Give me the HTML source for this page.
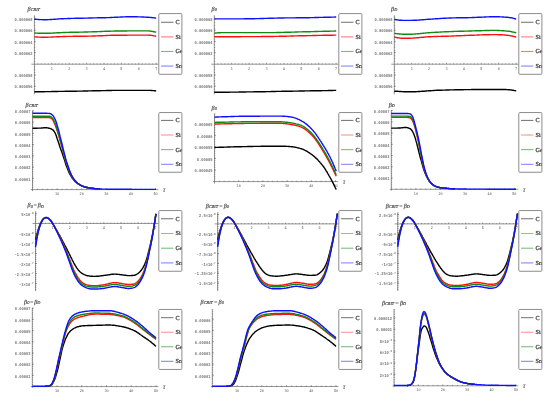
<!DOCTYPE html>
<html><head><meta charset="utf-8"><style>
html,body{margin:0;padding:0;background:#fff;width:550px;height:401px;overflow:hidden}
svg{display:block;will-change:transform}
text{text-rendering:geometricPrecision}
.tl{font-family:"Liberation Mono",monospace;font-size:3.75px;font-weight:bold;fill:#7a7a7a}
.lg{font-family:"Liberation Serif",serif;font-size:6.1px;fill:#2a2a2a;stroke:#2a2a2a;stroke-width:0.22px}
.tt{font-family:"Liberation Serif",serif;font-style:italic;font-size:6.1px;fill:#454545;stroke:#454545;stroke-width:0.15px}
.xl{font-family:"Liberation Mono",monospace;font-size:3.5px;fill:#5a5a5a}
.sb{font-size:4.3px}
.mn{font-style:normal}
.tau{font-family:"Liberation Serif",serif;font-style:italic;font-size:7.6px;fill:#333}
</style></head><body>
<svg width="550" height="401" viewBox="0 0 550 401"><defs><clipPath id="lc1"><rect x="158.80" y="13.60" width="23.10" height="60.70"/></clipPath><clipPath id="lc2"><rect x="338.80" y="13.60" width="23.10" height="60.70"/></clipPath><clipPath id="lc3"><rect x="518.80" y="13.60" width="23.10" height="60.70"/></clipPath><clipPath id="lc4"><rect x="158.80" y="112.55" width="23.10" height="59.70"/></clipPath><clipPath id="lc5"><rect x="518.80" y="112.55" width="23.10" height="59.70"/></clipPath><clipPath id="lc6"><rect x="338.80" y="112.55" width="23.10" height="59.70"/></clipPath><clipPath id="lc7"><rect x="158.80" y="210.55" width="23.10" height="60.70"/></clipPath><clipPath id="lc8"><rect x="338.80" y="210.55" width="23.10" height="60.70"/></clipPath><clipPath id="lc9"><rect x="518.80" y="210.55" width="23.10" height="60.70"/></clipPath><clipPath id="lc10"><rect x="158.80" y="309.45" width="23.10" height="60.00"/></clipPath><clipPath id="lc11"><rect x="338.80" y="309.45" width="23.10" height="60.00"/></clipPath><clipPath id="lc12"><rect x="518.80" y="309.45" width="23.10" height="60.00"/></clipPath></defs>
<line x1="34.40" y1="15.20" x2="34.40" y2="94.40" stroke="#747474" stroke-width="0.75"/>
<line x1="34.20" y1="17.00" x2="35.30" y2="17.00" stroke="#4a4a4a" stroke-width="0.5"/>
<line x1="34.20" y1="19.77" x2="35.30" y2="19.77" stroke="#4a4a4a" stroke-width="0.5"/>
<line x1="34.20" y1="22.55" x2="35.30" y2="22.55" stroke="#4a4a4a" stroke-width="0.5"/>
<line x1="34.20" y1="25.32" x2="35.30" y2="25.32" stroke="#4a4a4a" stroke-width="0.5"/>
<line x1="34.20" y1="28.10" x2="35.30" y2="28.10" stroke="#4a4a4a" stroke-width="0.5"/>
<line x1="34.20" y1="30.87" x2="35.30" y2="30.87" stroke="#4a4a4a" stroke-width="0.5"/>
<line x1="34.20" y1="33.65" x2="35.30" y2="33.65" stroke="#4a4a4a" stroke-width="0.5"/>
<line x1="34.20" y1="36.42" x2="35.30" y2="36.42" stroke="#4a4a4a" stroke-width="0.5"/>
<line x1="34.20" y1="39.20" x2="35.30" y2="39.20" stroke="#4a4a4a" stroke-width="0.5"/>
<line x1="34.20" y1="41.97" x2="35.30" y2="41.97" stroke="#4a4a4a" stroke-width="0.5"/>
<line x1="34.20" y1="44.75" x2="35.30" y2="44.75" stroke="#4a4a4a" stroke-width="0.5"/>
<line x1="34.20" y1="47.52" x2="35.30" y2="47.52" stroke="#4a4a4a" stroke-width="0.5"/>
<line x1="34.20" y1="50.30" x2="35.30" y2="50.30" stroke="#4a4a4a" stroke-width="0.5"/>
<line x1="34.20" y1="53.07" x2="35.30" y2="53.07" stroke="#4a4a4a" stroke-width="0.5"/>
<line x1="34.20" y1="55.85" x2="35.30" y2="55.85" stroke="#4a4a4a" stroke-width="0.5"/>
<line x1="34.20" y1="58.62" x2="35.30" y2="58.62" stroke="#4a4a4a" stroke-width="0.5"/>
<line x1="34.20" y1="61.40" x2="35.30" y2="61.40" stroke="#4a4a4a" stroke-width="0.5"/>
<line x1="34.20" y1="64.17" x2="35.30" y2="64.17" stroke="#4a4a4a" stroke-width="0.5"/>
<line x1="34.20" y1="66.95" x2="35.30" y2="66.95" stroke="#4a4a4a" stroke-width="0.5"/>
<line x1="34.20" y1="69.72" x2="35.30" y2="69.72" stroke="#4a4a4a" stroke-width="0.5"/>
<line x1="34.20" y1="72.50" x2="35.30" y2="72.50" stroke="#4a4a4a" stroke-width="0.5"/>
<line x1="34.20" y1="75.28" x2="35.30" y2="75.28" stroke="#4a4a4a" stroke-width="0.5"/>
<line x1="34.20" y1="78.05" x2="35.30" y2="78.05" stroke="#4a4a4a" stroke-width="0.5"/>
<line x1="34.20" y1="80.83" x2="35.30" y2="80.83" stroke="#4a4a4a" stroke-width="0.5"/>
<line x1="34.20" y1="83.60" x2="35.30" y2="83.60" stroke="#4a4a4a" stroke-width="0.5"/>
<line x1="34.20" y1="86.38" x2="35.30" y2="86.38" stroke="#4a4a4a" stroke-width="0.5"/>
<line x1="34.20" y1="89.15" x2="35.30" y2="89.15" stroke="#4a4a4a" stroke-width="0.5"/>
<line x1="34.20" y1="91.93" x2="35.30" y2="91.93" stroke="#4a4a4a" stroke-width="0.5"/>
<line x1="34.20" y1="19.00" x2="35.80" y2="19.00" stroke="#4a4a4a" stroke-width="0.55"/>
<text transform="translate(32.50,21.20) scale(1,1.18)" class="tl" text-anchor="end">0.000068</text>
<line x1="34.20" y1="30.10" x2="35.80" y2="30.10" stroke="#4a4a4a" stroke-width="0.55"/>
<text transform="translate(32.50,32.30) scale(1,1.18)" class="tl" text-anchor="end">0.000066</text>
<line x1="34.20" y1="41.40" x2="35.80" y2="41.40" stroke="#4a4a4a" stroke-width="0.55"/>
<text transform="translate(32.50,43.60) scale(1,1.18)" class="tl" text-anchor="end">0.000064</text>
<line x1="34.20" y1="52.60" x2="35.80" y2="52.60" stroke="#4a4a4a" stroke-width="0.55"/>
<text transform="translate(32.50,54.80) scale(1,1.18)" class="tl" text-anchor="end">0.000062</text>
<line x1="34.20" y1="75.00" x2="35.80" y2="75.00" stroke="#4a4a4a" stroke-width="0.55"/>
<text transform="translate(32.50,77.20) scale(1,1.18)" class="tl" text-anchor="end">0.000058</text>
<line x1="34.20" y1="86.10" x2="35.80" y2="86.10" stroke="#4a4a4a" stroke-width="0.55"/>
<text transform="translate(32.50,88.30) scale(1,1.18)" class="tl" text-anchor="end">0.000056</text>
<line x1="31.40" y1="64.20" x2="158.80" y2="64.20" stroke="#747474" stroke-width="0.75"/>
<line x1="37.88" y1="64.40" x2="37.88" y2="63.30" stroke="#4a4a4a" stroke-width="0.5"/>
<line x1="41.36" y1="64.40" x2="41.36" y2="63.30" stroke="#4a4a4a" stroke-width="0.5"/>
<line x1="44.84" y1="64.40" x2="44.84" y2="63.30" stroke="#4a4a4a" stroke-width="0.5"/>
<line x1="48.32" y1="64.40" x2="48.32" y2="63.30" stroke="#4a4a4a" stroke-width="0.5"/>
<line x1="55.28" y1="64.40" x2="55.28" y2="63.30" stroke="#4a4a4a" stroke-width="0.5"/>
<line x1="58.76" y1="64.40" x2="58.76" y2="63.30" stroke="#4a4a4a" stroke-width="0.5"/>
<line x1="62.24" y1="64.40" x2="62.24" y2="63.30" stroke="#4a4a4a" stroke-width="0.5"/>
<line x1="65.72" y1="64.40" x2="65.72" y2="63.30" stroke="#4a4a4a" stroke-width="0.5"/>
<line x1="72.68" y1="64.40" x2="72.68" y2="63.30" stroke="#4a4a4a" stroke-width="0.5"/>
<line x1="76.16" y1="64.40" x2="76.16" y2="63.30" stroke="#4a4a4a" stroke-width="0.5"/>
<line x1="79.64" y1="64.40" x2="79.64" y2="63.30" stroke="#4a4a4a" stroke-width="0.5"/>
<line x1="83.12" y1="64.40" x2="83.12" y2="63.30" stroke="#4a4a4a" stroke-width="0.5"/>
<line x1="90.08" y1="64.40" x2="90.08" y2="63.30" stroke="#4a4a4a" stroke-width="0.5"/>
<line x1="93.56" y1="64.40" x2="93.56" y2="63.30" stroke="#4a4a4a" stroke-width="0.5"/>
<line x1="97.04" y1="64.40" x2="97.04" y2="63.30" stroke="#4a4a4a" stroke-width="0.5"/>
<line x1="100.52" y1="64.40" x2="100.52" y2="63.30" stroke="#4a4a4a" stroke-width="0.5"/>
<line x1="107.48" y1="64.40" x2="107.48" y2="63.30" stroke="#4a4a4a" stroke-width="0.5"/>
<line x1="110.96" y1="64.40" x2="110.96" y2="63.30" stroke="#4a4a4a" stroke-width="0.5"/>
<line x1="114.44" y1="64.40" x2="114.44" y2="63.30" stroke="#4a4a4a" stroke-width="0.5"/>
<line x1="117.92" y1="64.40" x2="117.92" y2="63.30" stroke="#4a4a4a" stroke-width="0.5"/>
<line x1="124.88" y1="64.40" x2="124.88" y2="63.30" stroke="#4a4a4a" stroke-width="0.5"/>
<line x1="128.36" y1="64.40" x2="128.36" y2="63.30" stroke="#4a4a4a" stroke-width="0.5"/>
<line x1="131.84" y1="64.40" x2="131.84" y2="63.30" stroke="#4a4a4a" stroke-width="0.5"/>
<line x1="135.32" y1="64.40" x2="135.32" y2="63.30" stroke="#4a4a4a" stroke-width="0.5"/>
<line x1="142.28" y1="64.40" x2="142.28" y2="63.30" stroke="#4a4a4a" stroke-width="0.5"/>
<line x1="145.76" y1="64.40" x2="145.76" y2="63.30" stroke="#4a4a4a" stroke-width="0.5"/>
<line x1="149.24" y1="64.40" x2="149.24" y2="63.30" stroke="#4a4a4a" stroke-width="0.5"/>
<line x1="152.72" y1="64.40" x2="152.72" y2="63.30" stroke="#4a4a4a" stroke-width="0.5"/>
<line x1="51.80" y1="64.40" x2="51.80" y2="62.80" stroke="#4a4a4a" stroke-width="0.55"/>
<text transform="translate(51.80,69.50) scale(1,1.15)" class="xl" text-anchor="middle">1</text>
<line x1="69.20" y1="64.40" x2="69.20" y2="62.80" stroke="#4a4a4a" stroke-width="0.55"/>
<text transform="translate(69.20,69.50) scale(1,1.15)" class="xl" text-anchor="middle">2</text>
<line x1="86.60" y1="64.40" x2="86.60" y2="62.80" stroke="#4a4a4a" stroke-width="0.55"/>
<text transform="translate(86.60,69.50) scale(1,1.15)" class="xl" text-anchor="middle">3</text>
<line x1="104.00" y1="64.40" x2="104.00" y2="62.80" stroke="#4a4a4a" stroke-width="0.55"/>
<text transform="translate(104.00,69.50) scale(1,1.15)" class="xl" text-anchor="middle">4</text>
<line x1="121.40" y1="64.40" x2="121.40" y2="62.80" stroke="#4a4a4a" stroke-width="0.55"/>
<text transform="translate(121.40,69.50) scale(1,1.15)" class="xl" text-anchor="middle">5</text>
<line x1="138.80" y1="64.40" x2="138.80" y2="62.80" stroke="#4a4a4a" stroke-width="0.55"/>
<text transform="translate(138.80,69.50) scale(1,1.15)" class="xl" text-anchor="middle">6</text>
<line x1="156.20" y1="64.40" x2="156.20" y2="62.80" stroke="#4a4a4a" stroke-width="0.55"/>
<text transform="translate(156.20,69.50) scale(1,1.15)" class="xl" text-anchor="middle">7</text>
<rect x="158.80" y="13.60" width="23.10" height="60.70" fill="#ffffff"/>
<g clip-path="url(#lc1)">
<line x1="161.00" y1="22.25" x2="173.40" y2="22.25" stroke="#4a4a4a" stroke-width="0.80"/>
<text x="175.60" y="24.15" class="lg">C</text>
<line x1="161.00" y1="36.85" x2="173.40" y2="36.85" stroke="#ff8c8c" stroke-width="1.10"/>
<text x="175.60" y="38.75" class="lg">Si</text>
<line x1="161.00" y1="51.45" x2="173.40" y2="51.45" stroke="#4aa64a" stroke-width="0.80"/>
<text x="175.60" y="53.35" class="lg">Ge</text>
<line x1="161.00" y1="66.05" x2="173.40" y2="66.05" stroke="#7474ff" stroke-width="0.95"/>
<text x="175.60" y="67.95" class="lg">Sn</text>
</g>
<rect x="158.80" y="13.60" width="23.10" height="60.70" rx="0.9" fill="none" stroke="#8c8c8c" stroke-width="1.0"/>
<line x1="214.30" y1="15.20" x2="214.30" y2="94.40" stroke="#747474" stroke-width="0.75"/>
<line x1="214.10" y1="17.00" x2="215.20" y2="17.00" stroke="#4a4a4a" stroke-width="0.5"/>
<line x1="214.10" y1="19.77" x2="215.20" y2="19.77" stroke="#4a4a4a" stroke-width="0.5"/>
<line x1="214.10" y1="22.55" x2="215.20" y2="22.55" stroke="#4a4a4a" stroke-width="0.5"/>
<line x1="214.10" y1="25.32" x2="215.20" y2="25.32" stroke="#4a4a4a" stroke-width="0.5"/>
<line x1="214.10" y1="28.10" x2="215.20" y2="28.10" stroke="#4a4a4a" stroke-width="0.5"/>
<line x1="214.10" y1="30.87" x2="215.20" y2="30.87" stroke="#4a4a4a" stroke-width="0.5"/>
<line x1="214.10" y1="33.65" x2="215.20" y2="33.65" stroke="#4a4a4a" stroke-width="0.5"/>
<line x1="214.10" y1="36.42" x2="215.20" y2="36.42" stroke="#4a4a4a" stroke-width="0.5"/>
<line x1="214.10" y1="39.20" x2="215.20" y2="39.20" stroke="#4a4a4a" stroke-width="0.5"/>
<line x1="214.10" y1="41.97" x2="215.20" y2="41.97" stroke="#4a4a4a" stroke-width="0.5"/>
<line x1="214.10" y1="44.75" x2="215.20" y2="44.75" stroke="#4a4a4a" stroke-width="0.5"/>
<line x1="214.10" y1="47.52" x2="215.20" y2="47.52" stroke="#4a4a4a" stroke-width="0.5"/>
<line x1="214.10" y1="50.30" x2="215.20" y2="50.30" stroke="#4a4a4a" stroke-width="0.5"/>
<line x1="214.10" y1="53.07" x2="215.20" y2="53.07" stroke="#4a4a4a" stroke-width="0.5"/>
<line x1="214.10" y1="55.85" x2="215.20" y2="55.85" stroke="#4a4a4a" stroke-width="0.5"/>
<line x1="214.10" y1="58.62" x2="215.20" y2="58.62" stroke="#4a4a4a" stroke-width="0.5"/>
<line x1="214.10" y1="61.40" x2="215.20" y2="61.40" stroke="#4a4a4a" stroke-width="0.5"/>
<line x1="214.10" y1="64.17" x2="215.20" y2="64.17" stroke="#4a4a4a" stroke-width="0.5"/>
<line x1="214.10" y1="66.95" x2="215.20" y2="66.95" stroke="#4a4a4a" stroke-width="0.5"/>
<line x1="214.10" y1="69.72" x2="215.20" y2="69.72" stroke="#4a4a4a" stroke-width="0.5"/>
<line x1="214.10" y1="72.50" x2="215.20" y2="72.50" stroke="#4a4a4a" stroke-width="0.5"/>
<line x1="214.10" y1="75.28" x2="215.20" y2="75.28" stroke="#4a4a4a" stroke-width="0.5"/>
<line x1="214.10" y1="78.05" x2="215.20" y2="78.05" stroke="#4a4a4a" stroke-width="0.5"/>
<line x1="214.10" y1="80.83" x2="215.20" y2="80.83" stroke="#4a4a4a" stroke-width="0.5"/>
<line x1="214.10" y1="83.60" x2="215.20" y2="83.60" stroke="#4a4a4a" stroke-width="0.5"/>
<line x1="214.10" y1="86.38" x2="215.20" y2="86.38" stroke="#4a4a4a" stroke-width="0.5"/>
<line x1="214.10" y1="89.15" x2="215.20" y2="89.15" stroke="#4a4a4a" stroke-width="0.5"/>
<line x1="214.10" y1="91.93" x2="215.20" y2="91.93" stroke="#4a4a4a" stroke-width="0.5"/>
<line x1="214.10" y1="19.00" x2="215.70" y2="19.00" stroke="#4a4a4a" stroke-width="0.55"/>
<text transform="translate(212.40,21.20) scale(1,1.18)" class="tl" text-anchor="end">0.000068</text>
<line x1="214.10" y1="30.10" x2="215.70" y2="30.10" stroke="#4a4a4a" stroke-width="0.55"/>
<text transform="translate(212.40,32.30) scale(1,1.18)" class="tl" text-anchor="end">0.000066</text>
<line x1="214.10" y1="41.40" x2="215.70" y2="41.40" stroke="#4a4a4a" stroke-width="0.55"/>
<text transform="translate(212.40,43.60) scale(1,1.18)" class="tl" text-anchor="end">0.000064</text>
<line x1="214.10" y1="52.60" x2="215.70" y2="52.60" stroke="#4a4a4a" stroke-width="0.55"/>
<text transform="translate(212.40,54.80) scale(1,1.18)" class="tl" text-anchor="end">0.000062</text>
<line x1="214.10" y1="75.00" x2="215.70" y2="75.00" stroke="#4a4a4a" stroke-width="0.55"/>
<text transform="translate(212.40,77.20) scale(1,1.18)" class="tl" text-anchor="end">0.000058</text>
<line x1="214.10" y1="86.10" x2="215.70" y2="86.10" stroke="#4a4a4a" stroke-width="0.55"/>
<text transform="translate(212.40,88.30) scale(1,1.18)" class="tl" text-anchor="end">0.000056</text>
<line x1="211.30" y1="64.20" x2="338.80" y2="64.20" stroke="#747474" stroke-width="0.75"/>
<line x1="217.78" y1="64.40" x2="217.78" y2="63.30" stroke="#4a4a4a" stroke-width="0.5"/>
<line x1="221.26" y1="64.40" x2="221.26" y2="63.30" stroke="#4a4a4a" stroke-width="0.5"/>
<line x1="224.74" y1="64.40" x2="224.74" y2="63.30" stroke="#4a4a4a" stroke-width="0.5"/>
<line x1="228.22" y1="64.40" x2="228.22" y2="63.30" stroke="#4a4a4a" stroke-width="0.5"/>
<line x1="235.18" y1="64.40" x2="235.18" y2="63.30" stroke="#4a4a4a" stroke-width="0.5"/>
<line x1="238.66" y1="64.40" x2="238.66" y2="63.30" stroke="#4a4a4a" stroke-width="0.5"/>
<line x1="242.14" y1="64.40" x2="242.14" y2="63.30" stroke="#4a4a4a" stroke-width="0.5"/>
<line x1="245.62" y1="64.40" x2="245.62" y2="63.30" stroke="#4a4a4a" stroke-width="0.5"/>
<line x1="252.58" y1="64.40" x2="252.58" y2="63.30" stroke="#4a4a4a" stroke-width="0.5"/>
<line x1="256.06" y1="64.40" x2="256.06" y2="63.30" stroke="#4a4a4a" stroke-width="0.5"/>
<line x1="259.54" y1="64.40" x2="259.54" y2="63.30" stroke="#4a4a4a" stroke-width="0.5"/>
<line x1="263.02" y1="64.40" x2="263.02" y2="63.30" stroke="#4a4a4a" stroke-width="0.5"/>
<line x1="269.98" y1="64.40" x2="269.98" y2="63.30" stroke="#4a4a4a" stroke-width="0.5"/>
<line x1="273.46" y1="64.40" x2="273.46" y2="63.30" stroke="#4a4a4a" stroke-width="0.5"/>
<line x1="276.94" y1="64.40" x2="276.94" y2="63.30" stroke="#4a4a4a" stroke-width="0.5"/>
<line x1="280.42" y1="64.40" x2="280.42" y2="63.30" stroke="#4a4a4a" stroke-width="0.5"/>
<line x1="287.38" y1="64.40" x2="287.38" y2="63.30" stroke="#4a4a4a" stroke-width="0.5"/>
<line x1="290.86" y1="64.40" x2="290.86" y2="63.30" stroke="#4a4a4a" stroke-width="0.5"/>
<line x1="294.34" y1="64.40" x2="294.34" y2="63.30" stroke="#4a4a4a" stroke-width="0.5"/>
<line x1="297.82" y1="64.40" x2="297.82" y2="63.30" stroke="#4a4a4a" stroke-width="0.5"/>
<line x1="304.78" y1="64.40" x2="304.78" y2="63.30" stroke="#4a4a4a" stroke-width="0.5"/>
<line x1="308.26" y1="64.40" x2="308.26" y2="63.30" stroke="#4a4a4a" stroke-width="0.5"/>
<line x1="311.74" y1="64.40" x2="311.74" y2="63.30" stroke="#4a4a4a" stroke-width="0.5"/>
<line x1="315.22" y1="64.40" x2="315.22" y2="63.30" stroke="#4a4a4a" stroke-width="0.5"/>
<line x1="322.18" y1="64.40" x2="322.18" y2="63.30" stroke="#4a4a4a" stroke-width="0.5"/>
<line x1="325.66" y1="64.40" x2="325.66" y2="63.30" stroke="#4a4a4a" stroke-width="0.5"/>
<line x1="329.14" y1="64.40" x2="329.14" y2="63.30" stroke="#4a4a4a" stroke-width="0.5"/>
<line x1="332.62" y1="64.40" x2="332.62" y2="63.30" stroke="#4a4a4a" stroke-width="0.5"/>
<line x1="231.70" y1="64.40" x2="231.70" y2="62.80" stroke="#4a4a4a" stroke-width="0.55"/>
<text transform="translate(231.70,69.50) scale(1,1.15)" class="xl" text-anchor="middle">1</text>
<line x1="249.10" y1="64.40" x2="249.10" y2="62.80" stroke="#4a4a4a" stroke-width="0.55"/>
<text transform="translate(249.10,69.50) scale(1,1.15)" class="xl" text-anchor="middle">2</text>
<line x1="266.50" y1="64.40" x2="266.50" y2="62.80" stroke="#4a4a4a" stroke-width="0.55"/>
<text transform="translate(266.50,69.50) scale(1,1.15)" class="xl" text-anchor="middle">3</text>
<line x1="283.90" y1="64.40" x2="283.90" y2="62.80" stroke="#4a4a4a" stroke-width="0.55"/>
<text transform="translate(283.90,69.50) scale(1,1.15)" class="xl" text-anchor="middle">4</text>
<line x1="301.30" y1="64.40" x2="301.30" y2="62.80" stroke="#4a4a4a" stroke-width="0.55"/>
<text transform="translate(301.30,69.50) scale(1,1.15)" class="xl" text-anchor="middle">5</text>
<line x1="318.70" y1="64.40" x2="318.70" y2="62.80" stroke="#4a4a4a" stroke-width="0.55"/>
<text transform="translate(318.70,69.50) scale(1,1.15)" class="xl" text-anchor="middle">6</text>
<line x1="336.10" y1="64.40" x2="336.10" y2="62.80" stroke="#4a4a4a" stroke-width="0.55"/>
<text transform="translate(336.10,69.50) scale(1,1.15)" class="xl" text-anchor="middle">7</text>
<rect x="338.80" y="13.60" width="23.10" height="60.70" fill="#ffffff"/>
<g clip-path="url(#lc2)">
<line x1="341.00" y1="22.25" x2="353.40" y2="22.25" stroke="#4a4a4a" stroke-width="0.80"/>
<text x="355.60" y="24.15" class="lg">C</text>
<line x1="341.00" y1="36.85" x2="353.40" y2="36.85" stroke="#ff8c8c" stroke-width="1.10"/>
<text x="355.60" y="38.75" class="lg">Si</text>
<line x1="341.00" y1="51.45" x2="353.40" y2="51.45" stroke="#4aa64a" stroke-width="0.80"/>
<text x="355.60" y="53.35" class="lg">Ge</text>
<line x1="341.00" y1="66.05" x2="353.40" y2="66.05" stroke="#7474ff" stroke-width="0.95"/>
<text x="355.60" y="67.95" class="lg">Sn</text>
</g>
<rect x="338.80" y="13.60" width="23.10" height="60.70" rx="0.9" fill="none" stroke="#8c8c8c" stroke-width="1.0"/>
<line x1="394.30" y1="15.20" x2="394.30" y2="94.40" stroke="#747474" stroke-width="0.75"/>
<line x1="394.10" y1="17.00" x2="395.20" y2="17.00" stroke="#4a4a4a" stroke-width="0.5"/>
<line x1="394.10" y1="19.77" x2="395.20" y2="19.77" stroke="#4a4a4a" stroke-width="0.5"/>
<line x1="394.10" y1="22.55" x2="395.20" y2="22.55" stroke="#4a4a4a" stroke-width="0.5"/>
<line x1="394.10" y1="25.32" x2="395.20" y2="25.32" stroke="#4a4a4a" stroke-width="0.5"/>
<line x1="394.10" y1="28.10" x2="395.20" y2="28.10" stroke="#4a4a4a" stroke-width="0.5"/>
<line x1="394.10" y1="30.87" x2="395.20" y2="30.87" stroke="#4a4a4a" stroke-width="0.5"/>
<line x1="394.10" y1="33.65" x2="395.20" y2="33.65" stroke="#4a4a4a" stroke-width="0.5"/>
<line x1="394.10" y1="36.42" x2="395.20" y2="36.42" stroke="#4a4a4a" stroke-width="0.5"/>
<line x1="394.10" y1="39.20" x2="395.20" y2="39.20" stroke="#4a4a4a" stroke-width="0.5"/>
<line x1="394.10" y1="41.97" x2="395.20" y2="41.97" stroke="#4a4a4a" stroke-width="0.5"/>
<line x1="394.10" y1="44.75" x2="395.20" y2="44.75" stroke="#4a4a4a" stroke-width="0.5"/>
<line x1="394.10" y1="47.52" x2="395.20" y2="47.52" stroke="#4a4a4a" stroke-width="0.5"/>
<line x1="394.10" y1="50.30" x2="395.20" y2="50.30" stroke="#4a4a4a" stroke-width="0.5"/>
<line x1="394.10" y1="53.07" x2="395.20" y2="53.07" stroke="#4a4a4a" stroke-width="0.5"/>
<line x1="394.10" y1="55.85" x2="395.20" y2="55.85" stroke="#4a4a4a" stroke-width="0.5"/>
<line x1="394.10" y1="58.62" x2="395.20" y2="58.62" stroke="#4a4a4a" stroke-width="0.5"/>
<line x1="394.10" y1="61.40" x2="395.20" y2="61.40" stroke="#4a4a4a" stroke-width="0.5"/>
<line x1="394.10" y1="64.17" x2="395.20" y2="64.17" stroke="#4a4a4a" stroke-width="0.5"/>
<line x1="394.10" y1="66.95" x2="395.20" y2="66.95" stroke="#4a4a4a" stroke-width="0.5"/>
<line x1="394.10" y1="69.72" x2="395.20" y2="69.72" stroke="#4a4a4a" stroke-width="0.5"/>
<line x1="394.10" y1="72.50" x2="395.20" y2="72.50" stroke="#4a4a4a" stroke-width="0.5"/>
<line x1="394.10" y1="75.28" x2="395.20" y2="75.28" stroke="#4a4a4a" stroke-width="0.5"/>
<line x1="394.10" y1="78.05" x2="395.20" y2="78.05" stroke="#4a4a4a" stroke-width="0.5"/>
<line x1="394.10" y1="80.83" x2="395.20" y2="80.83" stroke="#4a4a4a" stroke-width="0.5"/>
<line x1="394.10" y1="83.60" x2="395.20" y2="83.60" stroke="#4a4a4a" stroke-width="0.5"/>
<line x1="394.10" y1="86.38" x2="395.20" y2="86.38" stroke="#4a4a4a" stroke-width="0.5"/>
<line x1="394.10" y1="89.15" x2="395.20" y2="89.15" stroke="#4a4a4a" stroke-width="0.5"/>
<line x1="394.10" y1="91.93" x2="395.20" y2="91.93" stroke="#4a4a4a" stroke-width="0.5"/>
<line x1="394.10" y1="19.00" x2="395.70" y2="19.00" stroke="#4a4a4a" stroke-width="0.55"/>
<text transform="translate(392.40,21.20) scale(1,1.18)" class="tl" text-anchor="end">0.000068</text>
<line x1="394.10" y1="30.10" x2="395.70" y2="30.10" stroke="#4a4a4a" stroke-width="0.55"/>
<text transform="translate(392.40,32.30) scale(1,1.18)" class="tl" text-anchor="end">0.000066</text>
<line x1="394.10" y1="41.40" x2="395.70" y2="41.40" stroke="#4a4a4a" stroke-width="0.55"/>
<text transform="translate(392.40,43.60) scale(1,1.18)" class="tl" text-anchor="end">0.000064</text>
<line x1="394.10" y1="52.60" x2="395.70" y2="52.60" stroke="#4a4a4a" stroke-width="0.55"/>
<text transform="translate(392.40,54.80) scale(1,1.18)" class="tl" text-anchor="end">0.000062</text>
<line x1="394.10" y1="75.00" x2="395.70" y2="75.00" stroke="#4a4a4a" stroke-width="0.55"/>
<text transform="translate(392.40,77.20) scale(1,1.18)" class="tl" text-anchor="end">0.000058</text>
<line x1="394.10" y1="86.10" x2="395.70" y2="86.10" stroke="#4a4a4a" stroke-width="0.55"/>
<text transform="translate(392.40,88.30) scale(1,1.18)" class="tl" text-anchor="end">0.000056</text>
<line x1="391.30" y1="64.20" x2="518.80" y2="64.20" stroke="#747474" stroke-width="0.75"/>
<line x1="397.78" y1="64.40" x2="397.78" y2="63.30" stroke="#4a4a4a" stroke-width="0.5"/>
<line x1="401.26" y1="64.40" x2="401.26" y2="63.30" stroke="#4a4a4a" stroke-width="0.5"/>
<line x1="404.74" y1="64.40" x2="404.74" y2="63.30" stroke="#4a4a4a" stroke-width="0.5"/>
<line x1="408.22" y1="64.40" x2="408.22" y2="63.30" stroke="#4a4a4a" stroke-width="0.5"/>
<line x1="415.18" y1="64.40" x2="415.18" y2="63.30" stroke="#4a4a4a" stroke-width="0.5"/>
<line x1="418.66" y1="64.40" x2="418.66" y2="63.30" stroke="#4a4a4a" stroke-width="0.5"/>
<line x1="422.14" y1="64.40" x2="422.14" y2="63.30" stroke="#4a4a4a" stroke-width="0.5"/>
<line x1="425.62" y1="64.40" x2="425.62" y2="63.30" stroke="#4a4a4a" stroke-width="0.5"/>
<line x1="432.58" y1="64.40" x2="432.58" y2="63.30" stroke="#4a4a4a" stroke-width="0.5"/>
<line x1="436.06" y1="64.40" x2="436.06" y2="63.30" stroke="#4a4a4a" stroke-width="0.5"/>
<line x1="439.54" y1="64.40" x2="439.54" y2="63.30" stroke="#4a4a4a" stroke-width="0.5"/>
<line x1="443.02" y1="64.40" x2="443.02" y2="63.30" stroke="#4a4a4a" stroke-width="0.5"/>
<line x1="449.98" y1="64.40" x2="449.98" y2="63.30" stroke="#4a4a4a" stroke-width="0.5"/>
<line x1="453.46" y1="64.40" x2="453.46" y2="63.30" stroke="#4a4a4a" stroke-width="0.5"/>
<line x1="456.94" y1="64.40" x2="456.94" y2="63.30" stroke="#4a4a4a" stroke-width="0.5"/>
<line x1="460.42" y1="64.40" x2="460.42" y2="63.30" stroke="#4a4a4a" stroke-width="0.5"/>
<line x1="467.38" y1="64.40" x2="467.38" y2="63.30" stroke="#4a4a4a" stroke-width="0.5"/>
<line x1="470.86" y1="64.40" x2="470.86" y2="63.30" stroke="#4a4a4a" stroke-width="0.5"/>
<line x1="474.34" y1="64.40" x2="474.34" y2="63.30" stroke="#4a4a4a" stroke-width="0.5"/>
<line x1="477.82" y1="64.40" x2="477.82" y2="63.30" stroke="#4a4a4a" stroke-width="0.5"/>
<line x1="484.78" y1="64.40" x2="484.78" y2="63.30" stroke="#4a4a4a" stroke-width="0.5"/>
<line x1="488.26" y1="64.40" x2="488.26" y2="63.30" stroke="#4a4a4a" stroke-width="0.5"/>
<line x1="491.74" y1="64.40" x2="491.74" y2="63.30" stroke="#4a4a4a" stroke-width="0.5"/>
<line x1="495.22" y1="64.40" x2="495.22" y2="63.30" stroke="#4a4a4a" stroke-width="0.5"/>
<line x1="502.18" y1="64.40" x2="502.18" y2="63.30" stroke="#4a4a4a" stroke-width="0.5"/>
<line x1="505.66" y1="64.40" x2="505.66" y2="63.30" stroke="#4a4a4a" stroke-width="0.5"/>
<line x1="509.14" y1="64.40" x2="509.14" y2="63.30" stroke="#4a4a4a" stroke-width="0.5"/>
<line x1="512.62" y1="64.40" x2="512.62" y2="63.30" stroke="#4a4a4a" stroke-width="0.5"/>
<line x1="411.70" y1="64.40" x2="411.70" y2="62.80" stroke="#4a4a4a" stroke-width="0.55"/>
<text transform="translate(411.70,69.50) scale(1,1.15)" class="xl" text-anchor="middle">1</text>
<line x1="429.10" y1="64.40" x2="429.10" y2="62.80" stroke="#4a4a4a" stroke-width="0.55"/>
<text transform="translate(429.10,69.50) scale(1,1.15)" class="xl" text-anchor="middle">2</text>
<line x1="446.50" y1="64.40" x2="446.50" y2="62.80" stroke="#4a4a4a" stroke-width="0.55"/>
<text transform="translate(446.50,69.50) scale(1,1.15)" class="xl" text-anchor="middle">3</text>
<line x1="463.90" y1="64.40" x2="463.90" y2="62.80" stroke="#4a4a4a" stroke-width="0.55"/>
<text transform="translate(463.90,69.50) scale(1,1.15)" class="xl" text-anchor="middle">4</text>
<line x1="481.30" y1="64.40" x2="481.30" y2="62.80" stroke="#4a4a4a" stroke-width="0.55"/>
<text transform="translate(481.30,69.50) scale(1,1.15)" class="xl" text-anchor="middle">5</text>
<line x1="498.70" y1="64.40" x2="498.70" y2="62.80" stroke="#4a4a4a" stroke-width="0.55"/>
<text transform="translate(498.70,69.50) scale(1,1.15)" class="xl" text-anchor="middle">6</text>
<line x1="516.10" y1="64.40" x2="516.10" y2="62.80" stroke="#4a4a4a" stroke-width="0.55"/>
<text transform="translate(516.10,69.50) scale(1,1.15)" class="xl" text-anchor="middle">7</text>
<rect x="518.80" y="13.60" width="23.10" height="60.70" fill="#ffffff"/>
<g clip-path="url(#lc3)">
<line x1="521.00" y1="22.25" x2="533.40" y2="22.25" stroke="#4a4a4a" stroke-width="0.80"/>
<text x="535.60" y="24.15" class="lg">C</text>
<line x1="521.00" y1="36.85" x2="533.40" y2="36.85" stroke="#ff8c8c" stroke-width="1.10"/>
<text x="535.60" y="38.75" class="lg">Si</text>
<line x1="521.00" y1="51.45" x2="533.40" y2="51.45" stroke="#4aa64a" stroke-width="0.80"/>
<text x="535.60" y="53.35" class="lg">Ge</text>
<line x1="521.00" y1="66.05" x2="533.40" y2="66.05" stroke="#7474ff" stroke-width="0.95"/>
<text x="535.60" y="67.95" class="lg">Sn</text>
</g>
<rect x="518.80" y="13.60" width="23.10" height="60.70" rx="0.9" fill="none" stroke="#8c8c8c" stroke-width="1.0"/>
<text x="27.60" y="10.90" class="tt">&#946;<tspan class="sb" dy="0.25">CRIT</tspan></text>
<text x="211.60" y="11.10" class="tt">&#946;<tspan class="sb" dy="0.25">0</tspan></text>
<text x="391.10" y="11.10" class="tt">&#946;<tspan class="sb" dy="0.25">D</tspan></text>
<path d="M34.4,91.8 35.2,91.8 35.9,91.8 36.7,91.8 37.4,91.8 38.2,91.7 38.9,91.7 39.7,91.7 40.4,91.7 41.2,91.7 41.9,91.7 42.7,91.7 43.4,91.7 44.2,91.7 44.9,91.6 45.7,91.6 46.4,91.6 47.2,91.6 47.9,91.6 48.7,91.6 49.4,91.6 50.2,91.6 50.9,91.6 51.7,91.5 52.4,91.5 53.2,91.5 53.9,91.5 54.7,91.5 55.4,91.5 56.2,91.5 56.9,91.5 57.7,91.5 58.4,91.4 59.2,91.4 59.9,91.4 60.7,91.4 61.4,91.4 62.2,91.4 62.9,91.4 63.7,91.4 64.4,91.4 65.2,91.3 65.9,91.3 66.7,91.3 67.4,91.3 68.2,91.3 68.9,91.3 69.7,91.3 70.4,91.3 71.2,91.2 71.9,91.2 72.7,91.2 73.4,91.2 74.2,91.2 74.9,91.2 75.7,91.2 76.4,91.2 77.2,91.1 77.9,91.1 78.7,91.1 79.4,91.1 80.2,91.1 80.9,91.1 81.7,91.1 82.4,91.1 83.2,91.0 83.9,91.0 84.7,91.0 85.4,91.0 86.2,91.0 86.9,91.0 87.7,91.0 88.4,90.9 89.2,90.9 89.9,90.9 90.7,90.9 91.4,90.9 92.2,90.8 92.9,90.8 93.7,90.8 94.4,90.8 95.2,90.8 95.9,90.8 96.7,90.7 97.4,90.7 98.2,90.7 98.9,90.7 99.7,90.7 100.4,90.7 101.2,90.6 101.9,90.6 102.7,90.6 103.4,90.6 104.2,90.6 104.9,90.6 105.7,90.6 106.4,90.5 107.2,90.5 107.9,90.5 108.7,90.5 109.4,90.5 110.2,90.5 110.9,90.5 111.7,90.5 112.4,90.4 113.2,90.4 113.9,90.4 114.7,90.4 115.4,90.4 116.2,90.4 116.9,90.4 117.7,90.4 118.4,90.4 119.2,90.4 119.9,90.4 120.7,90.4 121.4,90.4 122.2,90.4 122.9,90.4 123.7,90.4 124.4,90.4 125.2,90.4 125.9,90.4 126.7,90.4 127.4,90.4 128.2,90.4 128.9,90.4 129.7,90.4 130.4,90.4 131.2,90.4 131.9,90.4 132.7,90.4 133.4,90.4 134.2,90.4 134.9,90.4 135.7,90.4 136.4,90.4 137.2,90.4 137.9,90.4 138.7,90.4 139.4,90.4 140.2,90.4 140.9,90.4 141.7,90.4 142.4,90.4 143.2,90.4 143.9,90.4 144.7,90.4 145.4,90.4 146.2,90.4 146.9,90.4 147.7,90.4 148.4,90.4 149.2,90.4 149.9,90.4 150.7,90.4 151.4,90.5 152.2,90.5 152.9,90.6 153.7,90.6 154.4,90.7 155.2,90.8 155.9,90.9 156.2,90.9" fill="none" stroke="#000000" stroke-width="1.40" stroke-linejoin="round" stroke-linecap="butt"/>
<path d="M34.4,36.9 35.2,36.9 35.9,37.0 36.7,37.0 37.4,37.0 38.2,37.1 38.9,37.1 39.7,37.1 40.4,37.1 41.2,37.2 41.9,37.2 42.7,37.2 43.4,37.2 44.2,37.2 44.9,37.2 45.7,37.2 46.4,37.2 47.2,37.2 47.9,37.2 48.7,37.1 49.4,37.1 50.2,37.1 50.9,37.1 51.7,37.0 52.4,37.0 53.2,37.0 53.9,36.9 54.7,36.9 55.4,36.9 56.2,36.8 56.9,36.8 57.7,36.7 58.4,36.7 59.2,36.7 59.9,36.6 60.7,36.6 61.4,36.6 62.2,36.6 62.9,36.5 63.7,36.5 64.4,36.5 65.2,36.5 65.9,36.5 66.7,36.4 67.4,36.4 68.2,36.4 68.9,36.4 69.7,36.4 70.4,36.4 71.2,36.4 71.9,36.4 72.7,36.4 73.4,36.3 74.2,36.3 74.9,36.3 75.7,36.3 76.4,36.3 77.2,36.3 77.9,36.3 78.7,36.3 79.4,36.3 80.2,36.3 80.9,36.2 81.7,36.2 82.4,36.2 83.2,36.2 83.9,36.2 84.7,36.2 85.4,36.2 86.2,36.2 86.9,36.2 87.7,36.1 88.4,36.1 89.2,36.1 89.9,36.1 90.7,36.1 91.4,36.1 92.2,36.0 92.9,36.0 93.7,36.0 94.4,36.0 95.2,36.0 95.9,35.9 96.7,35.9 97.4,35.9 98.2,35.8 98.9,35.8 99.7,35.8 100.4,35.7 101.2,35.7 101.9,35.7 102.7,35.7 103.4,35.6 104.2,35.6 104.9,35.6 105.7,35.5 106.4,35.5 107.2,35.5 107.9,35.4 108.7,35.4 109.4,35.4 110.2,35.4 110.9,35.3 111.7,35.3 112.4,35.3 113.2,35.3 113.9,35.3 114.7,35.2 115.4,35.2 116.2,35.2 116.9,35.2 117.7,35.2 118.4,35.2 119.2,35.2 119.9,35.2 120.7,35.2 121.4,35.2 122.2,35.2 122.9,35.2 123.7,35.2 124.4,35.2 125.2,35.2 125.9,35.2 126.7,35.2 127.4,35.1 128.2,35.1 128.9,35.1 129.7,35.1 130.4,35.1 131.2,35.1 131.9,35.1 132.7,35.1 133.4,35.1 134.2,35.1 134.9,35.1 135.7,35.1 136.4,35.1 137.2,35.1 137.9,35.1 138.7,35.1 139.4,35.1 140.2,35.1 140.9,35.1 141.7,35.1 142.4,35.1 143.2,35.1 143.9,35.1 144.7,35.1 145.4,35.1 146.2,35.1 146.9,35.1 147.7,35.1 148.4,35.1 149.2,35.2 149.9,35.2 150.7,35.3 151.4,35.4 152.2,35.5 152.9,35.6 153.7,35.8 154.4,35.9 155.2,36.0 155.9,36.2 156.2,36.2" fill="none" stroke="#ff1010" stroke-width="1.40" stroke-linejoin="round" stroke-linecap="butt"/>
<path d="M34.4,33.0 35.2,33.0 35.9,33.1 36.7,33.1 37.4,33.1 38.2,33.2 38.9,33.2 39.7,33.2 40.4,33.2 41.2,33.3 41.9,33.3 42.7,33.3 43.4,33.3 44.2,33.3 44.9,33.3 45.7,33.3 46.4,33.3 47.2,33.3 47.9,33.3 48.7,33.2 49.4,33.2 50.2,33.2 50.9,33.2 51.7,33.1 52.4,33.1 53.2,33.0 53.9,33.0 54.7,33.0 55.4,32.9 56.2,32.9 56.9,32.8 57.7,32.8 58.4,32.8 59.2,32.7 59.9,32.7 60.7,32.6 61.4,32.6 62.2,32.6 62.9,32.5 63.7,32.5 64.4,32.5 65.2,32.5 65.9,32.4 66.7,32.4 67.4,32.4 68.2,32.4 68.9,32.4 69.7,32.3 70.4,32.3 71.2,32.3 71.9,32.3 72.7,32.3 73.4,32.3 74.2,32.2 74.9,32.2 75.7,32.2 76.4,32.2 77.2,32.2 77.9,32.2 78.7,32.2 79.4,32.1 80.2,32.1 80.9,32.1 81.7,32.1 82.4,32.1 83.2,32.1 83.9,32.0 84.7,32.0 85.4,32.0 86.2,32.0 86.9,32.0 87.7,32.0 88.4,31.9 89.2,31.9 89.9,31.9 90.7,31.9 91.4,31.9 92.2,31.8 92.9,31.8 93.7,31.8 94.4,31.8 95.2,31.7 95.9,31.7 96.7,31.7 97.4,31.6 98.2,31.6 98.9,31.6 99.7,31.6 100.4,31.5 101.2,31.5 101.9,31.5 102.7,31.4 103.4,31.4 104.2,31.4 104.9,31.3 105.7,31.3 106.4,31.3 107.2,31.3 107.9,31.2 108.7,31.2 109.4,31.2 110.2,31.2 110.9,31.1 111.7,31.1 112.4,31.1 113.2,31.1 113.9,31.1 114.7,31.0 115.4,31.0 116.2,31.0 116.9,31.0 117.7,31.0 118.4,31.0 119.2,31.0 119.9,31.0 120.7,31.0 121.4,31.0 122.2,31.0 122.9,31.0 123.7,31.0 124.4,31.0 125.2,31.0 125.9,31.0 126.7,31.0 127.4,30.9 128.2,30.9 128.9,30.9 129.7,30.9 130.4,30.9 131.2,30.9 131.9,30.9 132.7,30.9 133.4,30.9 134.2,30.9 134.9,30.9 135.7,30.9 136.4,30.9 137.2,30.9 137.9,30.9 138.7,30.9 139.4,30.9 140.2,30.9 140.9,30.9 141.7,30.9 142.4,30.9 143.2,30.9 143.9,30.9 144.7,30.9 145.4,30.9 146.2,30.9 146.9,30.9 147.7,30.9 148.4,30.9 149.2,31.0 149.9,31.0 150.7,31.1 151.4,31.2 152.2,31.4 152.9,31.5 153.7,31.7 154.4,31.8 155.2,32.0 155.9,32.1 156.2,32.2" fill="none" stroke="#108a10" stroke-width="1.40" stroke-linejoin="round" stroke-linecap="butt"/>
<path d="M34.4,19.2 35.2,19.3 35.9,19.3 36.7,19.4 37.4,19.4 38.2,19.5 38.9,19.5 39.7,19.6 40.4,19.6 41.2,19.6 41.9,19.6 42.7,19.7 43.4,19.7 44.2,19.7 44.9,19.7 45.7,19.7 46.4,19.7 47.2,19.7 47.9,19.6 48.7,19.6 49.4,19.6 50.2,19.5 50.9,19.5 51.7,19.5 52.4,19.4 53.2,19.4 53.9,19.3 54.7,19.2 55.4,19.2 56.2,19.1 56.9,19.1 57.7,19.0 58.4,19.0 59.2,18.9 59.9,18.9 60.7,18.8 61.4,18.8 62.2,18.7 62.9,18.7 63.7,18.7 64.4,18.6 65.2,18.6 65.9,18.6 66.7,18.6 67.4,18.5 68.2,18.5 68.9,18.5 69.7,18.5 70.4,18.5 71.2,18.4 71.9,18.4 72.7,18.4 73.4,18.4 74.2,18.4 74.9,18.3 75.7,18.3 76.4,18.3 77.2,18.3 77.9,18.3 78.7,18.2 79.4,18.2 80.2,18.2 80.9,18.2 81.7,18.2 82.4,18.2 83.2,18.2 83.9,18.1 84.7,18.1 85.4,18.1 86.2,18.1 86.9,18.1 87.7,18.1 88.4,18.0 89.2,18.0 89.9,18.0 90.7,18.0 91.4,18.0 92.2,18.0 92.9,17.9 93.7,17.9 94.4,17.9 95.2,17.9 95.9,17.9 96.7,17.9 97.4,17.8 98.2,17.8 98.9,17.8 99.7,17.8 100.4,17.8 101.2,17.8 101.9,17.7 102.7,17.7 103.4,17.7 104.2,17.7 104.9,17.7 105.7,17.7 106.4,17.6 107.2,17.6 107.9,17.6 108.7,17.6 109.4,17.6 110.2,17.5 110.9,17.5 111.7,17.5 112.4,17.4 113.2,17.4 113.9,17.4 114.7,17.3 115.4,17.3 116.2,17.3 116.9,17.2 117.7,17.2 118.4,17.1 119.2,17.1 119.9,17.1 120.7,17.0 121.4,17.0 122.2,17.0 122.9,16.9 123.7,16.9 124.4,16.9 125.2,16.9 125.9,16.8 126.7,16.8 127.4,16.8 128.2,16.8 128.9,16.8 129.7,16.8 130.4,16.8 131.2,16.8 131.9,16.8 132.7,16.8 133.4,16.8 134.2,16.8 134.9,16.8 135.7,16.8 136.4,16.8 137.2,16.8 137.9,16.9 138.7,16.9 139.4,16.9 140.2,16.9 140.9,16.9 141.7,17.0 142.4,17.0 143.2,17.0 143.9,17.0 144.7,17.1 145.4,17.1 146.2,17.2 146.9,17.2 147.7,17.2 148.4,17.3 149.2,17.4 149.9,17.4 150.7,17.5 151.4,17.5 152.2,17.6 152.9,17.7 153.7,17.8 154.4,17.9 155.2,18.0 155.9,18.1 156.2,18.1" fill="none" stroke="#1010ff" stroke-width="1.40" stroke-linejoin="round" stroke-linecap="butt"/>
<path d="M214.3,92.3 215.0,92.3 215.8,92.3 216.5,92.3 217.3,92.3 218.0,92.3 218.8,92.3 219.5,92.3 220.3,92.2 221.0,92.2 221.8,92.2 222.5,92.2 223.3,92.2 224.0,92.2 224.8,92.2 225.5,92.2 226.3,92.2 227.0,92.2 227.8,92.2 228.5,92.2 229.3,92.2 230.0,92.1 230.8,92.1 231.5,92.1 232.3,92.1 233.0,92.1 233.8,92.1 234.5,92.1 235.3,92.1 236.0,92.1 236.8,92.1 237.5,92.1 238.3,92.1 239.0,92.0 239.8,92.0 240.5,92.0 241.3,92.0 242.0,92.0 242.8,92.0 243.5,92.0 244.3,92.0 245.0,92.0 245.8,92.0 246.5,91.9 247.3,91.9 248.0,91.9 248.8,91.9 249.5,91.9 250.3,91.9 251.0,91.9 251.8,91.9 252.5,91.9 253.3,91.9 254.0,91.8 254.8,91.8 255.5,91.8 256.3,91.8 257.0,91.8 257.8,91.8 258.5,91.8 259.3,91.8 260.0,91.7 260.8,91.7 261.5,91.7 262.3,91.7 263.0,91.7 263.8,91.7 264.5,91.7 265.3,91.7 266.0,91.6 266.8,91.6 267.5,91.6 268.3,91.6 269.0,91.6 269.8,91.6 270.5,91.6 271.3,91.5 272.0,91.5 272.8,91.5 273.5,91.5 274.3,91.5 275.0,91.5 275.7,91.5 276.5,91.4 277.2,91.4 278.0,91.4 278.7,91.4 279.5,91.4 280.2,91.4 281.0,91.4 281.7,91.3 282.5,91.3 283.2,91.3 284.0,91.3 284.7,91.3 285.5,91.3 286.2,91.3 287.0,91.3 287.7,91.2 288.5,91.2 289.2,91.2 290.0,91.2 290.7,91.2 291.5,91.2 292.2,91.2 293.0,91.1 293.7,91.1 294.5,91.1 295.2,91.1 296.0,91.1 296.7,91.1 297.5,91.1 298.2,91.1 299.0,91.0 299.7,91.0 300.5,91.0 301.2,91.0 302.0,91.0 302.7,91.0 303.5,91.0 304.2,91.0 305.0,90.9 305.7,90.9 306.5,90.9 307.2,90.9 308.0,90.9 308.7,90.9 309.5,90.9 310.2,90.8 311.0,90.8 311.7,90.8 312.5,90.8 313.2,90.8 314.0,90.8 314.7,90.8 315.5,90.8 316.2,90.7 317.0,90.7 317.7,90.7 318.5,90.7 319.2,90.7 320.0,90.7 320.7,90.7 321.5,90.7 322.2,90.6 323.0,90.6 323.7,90.6 324.5,90.6 325.2,90.6 326.0,90.6 326.7,90.6 327.5,90.6 328.2,90.5 329.0,90.5 329.7,90.5 330.5,90.5 331.2,90.5 332.0,90.5 332.7,90.5 333.5,90.4 334.2,90.4 335.0,90.4 335.7,90.4 336.2,90.4" fill="none" stroke="#000000" stroke-width="1.40" stroke-linejoin="round" stroke-linecap="butt"/>
<path d="M214.3,36.8 215.0,36.8 215.8,36.8 216.5,36.8 217.3,36.8 218.0,36.8 218.8,36.8 219.5,36.8 220.3,36.8 221.0,36.8 221.8,36.8 222.5,36.8 223.3,36.7 224.0,36.7 224.8,36.7 225.5,36.7 226.3,36.7 227.0,36.7 227.8,36.7 228.5,36.7 229.3,36.7 230.0,36.7 230.8,36.7 231.5,36.7 232.3,36.7 233.0,36.7 233.8,36.7 234.5,36.7 235.3,36.7 236.0,36.7 236.8,36.7 237.5,36.7 238.3,36.7 239.0,36.7 239.8,36.7 240.5,36.7 241.3,36.6 242.0,36.6 242.8,36.6 243.5,36.6 244.3,36.6 245.0,36.6 245.8,36.6 246.5,36.6 247.3,36.6 248.0,36.6 248.8,36.6 249.5,36.6 250.3,36.6 251.0,36.6 251.8,36.6 252.5,36.6 253.3,36.6 254.0,36.6 254.8,36.6 255.5,36.6 256.3,36.6 257.0,36.6 257.8,36.6 258.5,36.6 259.3,36.6 260.0,36.6 260.8,36.6 261.5,36.5 262.3,36.5 263.0,36.5 263.8,36.5 264.5,36.5 265.3,36.5 266.0,36.5 266.8,36.5 267.5,36.5 268.3,36.5 269.0,36.5 269.8,36.5 270.5,36.5 271.3,36.5 272.0,36.5 272.8,36.5 273.5,36.5 274.3,36.4 275.0,36.4 275.7,36.4 276.5,36.4 277.2,36.4 278.0,36.4 278.7,36.4 279.5,36.3 280.2,36.3 281.0,36.3 281.7,36.3 282.5,36.3 283.2,36.2 284.0,36.2 284.7,36.2 285.5,36.2 286.2,36.2 287.0,36.1 287.7,36.1 288.5,36.1 289.2,36.1 290.0,36.1 290.7,36.0 291.5,36.0 292.2,36.0 293.0,36.0 293.7,36.0 294.5,35.9 295.2,35.9 296.0,35.9 296.7,35.9 297.5,35.9 298.2,35.8 299.0,35.8 299.7,35.8 300.5,35.8 301.2,35.8 302.0,35.8 302.7,35.7 303.5,35.7 304.2,35.7 305.0,35.7 305.7,35.7 306.5,35.7 307.2,35.6 308.0,35.6 308.7,35.6 309.5,35.6 310.2,35.6 311.0,35.6 311.7,35.6 312.5,35.5 313.2,35.5 314.0,35.5 314.7,35.5 315.5,35.5 316.2,35.5 317.0,35.5 317.7,35.4 318.5,35.4 319.2,35.4 320.0,35.4 320.7,35.4 321.5,35.4 322.2,35.4 323.0,35.3 323.7,35.3 324.5,35.3 325.2,35.3 326.0,35.3 326.7,35.3 327.5,35.3 328.2,35.2 329.0,35.2 329.7,35.2 330.5,35.2 331.2,35.2 332.0,35.2 332.7,35.2 333.5,35.1 334.2,35.1 335.0,35.1 335.7,35.1 336.2,35.1" fill="none" stroke="#ff1010" stroke-width="1.40" stroke-linejoin="round" stroke-linecap="butt"/>
<path d="M214.3,33.2 215.0,33.1 215.8,33.0 216.5,33.0 217.3,32.9 218.0,32.8 218.8,32.8 219.5,32.7 220.3,32.7 221.0,32.6 221.8,32.6 222.5,32.6 223.3,32.6 224.0,32.6 224.8,32.6 225.5,32.6 226.3,32.6 227.0,32.6 227.8,32.6 228.5,32.6 229.3,32.6 230.0,32.6 230.8,32.6 231.5,32.6 232.3,32.6 233.0,32.6 233.8,32.6 234.5,32.6 235.3,32.6 236.0,32.6 236.8,32.6 237.5,32.6 238.3,32.6 239.0,32.6 239.8,32.6 240.5,32.6 241.3,32.6 242.0,32.6 242.8,32.6 243.5,32.6 244.3,32.6 245.0,32.6 245.8,32.6 246.5,32.6 247.3,32.6 248.0,32.6 248.8,32.6 249.5,32.6 250.3,32.6 251.0,32.6 251.8,32.6 252.5,32.6 253.3,32.6 254.0,32.6 254.8,32.6 255.5,32.6 256.3,32.6 257.0,32.6 257.8,32.6 258.5,32.6 259.3,32.6 260.0,32.6 260.8,32.6 261.5,32.6 262.3,32.6 263.0,32.6 263.8,32.6 264.5,32.6 265.3,32.6 266.0,32.6 266.8,32.6 267.5,32.6 268.3,32.6 269.0,32.6 269.8,32.6 270.5,32.6 271.3,32.6 272.0,32.6 272.8,32.6 273.5,32.6 274.3,32.6 275.0,32.6 275.7,32.6 276.5,32.5 277.2,32.5 278.0,32.5 278.7,32.5 279.5,32.5 280.2,32.5 281.0,32.4 281.7,32.4 282.5,32.4 283.2,32.4 284.0,32.4 284.7,32.3 285.5,32.3 286.2,32.3 287.0,32.3 287.7,32.3 288.5,32.2 289.2,32.2 290.0,32.2 290.7,32.2 291.5,32.1 292.2,32.1 293.0,32.1 293.7,32.1 294.5,32.1 295.2,32.0 296.0,32.0 296.7,32.0 297.5,32.0 298.2,31.9 299.0,31.9 299.7,31.9 300.5,31.9 301.2,31.9 302.0,31.9 302.7,31.8 303.5,31.8 304.2,31.8 305.0,31.8 305.7,31.8 306.5,31.7 307.2,31.7 308.0,31.7 308.7,31.7 309.5,31.7 310.2,31.7 311.0,31.6 311.7,31.6 312.5,31.6 313.2,31.6 314.0,31.6 314.7,31.5 315.5,31.5 316.2,31.5 317.0,31.5 317.7,31.5 318.5,31.4 319.2,31.4 320.0,31.4 320.7,31.4 321.5,31.4 322.2,31.4 323.0,31.3 323.7,31.3 324.5,31.3 325.2,31.3 326.0,31.3 326.7,31.2 327.5,31.2 328.2,31.2 329.0,31.2 329.7,31.2 330.5,31.1 331.2,31.1 332.0,31.1 332.7,31.1 333.5,31.1 334.2,31.1 335.0,31.0 335.7,31.0 336.2,31.0" fill="none" stroke="#108a10" stroke-width="1.40" stroke-linejoin="round" stroke-linecap="butt"/>
<path d="M214.3,18.9 215.0,18.9 215.8,18.9 216.5,18.9 217.3,18.9 218.0,18.9 218.8,18.9 219.5,18.9 220.3,18.9 221.0,18.9 221.8,18.9 222.5,18.9 223.3,18.9 224.0,18.9 224.8,18.9 225.5,18.9 226.3,18.9 227.0,18.9 227.8,18.9 228.5,18.9 229.3,18.9 230.0,18.9 230.8,18.9 231.5,18.9 232.3,18.9 233.0,18.9 233.8,18.9 234.5,18.9 235.3,18.9 236.0,18.9 236.8,18.9 237.5,18.9 238.3,18.9 239.0,18.9 239.8,18.9 240.5,18.9 241.3,18.9 242.0,18.9 242.8,18.9 243.5,18.9 244.3,18.8 245.0,18.8 245.8,18.8 246.5,18.8 247.3,18.8 248.0,18.8 248.8,18.8 249.5,18.8 250.3,18.7 251.0,18.7 251.8,18.7 252.5,18.7 253.3,18.7 254.0,18.7 254.8,18.7 255.5,18.6 256.3,18.6 257.0,18.6 257.8,18.6 258.5,18.6 259.3,18.6 260.0,18.5 260.8,18.5 261.5,18.5 262.3,18.5 263.0,18.5 263.8,18.5 264.5,18.4 265.3,18.4 266.0,18.4 266.8,18.4 267.5,18.4 268.3,18.3 269.0,18.3 269.8,18.3 270.5,18.3 271.3,18.2 272.0,18.2 272.8,18.2 273.5,18.2 274.3,18.1 275.0,18.1 275.7,18.1 276.5,18.1 277.2,18.1 278.0,18.0 278.7,18.0 279.5,18.0 280.2,18.0 281.0,18.0 281.7,18.0 282.5,18.0 283.2,18.0 284.0,18.0 284.7,17.9 285.5,17.9 286.2,17.9 287.0,17.9 287.7,17.9 288.5,17.9 289.2,17.9 290.0,17.9 290.7,17.9 291.5,17.9 292.2,17.9 293.0,17.9 293.7,17.9 294.5,17.9 295.2,17.9 296.0,17.8 296.7,17.8 297.5,17.8 298.2,17.8 299.0,17.8 299.7,17.8 300.5,17.8 301.2,17.8 302.0,17.8 302.7,17.8 303.5,17.8 304.2,17.7 305.0,17.7 305.7,17.7 306.5,17.7 307.2,17.7 308.0,17.7 308.7,17.7 309.5,17.7 310.2,17.6 311.0,17.6 311.7,17.6 312.5,17.6 313.2,17.6 314.0,17.6 314.7,17.5 315.5,17.5 316.2,17.5 317.0,17.5 317.7,17.5 318.5,17.5 319.2,17.4 320.0,17.4 320.7,17.4 321.5,17.4 322.2,17.4 323.0,17.4 323.7,17.3 324.5,17.3 325.2,17.3 326.0,17.3 326.7,17.3 327.5,17.2 328.2,17.2 329.0,17.2 329.7,17.2 330.5,17.2 331.2,17.1 332.0,17.1 332.7,17.1 333.5,17.1 334.2,17.1 335.0,17.0 335.7,17.0 336.2,17.0" fill="none" stroke="#1010ff" stroke-width="1.40" stroke-linejoin="round" stroke-linecap="butt"/>
<path d="M394.3,91.1 395.0,91.2 395.8,91.2 396.5,91.3 397.3,91.3 398.0,91.4 398.8,91.4 399.5,91.5 400.3,91.5 401.0,91.5 401.8,91.6 402.5,91.6 403.3,91.7 404.0,91.7 404.8,91.7 405.5,91.7 406.3,91.8 407.0,91.8 407.8,91.8 408.5,91.8 409.3,91.8 410.0,91.8 410.8,91.8 411.5,91.8 412.3,91.8 413.0,91.8 413.8,91.7 414.5,91.7 415.3,91.7 416.0,91.7 416.8,91.6 417.5,91.6 418.3,91.5 419.0,91.5 419.8,91.5 420.5,91.4 421.3,91.4 422.0,91.3 422.8,91.3 423.5,91.2 424.3,91.2 425.0,91.1 425.8,91.0 426.5,91.0 427.3,90.9 428.0,90.9 428.8,90.8 429.5,90.8 430.3,90.7 431.0,90.7 431.8,90.6 432.5,90.6 433.3,90.5 434.0,90.5 434.8,90.4 435.5,90.4 436.3,90.3 437.0,90.3 437.8,90.3 438.5,90.2 439.3,90.2 440.0,90.2 440.8,90.2 441.5,90.2 442.3,90.1 443.0,90.1 443.8,90.1 444.5,90.1 445.3,90.1 446.0,90.0 446.8,90.0 447.5,90.0 448.3,90.0 449.0,90.0 449.8,89.9 450.5,89.9 451.3,89.9 452.0,89.9 452.8,89.9 453.5,89.9 454.3,89.8 455.0,89.8 455.7,89.8 456.5,89.8 457.2,89.8 458.0,89.8 458.7,89.7 459.5,89.7 460.2,89.7 461.0,89.7 461.7,89.7 462.5,89.7 463.2,89.7 464.0,89.6 464.7,89.6 465.5,89.6 466.2,89.6 467.0,89.6 467.7,89.6 468.5,89.6 469.2,89.6 470.0,89.6 470.7,89.6 471.5,89.5 472.2,89.5 473.0,89.5 473.7,89.5 474.5,89.5 475.2,89.5 476.0,89.5 476.7,89.5 477.5,89.5 478.2,89.5 479.0,89.5 479.7,89.5 480.5,89.5 481.2,89.5 482.0,89.5 482.7,89.5 483.5,89.5 484.2,89.5 485.0,89.5 485.7,89.5 486.5,89.5 487.2,89.5 488.0,89.5 488.7,89.5 489.5,89.5 490.2,89.5 491.0,89.5 491.7,89.5 492.5,89.5 493.2,89.5 494.0,89.5 494.7,89.5 495.5,89.5 496.2,89.5 497.0,89.5 497.7,89.5 498.5,89.5 499.2,89.5 500.0,89.5 500.7,89.5 501.5,89.5 502.2,89.5 503.0,89.5 503.7,89.5 504.5,89.5 505.2,89.5 506.0,89.5 506.7,89.6 507.5,89.6 508.2,89.7 509.0,89.7 509.7,89.8 510.5,89.9 511.2,90.0 512.0,90.1 512.7,90.2 513.5,90.3 514.2,90.5 515.0,90.6 515.7,90.8 516.2,90.9" fill="none" stroke="#000000" stroke-width="1.40" stroke-linejoin="round" stroke-linecap="butt"/>
<path d="M394.3,37.1 395.0,37.3 395.8,37.4 396.5,37.5 397.3,37.7 398.0,37.8 398.8,37.9 399.5,38.0 400.3,38.1 401.0,38.2 401.8,38.2 402.5,38.3 403.3,38.3 404.0,38.3 404.8,38.3 405.5,38.3 406.3,38.3 407.0,38.3 407.8,38.3 408.5,38.2 409.3,38.2 410.0,38.2 410.8,38.2 411.5,38.1 412.3,38.1 413.0,38.1 413.8,38.0 414.5,38.0 415.3,37.9 416.0,37.9 416.8,37.8 417.5,37.7 418.3,37.7 419.0,37.6 419.8,37.5 420.5,37.4 421.3,37.4 422.0,37.3 422.8,37.2 423.5,37.2 424.3,37.1 425.0,37.0 425.8,37.0 426.5,36.9 427.3,36.9 428.0,36.8 428.8,36.8 429.5,36.7 430.3,36.7 431.0,36.7 431.8,36.6 432.5,36.6 433.3,36.6 434.0,36.5 434.8,36.5 435.5,36.5 436.3,36.5 437.0,36.5 437.8,36.4 438.5,36.4 439.3,36.4 440.0,36.4 440.8,36.4 441.5,36.3 442.3,36.3 443.0,36.3 443.8,36.3 444.5,36.3 445.3,36.2 446.0,36.2 446.8,36.2 447.5,36.2 448.3,36.2 449.0,36.1 449.8,36.1 450.5,36.1 451.3,36.1 452.0,36.0 452.8,36.0 453.5,36.0 454.3,35.9 455.0,35.9 455.7,35.9 456.5,35.8 457.2,35.8 458.0,35.8 458.7,35.8 459.5,35.7 460.2,35.7 461.0,35.7 461.7,35.6 462.5,35.6 463.2,35.6 464.0,35.5 464.7,35.5 465.5,35.5 466.2,35.4 467.0,35.4 467.7,35.4 468.5,35.4 469.2,35.3 470.0,35.3 470.7,35.3 471.5,35.2 472.2,35.2 473.0,35.2 473.7,35.2 474.5,35.1 475.2,35.1 476.0,35.1 476.7,35.1 477.5,35.0 478.2,35.0 479.0,35.0 479.7,34.9 480.5,34.9 481.2,34.9 482.0,34.9 482.7,34.8 483.5,34.8 484.2,34.8 485.0,34.8 485.7,34.7 486.5,34.7 487.2,34.7 488.0,34.7 488.7,34.7 489.5,34.7 490.2,34.6 491.0,34.6 491.7,34.6 492.5,34.6 493.2,34.6 494.0,34.6 494.7,34.6 495.5,34.6 496.2,34.6 497.0,34.6 497.7,34.6 498.5,34.7 499.2,34.7 500.0,34.7 500.7,34.8 501.5,34.8 502.2,34.8 503.0,34.9 503.7,34.9 504.5,35.0 505.2,35.0 506.0,35.1 506.7,35.2 507.5,35.3 508.2,35.4 509.0,35.5 509.7,35.6 510.5,35.7 511.2,35.9 512.0,36.0 512.7,36.2 513.5,36.3 514.2,36.5 515.0,36.7 515.7,37.0 516.2,37.1" fill="none" stroke="#ff1010" stroke-width="1.40" stroke-linejoin="round" stroke-linecap="butt"/>
<path d="M394.3,33.3 395.0,33.4 395.8,33.5 396.5,33.6 397.3,33.7 398.0,33.8 398.8,33.9 399.5,34.0 400.3,34.0 401.0,34.1 401.8,34.1 402.5,34.2 403.3,34.2 404.0,34.2 404.8,34.2 405.5,34.2 406.3,34.2 407.0,34.2 407.8,34.2 408.5,34.2 409.3,34.2 410.0,34.2 410.8,34.2 411.5,34.2 412.3,34.2 413.0,34.1 413.8,34.1 414.5,34.0 415.3,34.0 416.0,33.9 416.8,33.9 417.5,33.8 418.3,33.7 419.0,33.7 419.8,33.6 420.5,33.5 421.3,33.5 422.0,33.4 422.8,33.3 423.5,33.2 424.3,33.1 425.0,33.1 425.8,33.0 426.5,32.9 427.3,32.9 428.0,32.8 428.8,32.7 429.5,32.7 430.3,32.6 431.0,32.6 431.8,32.5 432.5,32.5 433.3,32.4 434.0,32.4 434.8,32.4 435.5,32.3 436.3,32.3 437.0,32.2 437.8,32.2 438.5,32.1 439.3,32.1 440.0,32.1 440.8,32.0 441.5,32.0 442.3,31.9 443.0,31.9 443.8,31.9 444.5,31.8 445.3,31.8 446.0,31.8 446.8,31.7 447.5,31.7 448.3,31.7 449.0,31.6 449.8,31.6 450.5,31.6 451.3,31.6 452.0,31.5 452.8,31.5 453.5,31.5 454.3,31.4 455.0,31.4 455.7,31.4 456.5,31.4 457.2,31.4 458.0,31.3 458.7,31.3 459.5,31.3 460.2,31.3 461.0,31.2 461.7,31.2 462.5,31.2 463.2,31.2 464.0,31.2 464.7,31.1 465.5,31.1 466.2,31.1 467.0,31.1 467.7,31.1 468.5,31.0 469.2,31.0 470.0,31.0 470.7,31.0 471.5,31.0 472.2,30.9 473.0,30.9 473.7,30.9 474.5,30.9 475.2,30.8 476.0,30.8 476.7,30.8 477.5,30.8 478.2,30.7 479.0,30.7 479.7,30.7 480.5,30.7 481.2,30.7 482.0,30.6 482.7,30.6 483.5,30.6 484.2,30.6 485.0,30.5 485.7,30.5 486.5,30.5 487.2,30.5 488.0,30.5 488.7,30.5 489.5,30.5 490.2,30.4 491.0,30.4 491.7,30.4 492.5,30.4 493.2,30.4 494.0,30.4 494.7,30.4 495.5,30.4 496.2,30.4 497.0,30.4 497.7,30.5 498.5,30.5 499.2,30.5 500.0,30.6 500.7,30.6 501.5,30.6 502.2,30.7 503.0,30.8 503.7,30.8 504.5,30.9 505.2,30.9 506.0,31.0 506.7,31.1 507.5,31.1 508.2,31.2 509.0,31.3 509.7,31.4 510.5,31.5 511.2,31.7 512.0,31.8 512.7,32.0 513.5,32.1 514.2,32.3 515.0,32.5 515.7,32.7 516.2,32.9" fill="none" stroke="#108a10" stroke-width="1.40" stroke-linejoin="round" stroke-linecap="butt"/>
<path d="M394.3,19.5 395.0,19.6 395.8,19.7 396.5,19.8 397.3,19.9 398.0,20.0 398.8,20.1 399.5,20.2 400.3,20.2 401.0,20.3 401.8,20.3 402.5,20.4 403.3,20.4 404.0,20.4 404.8,20.4 405.5,20.4 406.3,20.4 407.0,20.4 407.8,20.4 408.5,20.4 409.3,20.4 410.0,20.4 410.8,20.4 411.5,20.4 412.3,20.4 413.0,20.3 413.8,20.3 414.5,20.3 415.3,20.3 416.0,20.2 416.8,20.2 417.5,20.1 418.3,20.1 419.0,20.0 419.8,20.0 420.5,19.9 421.3,19.9 422.0,19.8 422.8,19.7 423.5,19.7 424.3,19.6 425.0,19.6 425.8,19.5 426.5,19.4 427.3,19.4 428.0,19.3 428.8,19.3 429.5,19.2 430.3,19.2 431.0,19.1 431.8,19.1 432.5,19.0 433.3,19.0 434.0,18.9 434.8,18.9 435.5,18.8 436.3,18.8 437.0,18.7 437.8,18.7 438.5,18.6 439.3,18.6 440.0,18.5 440.8,18.5 441.5,18.4 442.3,18.4 443.0,18.3 443.8,18.3 444.5,18.2 445.3,18.2 446.0,18.2 446.8,18.1 447.5,18.1 448.3,18.1 449.0,18.0 449.8,18.0 450.5,18.0 451.3,18.0 452.0,17.9 452.8,17.9 453.5,17.9 454.3,17.9 455.0,17.9 455.7,17.9 456.5,17.8 457.2,17.8 458.0,17.8 458.7,17.8 459.5,17.8 460.2,17.8 461.0,17.8 461.7,17.8 462.5,17.7 463.2,17.7 464.0,17.7 464.7,17.7 465.5,17.7 466.2,17.7 467.0,17.7 467.7,17.7 468.5,17.6 469.2,17.6 470.0,17.6 470.7,17.6 471.5,17.6 472.2,17.5 473.0,17.5 473.7,17.5 474.5,17.5 475.2,17.4 476.0,17.4 476.7,17.4 477.5,17.3 478.2,17.3 479.0,17.3 479.7,17.2 480.5,17.2 481.2,17.2 482.0,17.1 482.7,17.1 483.5,17.1 484.2,17.0 485.0,17.0 485.7,17.0 486.5,16.9 487.2,16.9 488.0,16.9 488.7,16.9 489.5,16.8 490.2,16.8 491.0,16.8 491.7,16.8 492.5,16.8 493.2,16.8 494.0,16.8 494.7,16.8 495.5,16.8 496.2,16.8 497.0,16.8 497.7,16.8 498.5,16.8 499.2,16.8 500.0,16.9 500.7,16.9 501.5,16.9 502.2,17.0 503.0,17.0 503.7,17.0 504.5,17.1 505.2,17.1 506.0,17.2 506.7,17.2 507.5,17.3 508.2,17.4 509.0,17.5 509.7,17.6 510.5,17.7 511.2,17.8 512.0,17.9 512.7,18.1 513.5,18.3 514.2,18.5 515.0,18.7 515.7,19.0 516.2,19.2" fill="none" stroke="#1010ff" stroke-width="1.40" stroke-linejoin="round" stroke-linecap="butt"/>
<line x1="32.50" y1="110.80" x2="32.50" y2="191.10" stroke="#747474" stroke-width="0.75"/>
<line x1="32.30" y1="110.85" x2="33.40" y2="110.85" stroke="#4a4a4a" stroke-width="0.5"/>
<line x1="32.30" y1="113.10" x2="33.40" y2="113.10" stroke="#4a4a4a" stroke-width="0.5"/>
<line x1="32.30" y1="115.35" x2="33.40" y2="115.35" stroke="#4a4a4a" stroke-width="0.5"/>
<line x1="32.30" y1="117.60" x2="33.40" y2="117.60" stroke="#4a4a4a" stroke-width="0.5"/>
<line x1="32.30" y1="119.85" x2="33.40" y2="119.85" stroke="#4a4a4a" stroke-width="0.5"/>
<line x1="32.30" y1="122.10" x2="33.40" y2="122.10" stroke="#4a4a4a" stroke-width="0.5"/>
<line x1="32.30" y1="124.35" x2="33.40" y2="124.35" stroke="#4a4a4a" stroke-width="0.5"/>
<line x1="32.30" y1="126.60" x2="33.40" y2="126.60" stroke="#4a4a4a" stroke-width="0.5"/>
<line x1="32.30" y1="128.85" x2="33.40" y2="128.85" stroke="#4a4a4a" stroke-width="0.5"/>
<line x1="32.30" y1="131.10" x2="33.40" y2="131.10" stroke="#4a4a4a" stroke-width="0.5"/>
<line x1="32.30" y1="133.35" x2="33.40" y2="133.35" stroke="#4a4a4a" stroke-width="0.5"/>
<line x1="32.30" y1="135.60" x2="33.40" y2="135.60" stroke="#4a4a4a" stroke-width="0.5"/>
<line x1="32.30" y1="137.85" x2="33.40" y2="137.85" stroke="#4a4a4a" stroke-width="0.5"/>
<line x1="32.30" y1="140.10" x2="33.40" y2="140.10" stroke="#4a4a4a" stroke-width="0.5"/>
<line x1="32.30" y1="142.35" x2="33.40" y2="142.35" stroke="#4a4a4a" stroke-width="0.5"/>
<line x1="32.30" y1="144.60" x2="33.40" y2="144.60" stroke="#4a4a4a" stroke-width="0.5"/>
<line x1="32.30" y1="146.85" x2="33.40" y2="146.85" stroke="#4a4a4a" stroke-width="0.5"/>
<line x1="32.30" y1="149.10" x2="33.40" y2="149.10" stroke="#4a4a4a" stroke-width="0.5"/>
<line x1="32.30" y1="151.35" x2="33.40" y2="151.35" stroke="#4a4a4a" stroke-width="0.5"/>
<line x1="32.30" y1="153.60" x2="33.40" y2="153.60" stroke="#4a4a4a" stroke-width="0.5"/>
<line x1="32.30" y1="155.85" x2="33.40" y2="155.85" stroke="#4a4a4a" stroke-width="0.5"/>
<line x1="32.30" y1="158.10" x2="33.40" y2="158.10" stroke="#4a4a4a" stroke-width="0.5"/>
<line x1="32.30" y1="160.35" x2="33.40" y2="160.35" stroke="#4a4a4a" stroke-width="0.5"/>
<line x1="32.30" y1="162.60" x2="33.40" y2="162.60" stroke="#4a4a4a" stroke-width="0.5"/>
<line x1="32.30" y1="164.85" x2="33.40" y2="164.85" stroke="#4a4a4a" stroke-width="0.5"/>
<line x1="32.30" y1="167.10" x2="33.40" y2="167.10" stroke="#4a4a4a" stroke-width="0.5"/>
<line x1="32.30" y1="169.35" x2="33.40" y2="169.35" stroke="#4a4a4a" stroke-width="0.5"/>
<line x1="32.30" y1="171.60" x2="33.40" y2="171.60" stroke="#4a4a4a" stroke-width="0.5"/>
<line x1="32.30" y1="173.85" x2="33.40" y2="173.85" stroke="#4a4a4a" stroke-width="0.5"/>
<line x1="32.30" y1="176.10" x2="33.40" y2="176.10" stroke="#4a4a4a" stroke-width="0.5"/>
<line x1="32.30" y1="178.35" x2="33.40" y2="178.35" stroke="#4a4a4a" stroke-width="0.5"/>
<line x1="32.30" y1="180.60" x2="33.40" y2="180.60" stroke="#4a4a4a" stroke-width="0.5"/>
<line x1="32.30" y1="182.85" x2="33.40" y2="182.85" stroke="#4a4a4a" stroke-width="0.5"/>
<line x1="32.30" y1="185.10" x2="33.40" y2="185.10" stroke="#4a4a4a" stroke-width="0.5"/>
<line x1="32.30" y1="187.35" x2="33.40" y2="187.35" stroke="#4a4a4a" stroke-width="0.5"/>
<line x1="32.30" y1="189.60" x2="33.40" y2="189.60" stroke="#4a4a4a" stroke-width="0.5"/>
<line x1="32.30" y1="110.85" x2="33.90" y2="110.85" stroke="#4a4a4a" stroke-width="0.55"/>
<text transform="translate(30.60,113.05) scale(1,1.18)" class="tl" text-anchor="end">0.00007</text>
<line x1="32.30" y1="122.10" x2="33.90" y2="122.10" stroke="#4a4a4a" stroke-width="0.55"/>
<text transform="translate(30.60,124.30) scale(1,1.18)" class="tl" text-anchor="end">0.00006</text>
<line x1="32.30" y1="133.35" x2="33.90" y2="133.35" stroke="#4a4a4a" stroke-width="0.55"/>
<text transform="translate(30.60,135.55) scale(1,1.18)" class="tl" text-anchor="end">0.00005</text>
<line x1="32.30" y1="144.60" x2="33.90" y2="144.60" stroke="#4a4a4a" stroke-width="0.55"/>
<text transform="translate(30.60,146.80) scale(1,1.18)" class="tl" text-anchor="end">0.00004</text>
<line x1="32.30" y1="155.85" x2="33.90" y2="155.85" stroke="#4a4a4a" stroke-width="0.55"/>
<text transform="translate(30.60,158.05) scale(1,1.18)" class="tl" text-anchor="end">0.00003</text>
<line x1="32.30" y1="167.10" x2="33.90" y2="167.10" stroke="#4a4a4a" stroke-width="0.55"/>
<text transform="translate(30.60,169.30) scale(1,1.18)" class="tl" text-anchor="end">0.00002</text>
<line x1="32.30" y1="178.35" x2="33.90" y2="178.35" stroke="#4a4a4a" stroke-width="0.55"/>
<text transform="translate(30.60,180.55) scale(1,1.18)" class="tl" text-anchor="end">0.00001</text>
<line x1="31.00" y1="189.60" x2="158.30" y2="189.60" stroke="#747474" stroke-width="0.75"/>
<line x1="37.42" y1="189.80" x2="37.42" y2="188.70" stroke="#4a4a4a" stroke-width="0.5"/>
<line x1="42.34" y1="189.80" x2="42.34" y2="188.70" stroke="#4a4a4a" stroke-width="0.5"/>
<line x1="47.26" y1="189.80" x2="47.26" y2="188.70" stroke="#4a4a4a" stroke-width="0.5"/>
<line x1="52.18" y1="189.80" x2="52.18" y2="188.70" stroke="#4a4a4a" stroke-width="0.5"/>
<line x1="62.02" y1="189.80" x2="62.02" y2="188.70" stroke="#4a4a4a" stroke-width="0.5"/>
<line x1="66.94" y1="189.80" x2="66.94" y2="188.70" stroke="#4a4a4a" stroke-width="0.5"/>
<line x1="71.86" y1="189.80" x2="71.86" y2="188.70" stroke="#4a4a4a" stroke-width="0.5"/>
<line x1="76.78" y1="189.80" x2="76.78" y2="188.70" stroke="#4a4a4a" stroke-width="0.5"/>
<line x1="86.62" y1="189.80" x2="86.62" y2="188.70" stroke="#4a4a4a" stroke-width="0.5"/>
<line x1="91.54" y1="189.80" x2="91.54" y2="188.70" stroke="#4a4a4a" stroke-width="0.5"/>
<line x1="96.46" y1="189.80" x2="96.46" y2="188.70" stroke="#4a4a4a" stroke-width="0.5"/>
<line x1="101.38" y1="189.80" x2="101.38" y2="188.70" stroke="#4a4a4a" stroke-width="0.5"/>
<line x1="111.22" y1="189.80" x2="111.22" y2="188.70" stroke="#4a4a4a" stroke-width="0.5"/>
<line x1="116.14" y1="189.80" x2="116.14" y2="188.70" stroke="#4a4a4a" stroke-width="0.5"/>
<line x1="121.06" y1="189.80" x2="121.06" y2="188.70" stroke="#4a4a4a" stroke-width="0.5"/>
<line x1="125.98" y1="189.80" x2="125.98" y2="188.70" stroke="#4a4a4a" stroke-width="0.5"/>
<line x1="135.82" y1="189.80" x2="135.82" y2="188.70" stroke="#4a4a4a" stroke-width="0.5"/>
<line x1="140.74" y1="189.80" x2="140.74" y2="188.70" stroke="#4a4a4a" stroke-width="0.5"/>
<line x1="145.66" y1="189.80" x2="145.66" y2="188.70" stroke="#4a4a4a" stroke-width="0.5"/>
<line x1="150.58" y1="189.80" x2="150.58" y2="188.70" stroke="#4a4a4a" stroke-width="0.5"/>
<line x1="57.10" y1="189.80" x2="57.10" y2="188.20" stroke="#4a4a4a" stroke-width="0.55"/>
<text transform="translate(57.10,194.90) scale(1,1.15)" class="xl" text-anchor="middle">10</text>
<line x1="81.70" y1="189.80" x2="81.70" y2="188.20" stroke="#4a4a4a" stroke-width="0.55"/>
<text transform="translate(81.70,194.90) scale(1,1.15)" class="xl" text-anchor="middle">20</text>
<line x1="106.30" y1="189.80" x2="106.30" y2="188.20" stroke="#4a4a4a" stroke-width="0.55"/>
<text transform="translate(106.30,194.90) scale(1,1.15)" class="xl" text-anchor="middle">30</text>
<line x1="130.90" y1="189.80" x2="130.90" y2="188.20" stroke="#4a4a4a" stroke-width="0.55"/>
<text transform="translate(130.90,194.90) scale(1,1.15)" class="xl" text-anchor="middle">40</text>
<line x1="155.50" y1="189.80" x2="155.50" y2="188.20" stroke="#4a4a4a" stroke-width="0.55"/>
<text transform="translate(155.50,194.90) scale(1,1.15)" class="xl" text-anchor="middle">50</text>
<text x="162.70" y="191.80" class="tau">&#964;</text>
<rect x="158.80" y="112.55" width="23.10" height="59.70" fill="#ffffff"/>
<g clip-path="url(#lc4)">
<line x1="161.00" y1="120.40" x2="173.40" y2="120.40" stroke="#4a4a4a" stroke-width="0.80"/>
<text x="175.60" y="122.30" class="lg">C</text>
<line x1="161.00" y1="135.03" x2="173.40" y2="135.03" stroke="#ff8c8c" stroke-width="1.10"/>
<text x="175.60" y="136.93" class="lg">Si</text>
<line x1="161.00" y1="149.66" x2="173.40" y2="149.66" stroke="#4aa64a" stroke-width="0.80"/>
<text x="175.60" y="151.56" class="lg">Ge</text>
<line x1="161.00" y1="164.29" x2="173.40" y2="164.29" stroke="#7474ff" stroke-width="0.95"/>
<text x="175.60" y="166.19" class="lg">Sn</text>
</g>
<rect x="158.80" y="112.55" width="23.10" height="59.70" rx="0.9" fill="none" stroke="#8c8c8c" stroke-width="1.0"/>
<line x1="391.30" y1="110.80" x2="391.30" y2="190.80" stroke="#747474" stroke-width="0.75"/>
<line x1="391.10" y1="110.55" x2="392.20" y2="110.55" stroke="#4a4a4a" stroke-width="0.5"/>
<line x1="391.10" y1="112.80" x2="392.20" y2="112.80" stroke="#4a4a4a" stroke-width="0.5"/>
<line x1="391.10" y1="115.05" x2="392.20" y2="115.05" stroke="#4a4a4a" stroke-width="0.5"/>
<line x1="391.10" y1="117.30" x2="392.20" y2="117.30" stroke="#4a4a4a" stroke-width="0.5"/>
<line x1="391.10" y1="119.55" x2="392.20" y2="119.55" stroke="#4a4a4a" stroke-width="0.5"/>
<line x1="391.10" y1="121.80" x2="392.20" y2="121.80" stroke="#4a4a4a" stroke-width="0.5"/>
<line x1="391.10" y1="124.05" x2="392.20" y2="124.05" stroke="#4a4a4a" stroke-width="0.5"/>
<line x1="391.10" y1="126.30" x2="392.20" y2="126.30" stroke="#4a4a4a" stroke-width="0.5"/>
<line x1="391.10" y1="128.55" x2="392.20" y2="128.55" stroke="#4a4a4a" stroke-width="0.5"/>
<line x1="391.10" y1="130.80" x2="392.20" y2="130.80" stroke="#4a4a4a" stroke-width="0.5"/>
<line x1="391.10" y1="133.05" x2="392.20" y2="133.05" stroke="#4a4a4a" stroke-width="0.5"/>
<line x1="391.10" y1="135.30" x2="392.20" y2="135.30" stroke="#4a4a4a" stroke-width="0.5"/>
<line x1="391.10" y1="137.55" x2="392.20" y2="137.55" stroke="#4a4a4a" stroke-width="0.5"/>
<line x1="391.10" y1="139.80" x2="392.20" y2="139.80" stroke="#4a4a4a" stroke-width="0.5"/>
<line x1="391.10" y1="142.05" x2="392.20" y2="142.05" stroke="#4a4a4a" stroke-width="0.5"/>
<line x1="391.10" y1="144.30" x2="392.20" y2="144.30" stroke="#4a4a4a" stroke-width="0.5"/>
<line x1="391.10" y1="146.55" x2="392.20" y2="146.55" stroke="#4a4a4a" stroke-width="0.5"/>
<line x1="391.10" y1="148.80" x2="392.20" y2="148.80" stroke="#4a4a4a" stroke-width="0.5"/>
<line x1="391.10" y1="151.05" x2="392.20" y2="151.05" stroke="#4a4a4a" stroke-width="0.5"/>
<line x1="391.10" y1="153.30" x2="392.20" y2="153.30" stroke="#4a4a4a" stroke-width="0.5"/>
<line x1="391.10" y1="155.55" x2="392.20" y2="155.55" stroke="#4a4a4a" stroke-width="0.5"/>
<line x1="391.10" y1="157.80" x2="392.20" y2="157.80" stroke="#4a4a4a" stroke-width="0.5"/>
<line x1="391.10" y1="160.05" x2="392.20" y2="160.05" stroke="#4a4a4a" stroke-width="0.5"/>
<line x1="391.10" y1="162.30" x2="392.20" y2="162.30" stroke="#4a4a4a" stroke-width="0.5"/>
<line x1="391.10" y1="164.55" x2="392.20" y2="164.55" stroke="#4a4a4a" stroke-width="0.5"/>
<line x1="391.10" y1="166.80" x2="392.20" y2="166.80" stroke="#4a4a4a" stroke-width="0.5"/>
<line x1="391.10" y1="169.05" x2="392.20" y2="169.05" stroke="#4a4a4a" stroke-width="0.5"/>
<line x1="391.10" y1="171.30" x2="392.20" y2="171.30" stroke="#4a4a4a" stroke-width="0.5"/>
<line x1="391.10" y1="173.55" x2="392.20" y2="173.55" stroke="#4a4a4a" stroke-width="0.5"/>
<line x1="391.10" y1="175.80" x2="392.20" y2="175.80" stroke="#4a4a4a" stroke-width="0.5"/>
<line x1="391.10" y1="178.05" x2="392.20" y2="178.05" stroke="#4a4a4a" stroke-width="0.5"/>
<line x1="391.10" y1="180.30" x2="392.20" y2="180.30" stroke="#4a4a4a" stroke-width="0.5"/>
<line x1="391.10" y1="182.55" x2="392.20" y2="182.55" stroke="#4a4a4a" stroke-width="0.5"/>
<line x1="391.10" y1="184.80" x2="392.20" y2="184.80" stroke="#4a4a4a" stroke-width="0.5"/>
<line x1="391.10" y1="187.05" x2="392.20" y2="187.05" stroke="#4a4a4a" stroke-width="0.5"/>
<line x1="391.10" y1="189.30" x2="392.20" y2="189.30" stroke="#4a4a4a" stroke-width="0.5"/>
<line x1="391.10" y1="110.55" x2="392.70" y2="110.55" stroke="#4a4a4a" stroke-width="0.55"/>
<text transform="translate(389.40,112.75) scale(1,1.18)" class="tl" text-anchor="end">0.00007</text>
<line x1="391.10" y1="121.80" x2="392.70" y2="121.80" stroke="#4a4a4a" stroke-width="0.55"/>
<text transform="translate(389.40,124.00) scale(1,1.18)" class="tl" text-anchor="end">0.00006</text>
<line x1="391.10" y1="133.05" x2="392.70" y2="133.05" stroke="#4a4a4a" stroke-width="0.55"/>
<text transform="translate(389.40,135.25) scale(1,1.18)" class="tl" text-anchor="end">0.00005</text>
<line x1="391.10" y1="144.30" x2="392.70" y2="144.30" stroke="#4a4a4a" stroke-width="0.55"/>
<text transform="translate(389.40,146.50) scale(1,1.18)" class="tl" text-anchor="end">0.00004</text>
<line x1="391.10" y1="155.55" x2="392.70" y2="155.55" stroke="#4a4a4a" stroke-width="0.55"/>
<text transform="translate(389.40,157.75) scale(1,1.18)" class="tl" text-anchor="end">0.00003</text>
<line x1="391.10" y1="166.80" x2="392.70" y2="166.80" stroke="#4a4a4a" stroke-width="0.55"/>
<text transform="translate(389.40,169.00) scale(1,1.18)" class="tl" text-anchor="end">0.00002</text>
<line x1="391.10" y1="178.05" x2="392.70" y2="178.05" stroke="#4a4a4a" stroke-width="0.55"/>
<text transform="translate(389.40,180.25) scale(1,1.18)" class="tl" text-anchor="end">0.00001</text>
<line x1="389.80" y1="189.30" x2="518.30" y2="189.30" stroke="#747474" stroke-width="0.75"/>
<line x1="396.22" y1="189.50" x2="396.22" y2="188.40" stroke="#4a4a4a" stroke-width="0.5"/>
<line x1="401.14" y1="189.50" x2="401.14" y2="188.40" stroke="#4a4a4a" stroke-width="0.5"/>
<line x1="406.06" y1="189.50" x2="406.06" y2="188.40" stroke="#4a4a4a" stroke-width="0.5"/>
<line x1="410.98" y1="189.50" x2="410.98" y2="188.40" stroke="#4a4a4a" stroke-width="0.5"/>
<line x1="420.82" y1="189.50" x2="420.82" y2="188.40" stroke="#4a4a4a" stroke-width="0.5"/>
<line x1="425.74" y1="189.50" x2="425.74" y2="188.40" stroke="#4a4a4a" stroke-width="0.5"/>
<line x1="430.66" y1="189.50" x2="430.66" y2="188.40" stroke="#4a4a4a" stroke-width="0.5"/>
<line x1="435.58" y1="189.50" x2="435.58" y2="188.40" stroke="#4a4a4a" stroke-width="0.5"/>
<line x1="445.42" y1="189.50" x2="445.42" y2="188.40" stroke="#4a4a4a" stroke-width="0.5"/>
<line x1="450.34" y1="189.50" x2="450.34" y2="188.40" stroke="#4a4a4a" stroke-width="0.5"/>
<line x1="455.26" y1="189.50" x2="455.26" y2="188.40" stroke="#4a4a4a" stroke-width="0.5"/>
<line x1="460.18" y1="189.50" x2="460.18" y2="188.40" stroke="#4a4a4a" stroke-width="0.5"/>
<line x1="470.02" y1="189.50" x2="470.02" y2="188.40" stroke="#4a4a4a" stroke-width="0.5"/>
<line x1="474.94" y1="189.50" x2="474.94" y2="188.40" stroke="#4a4a4a" stroke-width="0.5"/>
<line x1="479.86" y1="189.50" x2="479.86" y2="188.40" stroke="#4a4a4a" stroke-width="0.5"/>
<line x1="484.78" y1="189.50" x2="484.78" y2="188.40" stroke="#4a4a4a" stroke-width="0.5"/>
<line x1="494.62" y1="189.50" x2="494.62" y2="188.40" stroke="#4a4a4a" stroke-width="0.5"/>
<line x1="499.54" y1="189.50" x2="499.54" y2="188.40" stroke="#4a4a4a" stroke-width="0.5"/>
<line x1="504.46" y1="189.50" x2="504.46" y2="188.40" stroke="#4a4a4a" stroke-width="0.5"/>
<line x1="509.38" y1="189.50" x2="509.38" y2="188.40" stroke="#4a4a4a" stroke-width="0.5"/>
<line x1="415.90" y1="189.50" x2="415.90" y2="187.90" stroke="#4a4a4a" stroke-width="0.55"/>
<text transform="translate(415.90,194.60) scale(1,1.15)" class="xl" text-anchor="middle">10</text>
<line x1="440.50" y1="189.50" x2="440.50" y2="187.90" stroke="#4a4a4a" stroke-width="0.55"/>
<text transform="translate(440.50,194.60) scale(1,1.15)" class="xl" text-anchor="middle">20</text>
<line x1="465.10" y1="189.50" x2="465.10" y2="187.90" stroke="#4a4a4a" stroke-width="0.55"/>
<text transform="translate(465.10,194.60) scale(1,1.15)" class="xl" text-anchor="middle">30</text>
<line x1="489.70" y1="189.50" x2="489.70" y2="187.90" stroke="#4a4a4a" stroke-width="0.55"/>
<text transform="translate(489.70,194.60) scale(1,1.15)" class="xl" text-anchor="middle">40</text>
<line x1="514.30" y1="189.50" x2="514.30" y2="187.90" stroke="#4a4a4a" stroke-width="0.55"/>
<text transform="translate(514.30,194.60) scale(1,1.15)" class="xl" text-anchor="middle">50</text>
<text x="522.70" y="191.50" class="tau">&#964;</text>
<rect x="518.80" y="112.55" width="23.10" height="59.70" fill="#ffffff"/>
<g clip-path="url(#lc5)">
<line x1="521.00" y1="120.40" x2="533.40" y2="120.40" stroke="#4a4a4a" stroke-width="0.80"/>
<text x="535.60" y="122.30" class="lg">C</text>
<line x1="521.00" y1="135.03" x2="533.40" y2="135.03" stroke="#ff8c8c" stroke-width="1.10"/>
<text x="535.60" y="136.93" class="lg">Si</text>
<line x1="521.00" y1="149.66" x2="533.40" y2="149.66" stroke="#4aa64a" stroke-width="0.80"/>
<text x="535.60" y="151.56" class="lg">Ge</text>
<line x1="521.00" y1="164.29" x2="533.40" y2="164.29" stroke="#7474ff" stroke-width="0.95"/>
<text x="535.60" y="166.19" class="lg">Sn</text>
</g>
<rect x="518.80" y="112.55" width="23.10" height="59.70" rx="0.9" fill="none" stroke="#8c8c8c" stroke-width="1.0"/>
<text x="25.60" y="107.20" class="tt">&#946;<tspan class="sb" dy="0.25">CRIT</tspan></text>
<text x="388.80" y="107.20" class="tt">&#946;<tspan class="sb" dy="0.25">D</tspan></text>
<path d="M32.5,128.2 33.2,128.2 34.0,128.2 34.8,128.2 35.5,128.2 36.2,128.2 37.0,128.2 37.8,128.1 38.5,128.1 39.2,128.1 40.0,128.1 40.8,128.1 41.5,128.0 42.2,128.0 43.0,127.9 43.8,127.8 44.5,127.8 45.2,127.7 46.0,127.7 46.8,127.8 47.5,127.9 48.2,128.0 49.0,128.2 49.8,128.4 50.5,128.6 51.2,128.9 52.0,129.3 52.8,129.8 53.5,130.5 54.2,131.5 55.0,132.8 55.8,134.5 56.5,136.5 57.2,138.7 58.0,141.0 58.8,143.2 59.5,145.5 60.2,147.8 61.0,149.9 61.8,152.1 62.5,154.1 63.2,156.3 64.0,158.5 64.8,160.9 65.5,163.2 66.2,165.5 67.0,167.6 67.8,169.5 68.5,171.3 69.2,172.9 70.0,174.3 70.8,175.7 71.5,176.9 72.2,178.0 73.0,179.0 73.8,180.0 74.5,180.8 75.2,181.6 76.0,182.3 76.8,182.9 77.5,183.5 78.2,183.9 79.0,184.4 79.8,184.8 80.5,185.2 81.2,185.5 82.0,185.8 82.8,186.1 83.5,186.3 84.2,186.6 85.0,186.8 85.8,187.0 86.5,187.2 87.2,187.3 88.0,187.5 88.8,187.6 89.5,187.8 90.2,187.9 91.0,188.0 91.8,188.1 92.5,188.2 93.2,188.3 94.0,188.4 94.8,188.5 95.5,188.6 96.2,188.7 97.0,188.8 97.8,188.8 98.5,188.9 99.2,188.9 100.0,188.9" fill="none" stroke="#000000" stroke-width="1.40" stroke-linejoin="round" stroke-linecap="butt"/>
<path d="M32.5,117.5 33.2,117.5 34.0,117.5 34.8,117.5 35.5,117.5 36.2,117.5 37.0,117.5 37.8,117.5 38.5,117.5 39.2,117.5 40.0,117.5 40.8,117.5 41.5,117.5 42.2,117.5 43.0,117.5 43.8,117.5 44.5,117.5 45.2,117.5 46.0,117.5 46.8,117.5 47.5,117.5 48.2,117.5 49.0,117.6 49.8,117.7 50.5,117.9 51.2,118.3 52.0,119.0 52.8,119.9 53.5,121.2 54.2,122.8 55.0,124.6 55.8,126.6 56.5,128.7 57.2,130.9 58.0,133.3 58.8,135.7 59.5,138.3 60.2,140.9 61.0,143.7 61.8,146.4 62.5,149.3 63.2,152.2 64.0,155.1 64.8,157.9 65.5,160.5 66.2,162.9 67.0,165.0 67.8,167.1 68.5,169.0 69.2,170.9 70.0,172.7 70.8,174.3 71.5,175.7 72.2,177.0 73.0,178.2 73.8,179.2 74.5,180.2 75.2,181.0 76.0,181.8 76.8,182.6 77.5,183.2 78.2,183.8 79.0,184.3 79.8,184.8 80.5,185.3 81.2,185.6 82.0,186.0 82.8,186.3 83.5,186.6 84.2,186.8 85.0,187.1 85.8,187.3 86.5,187.5 87.2,187.7 88.0,187.8 88.8,187.9 89.5,188.0 90.2,188.1 91.0,188.3 91.8,188.4 92.5,188.5 93.2,188.5 94.0,188.6 94.8,188.7 95.5,188.8 96.2,188.8 97.0,188.9 97.8,188.9 98.5,189.0 99.2,189.0 100.0,189.0" fill="none" stroke="#ff1010" stroke-width="1.40" stroke-linejoin="round" stroke-linecap="butt"/>
<path d="M32.5,116.2 33.2,116.2 34.0,116.2 34.8,116.2 35.5,116.2 36.2,116.2 37.0,116.2 37.8,116.2 38.5,116.2 39.2,116.2 40.0,116.2 40.8,116.2 41.5,116.2 42.2,116.2 43.0,116.2 43.8,116.2 44.5,116.2 45.2,116.2 46.0,116.2 46.8,116.2 47.5,116.2 48.2,116.2 49.0,116.3 49.8,116.3 50.5,116.5 51.2,116.9 52.0,117.6 52.8,118.5 53.5,119.8 54.2,121.3 55.0,123.1 55.8,125.1 56.5,127.2 57.2,129.5 58.0,131.9 58.8,134.5 59.5,137.1 60.2,139.8 61.0,142.6 61.8,145.3 62.5,148.1 63.2,151.0 64.0,153.9 64.8,156.8 65.5,159.5 66.2,162.0 67.0,164.3 67.8,166.5 68.5,168.5 69.2,170.5 70.0,172.3 70.8,174.0 71.5,175.5 72.2,176.8 73.0,178.1 73.8,179.2 74.5,180.1 75.2,181.0 76.0,181.8 76.8,182.5 77.5,183.2 78.2,183.7 79.0,184.3 79.8,184.8 80.5,185.2 81.2,185.6 82.0,186.0 82.8,186.3 83.5,186.6 84.2,186.8 85.0,187.1 85.8,187.3 86.5,187.5 87.2,187.6 88.0,187.8 88.8,187.9 89.5,188.0 90.2,188.1 91.0,188.3 91.8,188.4 92.5,188.5 93.2,188.5 94.0,188.6 94.8,188.7 95.5,188.8 96.2,188.8 97.0,188.9 97.8,188.9 98.5,189.0 99.2,189.0 100.0,189.0" fill="none" stroke="#108a10" stroke-width="1.40" stroke-linejoin="round" stroke-linecap="butt"/>
<path d="M32.5,113.3 33.2,113.3 34.0,113.3 34.8,113.3 35.5,113.3 36.2,113.3 37.0,113.3 37.8,113.3 38.5,113.3 39.2,113.3 40.0,113.3 40.8,113.3 41.5,113.3 42.2,113.3 43.0,113.3 43.8,113.3 44.5,113.3 45.2,113.3 46.0,113.3 46.8,113.3 47.5,113.4 48.2,113.4 49.0,113.4 49.8,113.5 50.5,113.7 51.2,114.1 52.0,114.7 52.8,115.4 53.5,116.4 54.2,117.7 55.0,119.1 55.8,120.9 56.5,123.0 57.2,125.5 58.0,128.2 58.8,131.0 59.5,133.9 60.2,136.9 61.0,140.0 61.8,143.0 62.5,146.0 63.2,149.0 64.0,152.1 64.8,155.1 65.5,158.0 66.2,160.7 67.0,163.1 67.8,165.3 68.5,167.4 69.2,169.5 70.0,171.5 70.8,173.4 71.5,175.0 72.2,176.4 73.0,177.7 73.8,178.9 74.5,179.9 75.2,180.8 76.0,181.6 76.8,182.4 77.5,183.1 78.2,183.7 79.0,184.2 79.8,184.7 80.5,185.1 81.2,185.5 82.0,185.9 82.8,186.2 83.5,186.5 84.2,186.8 85.0,187.0 85.8,187.3 86.5,187.5 87.2,187.6 88.0,187.8 88.8,187.9 89.5,188.0 90.2,188.1 91.0,188.2 91.8,188.3 92.5,188.4 93.2,188.5 94.0,188.6 94.8,188.7 95.5,188.7 96.2,188.8 97.0,188.9 97.8,188.9 98.5,188.9 99.2,189.0 100.0,189.0 100.8,189.0 101.5,189.0 102.2,189.1 103.0,189.1 103.8,189.1 104.5,189.1 105.2,189.1 106.0,189.1 106.8,189.2 107.5,189.2 108.2,189.2 109.0,189.2 109.8,189.2 110.5,189.2 111.2,189.2 112.0,189.2 112.8,189.2 113.5,189.3 114.2,189.3 115.0,189.3 115.8,189.3 116.5,189.3 117.2,189.3 118.0,189.3 118.8,189.3 119.5,189.3 120.2,189.3 121.0,189.3 121.8,189.3 122.5,189.3 123.2,189.3 124.0,189.3 124.8,189.3 125.5,189.3 126.2,189.3 127.0,189.3 127.8,189.3 128.5,189.3 129.2,189.3 130.0,189.3 130.8,189.3 131.5,189.4 132.2,189.4 133.0,189.4 133.8,189.4 134.5,189.4 135.2,189.4 136.0,189.4 136.8,189.4 137.5,189.4 138.2,189.4 139.0,189.4 139.8,189.4 140.5,189.4 141.2,189.4 142.0,189.4 142.8,189.4 143.5,189.4 144.2,189.4 145.0,189.4 145.8,189.4 146.5,189.4 147.2,189.4 148.0,189.4 148.8,189.4 149.5,189.4 150.2,189.4 151.0,189.4 151.8,189.4 152.5,189.4 153.2,189.4 154.0,189.4 154.8,189.4 155.5,189.4 156.0,189.4" fill="none" stroke="#1010ff" stroke-width="1.40" stroke-linejoin="round" stroke-linecap="butt"/>
<path d="M391.3,128.1 392.0,128.1 392.8,128.1 393.5,128.1 394.3,128.1 395.0,128.1 395.8,128.1 396.5,128.1 397.3,128.1 398.0,128.0 398.8,128.0 399.5,128.0 400.3,128.0 401.0,127.9 401.8,127.8 402.5,127.7 403.3,127.6 404.0,127.5 404.8,127.5 405.5,127.4 406.3,127.5 407.0,127.6 407.8,127.8 408.5,128.0 409.3,128.3 410.0,128.7 410.8,129.2 411.5,130.0 412.3,131.0 413.0,132.3 413.8,134.0 414.5,136.0 415.3,138.3 416.0,140.9 416.8,143.6 417.5,146.5 418.3,149.5 419.0,152.5 419.8,155.5 420.5,158.3 421.3,160.9 422.0,163.6 422.8,166.3 423.5,168.8 424.3,171.1 425.0,173.0 425.8,174.8 426.5,176.4 427.3,177.8 428.0,179.2 428.8,180.4 429.5,181.5 430.3,182.5 431.0,183.2 431.8,183.9 432.5,184.5 433.3,185.0 434.0,185.5 434.8,185.9 435.5,186.2 436.3,186.5 437.0,186.7 437.8,186.9 438.5,187.1 439.3,187.3 440.0,187.5 440.8,187.6 441.5,187.7 442.3,187.8 443.0,187.9 443.8,188.0 444.5,188.1 445.3,188.2 446.0,188.3 446.8,188.3 447.5,188.4 448.3,188.5 449.0,188.5 449.8,188.6 450.5,188.6 451.3,188.7 452.0,188.7 452.8,188.8 453.5,188.8 454.3,188.8 455.0,188.8" fill="none" stroke="#000000" stroke-width="1.40" stroke-linejoin="round" stroke-linecap="butt"/>
<path d="M391.3,117.4 392.0,117.4 392.8,117.4 393.5,117.4 394.3,117.4 395.0,117.4 395.8,117.4 396.5,117.4 397.3,117.4 398.0,117.4 398.8,117.4 399.5,117.4 400.3,117.4 401.0,117.4 401.8,117.4 402.5,117.4 403.3,117.4 404.0,117.4 404.8,117.4 405.5,117.4 406.3,117.4 407.0,117.4 407.8,117.5 408.5,117.5 409.3,117.6 410.0,117.9 410.8,118.4 411.5,119.1 412.3,120.3 413.0,121.8 413.8,123.8 414.5,126.1 415.3,128.8 416.0,131.7 416.8,134.7 417.5,138.0 418.3,141.4 419.0,145.1 419.8,148.9 420.5,152.7 421.3,156.4 422.0,160.0 422.8,163.4 423.5,166.5 424.3,169.3 425.0,171.8 425.8,174.0 426.5,175.9 427.3,177.6 428.0,179.1 428.8,180.3 429.5,181.4 430.3,182.4 431.0,183.2 431.8,183.9 432.5,184.6 433.3,185.1 434.0,185.6 434.8,186.0 435.5,186.3 436.3,186.7 437.0,186.9 437.8,187.2 438.5,187.4 439.3,187.5 440.0,187.7 440.8,187.8 441.5,187.9 442.3,188.0 443.0,188.1 443.8,188.1 444.5,188.2 445.3,188.2 446.0,188.3 446.8,188.3 447.0,188.3" fill="none" stroke="#ff1010" stroke-width="1.40" stroke-linejoin="round" stroke-linecap="butt"/>
<path d="M391.3,116.1 392.0,116.1 392.8,116.1 393.5,116.1 394.3,116.1 395.0,116.1 395.8,116.1 396.5,116.1 397.3,116.1 398.0,116.1 398.8,116.1 399.5,116.1 400.3,116.1 401.0,116.1 401.8,116.1 402.5,116.1 403.3,116.1 404.0,116.1 404.8,116.1 405.5,116.1 406.3,116.1 407.0,116.1 407.8,116.2 408.5,116.2 409.3,116.3 410.0,116.5 410.8,116.9 411.5,117.6 412.3,118.7 413.0,120.2 413.8,122.1 414.5,124.4 415.3,127.0 416.0,129.9 416.8,133.0 417.5,136.4 418.3,140.0 419.0,143.8 419.8,147.7 420.5,151.6 421.3,155.4 422.0,159.1 422.8,162.5 423.5,165.7 424.3,168.6 425.0,171.1 425.8,173.4 426.5,175.4 427.3,177.2 428.0,178.7 428.8,180.1 429.5,181.2 430.3,182.2 431.0,183.1 431.8,183.8 432.5,184.5 433.3,185.1 434.0,185.6 434.8,186.0 435.5,186.3 436.3,186.6 437.0,186.9 437.8,187.1 438.5,187.3 439.3,187.5 440.0,187.6 440.8,187.7 441.5,187.9 442.3,188.0 443.0,188.0 443.8,188.1 444.5,188.2 445.3,188.2 446.0,188.3 446.8,188.3 447.0,188.3" fill="none" stroke="#108a10" stroke-width="1.40" stroke-linejoin="round" stroke-linecap="butt"/>
<path d="M391.3,113.5 392.0,113.5 392.8,113.5 393.5,113.5 394.3,113.5 395.0,113.5 395.8,113.5 396.5,113.5 397.3,113.5 398.0,113.5 398.8,113.5 399.5,113.5 400.3,113.5 401.0,113.5 401.8,113.5 402.5,113.5 403.3,113.5 404.0,113.5 404.8,113.5 405.5,113.5 406.3,113.5 407.0,113.5 407.8,113.5 408.5,113.6 409.3,113.6 410.0,113.8 410.8,114.2 411.5,114.9 412.3,116.1 413.0,117.7 413.8,120.0 414.5,122.6 415.3,125.5 416.0,128.5 416.8,131.4 417.5,134.5 418.3,137.8 419.0,141.4 419.8,145.2 420.5,149.1 421.3,153.1 422.0,157.0 422.8,160.7 423.5,164.3 424.3,167.5 425.0,170.3 425.8,172.7 426.5,174.8 427.3,176.6 428.0,178.3 428.8,179.7 429.5,180.9 430.3,182.0 431.0,182.9 431.8,183.7 432.5,184.4 433.3,185.0 434.0,185.5 434.8,186.0 435.5,186.3 436.3,186.7 437.0,186.9 437.8,187.2 438.5,187.4 439.3,187.6 440.0,187.7 440.8,187.8 441.5,187.9 442.3,188.0 443.0,188.1 443.8,188.1 444.5,188.2 445.3,188.3 446.0,188.3 446.8,188.4 447.5,188.4 448.3,188.5 449.0,188.5 449.8,188.6 450.5,188.6 451.3,188.7 452.0,188.7 452.8,188.8 453.5,188.8 454.3,188.8 455.0,188.9 455.8,188.9 456.5,188.9 457.3,188.9 458.0,189.0 458.8,189.0 459.5,189.0 460.3,189.0 461.0,189.0 461.8,189.0 462.5,189.0 463.3,189.0 464.0,189.0 464.8,189.0 465.5,189.0 466.3,189.0 467.0,189.1 467.8,189.1 468.5,189.1 469.3,189.1 470.0,189.1 470.8,189.1 471.5,189.1 472.3,189.1 473.0,189.1 473.8,189.1 474.5,189.1 475.3,189.1 476.0,189.1 476.8,189.1 477.5,189.1 478.3,189.1 479.0,189.1 479.8,189.1 480.5,189.1 481.3,189.1 482.0,189.1 482.8,189.1 483.5,189.1 484.3,189.1 485.0,189.1 485.8,189.1 486.5,189.2 487.3,189.2 488.0,189.2 488.8,189.2 489.5,189.2 490.3,189.2 491.0,189.2 491.8,189.2 492.5,189.2 493.3,189.2 494.0,189.2 494.8,189.2 495.5,189.2 496.3,189.2 497.0,189.2 497.8,189.2 498.5,189.2 499.3,189.2 500.0,189.2 500.8,189.2 501.5,189.2 502.3,189.2 503.0,189.2 503.8,189.2 504.5,189.2 505.3,189.2 506.0,189.2 506.8,189.2 507.5,189.2 508.3,189.2 509.0,189.2 509.8,189.2 510.5,189.2 511.3,189.2 512.0,189.2 512.8,189.2 513.5,189.2 514.3,189.2 515.0,189.2 515.8,189.2 516.0,189.2" fill="none" stroke="#1010ff" stroke-width="1.40" stroke-linejoin="round" stroke-linecap="butt"/>
<line x1="214.50" y1="113.50" x2="214.50" y2="183.60" stroke="#747474" stroke-width="0.75"/>
<line x1="214.30" y1="114.00" x2="215.40" y2="114.00" stroke="#4a4a4a" stroke-width="0.5"/>
<line x1="214.30" y1="116.32" x2="215.40" y2="116.32" stroke="#4a4a4a" stroke-width="0.5"/>
<line x1="214.30" y1="118.64" x2="215.40" y2="118.64" stroke="#4a4a4a" stroke-width="0.5"/>
<line x1="214.30" y1="120.96" x2="215.40" y2="120.96" stroke="#4a4a4a" stroke-width="0.5"/>
<line x1="214.30" y1="123.28" x2="215.40" y2="123.28" stroke="#4a4a4a" stroke-width="0.5"/>
<line x1="214.30" y1="125.60" x2="215.40" y2="125.60" stroke="#4a4a4a" stroke-width="0.5"/>
<line x1="214.30" y1="127.92" x2="215.40" y2="127.92" stroke="#4a4a4a" stroke-width="0.5"/>
<line x1="214.30" y1="130.24" x2="215.40" y2="130.24" stroke="#4a4a4a" stroke-width="0.5"/>
<line x1="214.30" y1="132.56" x2="215.40" y2="132.56" stroke="#4a4a4a" stroke-width="0.5"/>
<line x1="214.30" y1="134.88" x2="215.40" y2="134.88" stroke="#4a4a4a" stroke-width="0.5"/>
<line x1="214.30" y1="137.20" x2="215.40" y2="137.20" stroke="#4a4a4a" stroke-width="0.5"/>
<line x1="214.30" y1="139.52" x2="215.40" y2="139.52" stroke="#4a4a4a" stroke-width="0.5"/>
<line x1="214.30" y1="141.84" x2="215.40" y2="141.84" stroke="#4a4a4a" stroke-width="0.5"/>
<line x1="214.30" y1="144.16" x2="215.40" y2="144.16" stroke="#4a4a4a" stroke-width="0.5"/>
<line x1="214.30" y1="146.48" x2="215.40" y2="146.48" stroke="#4a4a4a" stroke-width="0.5"/>
<line x1="214.30" y1="148.80" x2="215.40" y2="148.80" stroke="#4a4a4a" stroke-width="0.5"/>
<line x1="214.30" y1="151.12" x2="215.40" y2="151.12" stroke="#4a4a4a" stroke-width="0.5"/>
<line x1="214.30" y1="153.44" x2="215.40" y2="153.44" stroke="#4a4a4a" stroke-width="0.5"/>
<line x1="214.30" y1="155.76" x2="215.40" y2="155.76" stroke="#4a4a4a" stroke-width="0.5"/>
<line x1="214.30" y1="158.08" x2="215.40" y2="158.08" stroke="#4a4a4a" stroke-width="0.5"/>
<line x1="214.30" y1="160.40" x2="215.40" y2="160.40" stroke="#4a4a4a" stroke-width="0.5"/>
<line x1="214.30" y1="162.72" x2="215.40" y2="162.72" stroke="#4a4a4a" stroke-width="0.5"/>
<line x1="214.30" y1="165.04" x2="215.40" y2="165.04" stroke="#4a4a4a" stroke-width="0.5"/>
<line x1="214.30" y1="167.36" x2="215.40" y2="167.36" stroke="#4a4a4a" stroke-width="0.5"/>
<line x1="214.30" y1="169.68" x2="215.40" y2="169.68" stroke="#4a4a4a" stroke-width="0.5"/>
<line x1="214.30" y1="172.00" x2="215.40" y2="172.00" stroke="#4a4a4a" stroke-width="0.5"/>
<line x1="214.30" y1="174.32" x2="215.40" y2="174.32" stroke="#4a4a4a" stroke-width="0.5"/>
<line x1="214.30" y1="176.64" x2="215.40" y2="176.64" stroke="#4a4a4a" stroke-width="0.5"/>
<line x1="214.30" y1="178.96" x2="215.40" y2="178.96" stroke="#4a4a4a" stroke-width="0.5"/>
<line x1="214.30" y1="181.28" x2="215.40" y2="181.28" stroke="#4a4a4a" stroke-width="0.5"/>
<line x1="214.30" y1="123.70" x2="215.90" y2="123.70" stroke="#4a4a4a" stroke-width="0.55"/>
<text transform="translate(212.60,125.90) scale(1,1.18)" class="tl" text-anchor="end">0.000065</text>
<line x1="214.30" y1="135.30" x2="215.90" y2="135.30" stroke="#4a4a4a" stroke-width="0.55"/>
<text transform="translate(212.60,137.50) scale(1,1.18)" class="tl" text-anchor="end">0.00006</text>
<line x1="214.30" y1="146.90" x2="215.90" y2="146.90" stroke="#4a4a4a" stroke-width="0.55"/>
<text transform="translate(212.60,149.10) scale(1,1.18)" class="tl" text-anchor="end">0.000055</text>
<line x1="214.30" y1="158.50" x2="215.90" y2="158.50" stroke="#4a4a4a" stroke-width="0.55"/>
<text transform="translate(212.60,160.70) scale(1,1.18)" class="tl" text-anchor="end">0.00005</text>
<line x1="214.30" y1="170.10" x2="215.90" y2="170.10" stroke="#4a4a4a" stroke-width="0.55"/>
<text transform="translate(212.60,172.30) scale(1,1.18)" class="tl" text-anchor="end">0.000045</text>
<line x1="213.00" y1="181.60" x2="338.30" y2="181.60" stroke="#747474" stroke-width="0.75"/>
<line x1="219.34" y1="181.80" x2="219.34" y2="180.70" stroke="#4a4a4a" stroke-width="0.5"/>
<line x1="224.18" y1="181.80" x2="224.18" y2="180.70" stroke="#4a4a4a" stroke-width="0.5"/>
<line x1="229.02" y1="181.80" x2="229.02" y2="180.70" stroke="#4a4a4a" stroke-width="0.5"/>
<line x1="233.86" y1="181.80" x2="233.86" y2="180.70" stroke="#4a4a4a" stroke-width="0.5"/>
<line x1="243.54" y1="181.80" x2="243.54" y2="180.70" stroke="#4a4a4a" stroke-width="0.5"/>
<line x1="248.38" y1="181.80" x2="248.38" y2="180.70" stroke="#4a4a4a" stroke-width="0.5"/>
<line x1="253.22" y1="181.80" x2="253.22" y2="180.70" stroke="#4a4a4a" stroke-width="0.5"/>
<line x1="258.06" y1="181.80" x2="258.06" y2="180.70" stroke="#4a4a4a" stroke-width="0.5"/>
<line x1="267.74" y1="181.80" x2="267.74" y2="180.70" stroke="#4a4a4a" stroke-width="0.5"/>
<line x1="272.58" y1="181.80" x2="272.58" y2="180.70" stroke="#4a4a4a" stroke-width="0.5"/>
<line x1="277.42" y1="181.80" x2="277.42" y2="180.70" stroke="#4a4a4a" stroke-width="0.5"/>
<line x1="282.26" y1="181.80" x2="282.26" y2="180.70" stroke="#4a4a4a" stroke-width="0.5"/>
<line x1="291.94" y1="181.80" x2="291.94" y2="180.70" stroke="#4a4a4a" stroke-width="0.5"/>
<line x1="296.78" y1="181.80" x2="296.78" y2="180.70" stroke="#4a4a4a" stroke-width="0.5"/>
<line x1="301.62" y1="181.80" x2="301.62" y2="180.70" stroke="#4a4a4a" stroke-width="0.5"/>
<line x1="306.46" y1="181.80" x2="306.46" y2="180.70" stroke="#4a4a4a" stroke-width="0.5"/>
<line x1="316.14" y1="181.80" x2="316.14" y2="180.70" stroke="#4a4a4a" stroke-width="0.5"/>
<line x1="320.98" y1="181.80" x2="320.98" y2="180.70" stroke="#4a4a4a" stroke-width="0.5"/>
<line x1="325.82" y1="181.80" x2="325.82" y2="180.70" stroke="#4a4a4a" stroke-width="0.5"/>
<line x1="330.66" y1="181.80" x2="330.66" y2="180.70" stroke="#4a4a4a" stroke-width="0.5"/>
<line x1="238.70" y1="181.80" x2="238.70" y2="180.20" stroke="#4a4a4a" stroke-width="0.55"/>
<text transform="translate(238.70,186.90) scale(1,1.15)" class="xl" text-anchor="middle">10</text>
<line x1="262.90" y1="181.80" x2="262.90" y2="180.20" stroke="#4a4a4a" stroke-width="0.55"/>
<text transform="translate(262.90,186.90) scale(1,1.15)" class="xl" text-anchor="middle">20</text>
<line x1="287.10" y1="181.80" x2="287.10" y2="180.20" stroke="#4a4a4a" stroke-width="0.55"/>
<text transform="translate(287.10,186.90) scale(1,1.15)" class="xl" text-anchor="middle">30</text>
<line x1="311.30" y1="181.80" x2="311.30" y2="180.20" stroke="#4a4a4a" stroke-width="0.55"/>
<text transform="translate(311.30,186.90) scale(1,1.15)" class="xl" text-anchor="middle">40</text>
<line x1="335.50" y1="181.80" x2="335.50" y2="180.20" stroke="#4a4a4a" stroke-width="0.55"/>
<text transform="translate(335.50,186.90) scale(1,1.15)" class="xl" text-anchor="middle">50</text>
<text x="342.70" y="183.80" class="tau">&#964;</text>
<rect x="338.80" y="112.55" width="23.10" height="59.70" fill="#ffffff"/>
<g clip-path="url(#lc6)">
<line x1="341.00" y1="120.40" x2="353.40" y2="120.40" stroke="#4a4a4a" stroke-width="0.80"/>
<text x="355.60" y="122.30" class="lg">C</text>
<line x1="341.00" y1="135.03" x2="353.40" y2="135.03" stroke="#ff8c8c" stroke-width="1.10"/>
<text x="355.60" y="136.93" class="lg">Si</text>
<line x1="341.00" y1="149.66" x2="353.40" y2="149.66" stroke="#4aa64a" stroke-width="0.80"/>
<text x="355.60" y="151.56" class="lg">Ge</text>
<line x1="341.00" y1="164.29" x2="353.40" y2="164.29" stroke="#7474ff" stroke-width="0.95"/>
<text x="355.60" y="166.19" class="lg">Sn</text>
</g>
<rect x="338.80" y="112.55" width="23.10" height="59.70" rx="0.9" fill="none" stroke="#8c8c8c" stroke-width="1.0"/>
<text x="211.60" y="109.50" class="tt">&#946;<tspan class="sb" dy="0.25">0</tspan></text>
<path d="M214.5,147.5 215.2,147.5 216.0,147.4 216.7,147.4 217.5,147.4 218.2,147.4 219.0,147.3 219.7,147.3 220.5,147.3 221.2,147.3 222.0,147.2 222.7,147.2 223.5,147.2 224.2,147.1 225.0,147.1 225.7,147.1 226.5,147.1 227.2,147.0 228.0,147.0 228.7,147.0 229.5,147.0 230.2,147.0 231.0,146.9 231.7,146.9 232.5,146.9 233.2,146.9 234.0,146.8 234.7,146.8 235.5,146.8 236.2,146.8 237.0,146.8 237.7,146.7 238.5,146.7 239.2,146.7 240.0,146.7 240.7,146.7 241.5,146.7 242.2,146.6 243.0,146.6 243.7,146.6 244.5,146.6 245.2,146.6 246.0,146.6 246.7,146.6 247.5,146.5 248.2,146.5 249.0,146.5 249.7,146.5 250.5,146.5 251.2,146.5 252.0,146.5 252.7,146.5 253.5,146.4 254.2,146.4 255.0,146.4 255.7,146.4 256.5,146.4 257.2,146.4 258.0,146.4 258.7,146.4 259.5,146.4 260.2,146.4 261.0,146.3 261.7,146.3 262.5,146.3 263.2,146.3 264.0,146.3 264.7,146.3 265.5,146.3 266.2,146.3 267.0,146.3 267.7,146.3 268.5,146.3 269.2,146.3 270.0,146.2 270.7,146.2 271.5,146.2 272.2,146.2 273.0,146.2 273.7,146.2 274.5,146.2 275.2,146.2 276.0,146.2 276.7,146.2 277.5,146.2 278.2,146.2 279.0,146.2 279.7,146.2 280.5,146.2 281.2,146.2 282.0,146.2 282.7,146.2 283.5,146.3 284.2,146.3 285.0,146.3 285.7,146.3 286.5,146.4 287.2,146.4 288.0,146.4 288.7,146.5 289.5,146.5 290.2,146.6 291.0,146.6 291.7,146.7 292.5,146.8 293.2,146.9 294.0,147.0 294.7,147.1 295.5,147.3 296.2,147.4 297.0,147.6 297.7,147.8 298.5,148.0 299.2,148.1 300.0,148.4 300.7,148.6 301.5,148.8 302.2,149.1 303.0,149.3 303.7,149.7 304.5,150.0 305.2,150.4 306.0,150.8 306.7,151.2 307.5,151.7 308.2,152.2 309.0,152.6 309.7,153.1 310.5,153.7 311.2,154.2 312.0,154.7 312.7,155.3 313.5,155.9 314.2,156.5 315.0,157.2 315.7,157.9 316.5,158.6 317.2,159.3 318.0,160.1 318.7,160.9 319.5,161.7 320.2,162.6 321.0,163.5 321.7,164.4 322.5,165.3 323.2,166.3 324.0,167.3 324.7,168.4 325.5,169.6 326.2,170.8 327.0,172.0 327.7,173.3 328.5,174.6 329.2,176.0 330.0,177.3 330.7,178.7 331.5,180.0 332.2,181.4 333.0,182.9 333.7,184.4 334.5,185.9 335.2,187.5 336.0,189.1 336.2,189.6" fill="none" stroke="#000000" stroke-width="1.40" stroke-linejoin="round" stroke-linecap="butt"/>
<path d="M214.5,124.1 215.2,124.1 216.0,124.1 216.7,124.0 217.5,124.0 218.2,124.0 219.0,124.0 219.7,124.0 220.5,123.9 221.2,123.9 222.0,123.9 222.7,123.9 223.5,123.9 224.2,123.8 225.0,123.8 225.7,123.8 226.5,123.8 227.2,123.8 228.0,123.7 228.7,123.7 229.5,123.7 230.2,123.7 231.0,123.7 231.7,123.7 232.5,123.6 233.2,123.6 234.0,123.6 234.7,123.6 235.5,123.6 236.2,123.6 237.0,123.6 237.7,123.5 238.5,123.5 239.2,123.5 240.0,123.5 240.7,123.5 241.5,123.5 242.2,123.5 243.0,123.5 243.7,123.5 244.5,123.4 245.2,123.4 246.0,123.4 246.7,123.4 247.5,123.4 248.2,123.4 249.0,123.4 249.7,123.4 250.5,123.4 251.2,123.4 252.0,123.4 252.7,123.4 253.5,123.4 254.2,123.4 255.0,123.4 255.7,123.4 256.5,123.4 257.2,123.4 258.0,123.4 258.7,123.4 259.5,123.4 260.2,123.3 261.0,123.3 261.7,123.3 262.5,123.3 263.2,123.3 264.0,123.3 264.7,123.3 265.5,123.3 266.2,123.3 267.0,123.3 267.7,123.3 268.5,123.3 269.2,123.3 270.0,123.3 270.7,123.3 271.5,123.3 272.2,123.3 273.0,123.3 273.7,123.3 274.5,123.3 275.2,123.3 276.0,123.3 276.7,123.3 277.5,123.3 278.2,123.3 279.0,123.3 279.7,123.3 280.5,123.3 281.2,123.3 282.0,123.4 282.7,123.4 283.5,123.5 284.2,123.5 285.0,123.6 285.7,123.7 286.5,123.8 287.2,123.9 288.0,124.0 288.7,124.1 289.5,124.2 290.2,124.3 291.0,124.5 291.7,124.6 292.5,124.7 293.2,124.9 294.0,125.0 294.7,125.2 295.5,125.3 296.2,125.5 297.0,125.7 297.7,125.9 298.5,126.2 299.2,126.4 300.0,126.7 300.7,126.9 301.5,127.2 302.2,127.6 303.0,127.9 303.7,128.4 304.5,128.8 305.2,129.4 306.0,129.9 306.7,130.5 307.5,131.1 308.2,131.7 309.0,132.4 309.7,133.1 310.5,133.8 311.2,134.5 312.0,135.3 312.7,136.1 313.5,136.9 314.2,137.8 315.0,138.8 315.7,139.8 316.5,140.8 317.2,141.9 318.0,143.0 318.7,144.2 319.5,145.4 320.2,146.5 321.0,147.7 321.7,148.9 322.5,150.1 323.2,151.3 324.0,152.5 324.7,153.8 325.5,155.1 326.2,156.4 327.0,157.8 327.7,159.2 328.5,160.5 329.2,162.0 330.0,163.4 330.7,164.8 331.5,166.3 332.2,167.8 333.0,169.3 333.7,170.9 334.5,172.5 335.2,174.1 336.0,175.8 336.2,176.3" fill="none" stroke="#ff1010" stroke-width="1.40" stroke-linejoin="round" stroke-linecap="butt"/>
<path d="M214.5,122.4 215.2,122.4 216.0,122.4 216.7,122.3 217.5,122.3 218.2,122.3 219.0,122.3 219.7,122.3 220.5,122.2 221.2,122.2 222.0,122.2 222.7,122.2 223.5,122.2 224.2,122.2 225.0,122.1 225.7,122.1 226.5,122.1 227.2,122.1 228.0,122.1 228.7,122.1 229.5,122.0 230.2,122.0 231.0,122.0 231.7,122.0 232.5,122.0 233.2,122.0 234.0,122.0 234.7,121.9 235.5,121.9 236.2,121.9 237.0,121.9 237.7,121.9 238.5,121.9 239.2,121.9 240.0,121.9 240.7,121.9 241.5,121.8 242.2,121.8 243.0,121.8 243.7,121.8 244.5,121.8 245.2,121.8 246.0,121.8 246.7,121.8 247.5,121.8 248.2,121.8 249.0,121.8 249.7,121.8 250.5,121.8 251.2,121.8 252.0,121.8 252.7,121.8 253.5,121.8 254.2,121.8 255.0,121.8 255.7,121.8 256.5,121.8 257.2,121.8 258.0,121.8 258.7,121.8 259.5,121.8 260.2,121.8 261.0,121.8 261.7,121.8 262.5,121.8 263.2,121.8 264.0,121.8 264.7,121.8 265.5,121.8 266.2,121.8 267.0,121.8 267.7,121.8 268.5,121.8 269.2,121.8 270.0,121.8 270.7,121.8 271.5,121.8 272.2,121.8 273.0,121.8 273.7,121.8 274.5,121.8 275.2,121.8 276.0,121.8 276.7,121.8 277.5,121.8 278.2,121.8 279.0,121.8 279.7,121.8 280.5,121.8 281.2,121.8 282.0,121.9 282.7,121.9 283.5,122.0 284.2,122.0 285.0,122.1 285.7,122.2 286.5,122.3 287.2,122.3 288.0,122.4 288.7,122.5 289.5,122.6 290.2,122.7 291.0,122.9 291.7,123.0 292.5,123.1 293.2,123.2 294.0,123.4 294.7,123.5 295.5,123.7 296.2,123.9 297.0,124.1 297.7,124.3 298.5,124.5 299.2,124.7 300.0,125.0 300.7,125.2 301.5,125.5 302.2,125.9 303.0,126.2 303.7,126.7 304.5,127.1 305.2,127.6 306.0,128.2 306.7,128.8 307.5,129.4 308.2,130.0 309.0,130.7 309.7,131.4 310.5,132.1 311.2,132.8 312.0,133.6 312.7,134.4 313.5,135.2 314.2,136.1 315.0,137.1 315.7,138.1 316.5,139.1 317.2,140.2 318.0,141.3 318.7,142.5 319.5,143.7 320.2,144.8 321.0,146.0 321.7,147.2 322.5,148.4 323.2,149.6 324.0,150.8 324.7,152.1 325.5,153.4 326.2,154.7 327.0,156.1 327.7,157.4 328.5,158.8 329.2,160.2 330.0,161.7 330.7,163.1 331.5,164.6 332.2,166.1 333.0,167.7 333.7,169.3 334.5,170.9 335.2,172.6 336.0,174.2 336.2,174.8" fill="none" stroke="#108a10" stroke-width="1.40" stroke-linejoin="round" stroke-linecap="butt"/>
<path d="M214.5,117.1 215.2,117.1 216.0,117.0 216.7,117.0 217.5,117.0 218.2,117.0 219.0,116.9 219.7,116.9 220.5,116.9 221.2,116.9 222.0,116.8 222.7,116.8 223.5,116.8 224.2,116.8 225.0,116.7 225.7,116.7 226.5,116.7 227.2,116.7 228.0,116.6 228.7,116.6 229.5,116.6 230.2,116.6 231.0,116.5 231.7,116.5 232.5,116.5 233.2,116.5 234.0,116.5 234.7,116.4 235.5,116.4 236.2,116.4 237.0,116.4 237.7,116.4 238.5,116.4 239.2,116.3 240.0,116.3 240.7,116.3 241.5,116.3 242.2,116.3 243.0,116.3 243.7,116.3 244.5,116.3 245.2,116.2 246.0,116.2 246.7,116.2 247.5,116.2 248.2,116.2 249.0,116.2 249.7,116.2 250.5,116.2 251.2,116.2 252.0,116.2 252.7,116.2 253.5,116.2 254.2,116.2 255.0,116.2 255.7,116.2 256.5,116.2 257.2,116.2 258.0,116.2 258.7,116.2 259.5,116.2 260.2,116.1 261.0,116.1 261.7,116.1 262.5,116.1 263.2,116.1 264.0,116.1 264.7,116.1 265.5,116.1 266.2,116.1 267.0,116.1 267.7,116.1 268.5,116.1 269.2,116.1 270.0,116.1 270.7,116.1 271.5,116.1 272.2,116.1 273.0,116.1 273.7,116.1 274.5,116.1 275.2,116.1 276.0,116.1 276.7,116.1 277.5,116.1 278.2,116.1 279.0,116.1 279.7,116.1 280.5,116.1 281.2,116.1 282.0,116.1 282.7,116.2 283.5,116.2 284.2,116.3 285.0,116.3 285.7,116.4 286.5,116.4 287.2,116.5 288.0,116.6 288.7,116.7 289.5,116.8 290.2,116.9 291.0,117.0 291.7,117.1 292.5,117.3 293.2,117.4 294.0,117.7 294.7,117.9 295.5,118.2 296.2,118.4 297.0,118.7 297.7,119.1 298.5,119.4 299.2,119.7 300.0,120.1 300.7,120.5 301.5,120.9 302.2,121.3 303.0,121.7 303.7,122.2 304.5,122.7 305.2,123.3 306.0,123.8 306.7,124.4 307.5,125.1 308.2,125.7 309.0,126.4 309.7,127.1 310.5,127.9 311.2,128.6 312.0,129.4 312.7,130.2 313.5,131.1 314.2,132.0 315.0,132.9 315.7,133.9 316.5,135.0 317.2,136.1 318.0,137.2 318.7,138.3 319.5,139.4 320.2,140.6 321.0,141.7 321.7,142.9 322.5,144.1 323.2,145.3 324.0,146.5 324.7,147.7 325.5,148.9 326.2,150.2 327.0,151.5 327.7,152.8 328.5,154.2 329.2,155.6 330.0,157.0 330.7,158.5 331.5,160.1 332.2,161.7 333.0,163.4 333.7,165.1 334.5,166.9 335.2,168.7 336.0,170.6 336.2,171.2" fill="none" stroke="#1010ff" stroke-width="1.40" stroke-linejoin="round" stroke-linecap="butt"/>
<line x1="35.50" y1="211.80" x2="35.50" y2="291.00" stroke="#747474" stroke-width="0.75"/>
<line x1="35.30" y1="211.80" x2="36.40" y2="211.80" stroke="#4a4a4a" stroke-width="0.5"/>
<line x1="35.30" y1="213.79" x2="36.40" y2="213.79" stroke="#4a4a4a" stroke-width="0.5"/>
<line x1="35.30" y1="215.78" x2="36.40" y2="215.78" stroke="#4a4a4a" stroke-width="0.5"/>
<line x1="35.30" y1="217.77" x2="36.40" y2="217.77" stroke="#4a4a4a" stroke-width="0.5"/>
<line x1="35.30" y1="219.76" x2="36.40" y2="219.76" stroke="#4a4a4a" stroke-width="0.5"/>
<line x1="35.30" y1="221.75" x2="36.40" y2="221.75" stroke="#4a4a4a" stroke-width="0.5"/>
<line x1="35.30" y1="223.74" x2="36.40" y2="223.74" stroke="#4a4a4a" stroke-width="0.5"/>
<line x1="35.30" y1="225.73" x2="36.40" y2="225.73" stroke="#4a4a4a" stroke-width="0.5"/>
<line x1="35.30" y1="227.72" x2="36.40" y2="227.72" stroke="#4a4a4a" stroke-width="0.5"/>
<line x1="35.30" y1="229.71" x2="36.40" y2="229.71" stroke="#4a4a4a" stroke-width="0.5"/>
<line x1="35.30" y1="231.70" x2="36.40" y2="231.70" stroke="#4a4a4a" stroke-width="0.5"/>
<line x1="35.30" y1="233.69" x2="36.40" y2="233.69" stroke="#4a4a4a" stroke-width="0.5"/>
<line x1="35.30" y1="235.68" x2="36.40" y2="235.68" stroke="#4a4a4a" stroke-width="0.5"/>
<line x1="35.30" y1="237.67" x2="36.40" y2="237.67" stroke="#4a4a4a" stroke-width="0.5"/>
<line x1="35.30" y1="239.66" x2="36.40" y2="239.66" stroke="#4a4a4a" stroke-width="0.5"/>
<line x1="35.30" y1="241.65" x2="36.40" y2="241.65" stroke="#4a4a4a" stroke-width="0.5"/>
<line x1="35.30" y1="243.64" x2="36.40" y2="243.64" stroke="#4a4a4a" stroke-width="0.5"/>
<line x1="35.30" y1="245.63" x2="36.40" y2="245.63" stroke="#4a4a4a" stroke-width="0.5"/>
<line x1="35.30" y1="247.62" x2="36.40" y2="247.62" stroke="#4a4a4a" stroke-width="0.5"/>
<line x1="35.30" y1="249.61" x2="36.40" y2="249.61" stroke="#4a4a4a" stroke-width="0.5"/>
<line x1="35.30" y1="251.60" x2="36.40" y2="251.60" stroke="#4a4a4a" stroke-width="0.5"/>
<line x1="35.30" y1="253.59" x2="36.40" y2="253.59" stroke="#4a4a4a" stroke-width="0.5"/>
<line x1="35.30" y1="255.58" x2="36.40" y2="255.58" stroke="#4a4a4a" stroke-width="0.5"/>
<line x1="35.30" y1="257.57" x2="36.40" y2="257.57" stroke="#4a4a4a" stroke-width="0.5"/>
<line x1="35.30" y1="259.56" x2="36.40" y2="259.56" stroke="#4a4a4a" stroke-width="0.5"/>
<line x1="35.30" y1="261.55" x2="36.40" y2="261.55" stroke="#4a4a4a" stroke-width="0.5"/>
<line x1="35.30" y1="263.54" x2="36.40" y2="263.54" stroke="#4a4a4a" stroke-width="0.5"/>
<line x1="35.30" y1="265.53" x2="36.40" y2="265.53" stroke="#4a4a4a" stroke-width="0.5"/>
<line x1="35.30" y1="267.52" x2="36.40" y2="267.52" stroke="#4a4a4a" stroke-width="0.5"/>
<line x1="35.30" y1="269.51" x2="36.40" y2="269.51" stroke="#4a4a4a" stroke-width="0.5"/>
<line x1="35.30" y1="271.50" x2="36.40" y2="271.50" stroke="#4a4a4a" stroke-width="0.5"/>
<line x1="35.30" y1="273.49" x2="36.40" y2="273.49" stroke="#4a4a4a" stroke-width="0.5"/>
<line x1="35.30" y1="275.48" x2="36.40" y2="275.48" stroke="#4a4a4a" stroke-width="0.5"/>
<line x1="35.30" y1="277.47" x2="36.40" y2="277.47" stroke="#4a4a4a" stroke-width="0.5"/>
<line x1="35.30" y1="279.46" x2="36.40" y2="279.46" stroke="#4a4a4a" stroke-width="0.5"/>
<line x1="35.30" y1="281.45" x2="36.40" y2="281.45" stroke="#4a4a4a" stroke-width="0.5"/>
<line x1="35.30" y1="283.44" x2="36.40" y2="283.44" stroke="#4a4a4a" stroke-width="0.5"/>
<line x1="35.30" y1="285.43" x2="36.40" y2="285.43" stroke="#4a4a4a" stroke-width="0.5"/>
<line x1="35.30" y1="287.42" x2="36.40" y2="287.42" stroke="#4a4a4a" stroke-width="0.5"/>
<line x1="35.30" y1="289.41" x2="36.40" y2="289.41" stroke="#4a4a4a" stroke-width="0.5"/>
<line x1="35.30" y1="213.70" x2="36.90" y2="213.70" stroke="#4a4a4a" stroke-width="0.55"/>
<text transform="translate(33.60,215.90) scale(1,1.18)" class="tl" text-anchor="end">5&#215;10<tspan dy="-1.4" font-size="2.7">-8</tspan></text>
<line x1="35.30" y1="233.60" x2="36.90" y2="233.60" stroke="#4a4a4a" stroke-width="0.55"/>
<text transform="translate(33.60,235.80) scale(1,1.18)" class="tl" text-anchor="end">-5&#215;10<tspan dy="-1.4" font-size="2.7">-8</tspan></text>
<line x1="35.30" y1="243.60" x2="36.90" y2="243.60" stroke="#4a4a4a" stroke-width="0.55"/>
<text transform="translate(33.60,245.80) scale(1,1.18)" class="tl" text-anchor="end">-1&#215;10<tspan dy="-1.4" font-size="2.7">-7</tspan></text>
<line x1="35.30" y1="253.50" x2="36.90" y2="253.50" stroke="#4a4a4a" stroke-width="0.55"/>
<text transform="translate(33.60,255.70) scale(1,1.18)" class="tl" text-anchor="end">-1.5&#215;10<tspan dy="-1.4" font-size="2.7">-7</tspan></text>
<line x1="35.30" y1="263.50" x2="36.90" y2="263.50" stroke="#4a4a4a" stroke-width="0.55"/>
<text transform="translate(33.60,265.70) scale(1,1.18)" class="tl" text-anchor="end">-2&#215;10<tspan dy="-1.4" font-size="2.7">-7</tspan></text>
<line x1="35.30" y1="273.40" x2="36.90" y2="273.40" stroke="#4a4a4a" stroke-width="0.55"/>
<text transform="translate(33.60,275.60) scale(1,1.18)" class="tl" text-anchor="end">-2.5&#215;10<tspan dy="-1.4" font-size="2.7">-7</tspan></text>
<line x1="35.30" y1="283.40" x2="36.90" y2="283.40" stroke="#4a4a4a" stroke-width="0.55"/>
<text transform="translate(33.60,285.60) scale(1,1.18)" class="tl" text-anchor="end">-3&#215;10<tspan dy="-1.4" font-size="2.7">-7</tspan></text>
<line x1="32.50" y1="223.45" x2="158.80" y2="223.45" stroke="#747474" stroke-width="0.75"/>
<line x1="38.92" y1="223.65" x2="38.92" y2="222.55" stroke="#4a4a4a" stroke-width="0.5"/>
<line x1="42.34" y1="223.65" x2="42.34" y2="222.55" stroke="#4a4a4a" stroke-width="0.5"/>
<line x1="45.76" y1="223.65" x2="45.76" y2="222.55" stroke="#4a4a4a" stroke-width="0.5"/>
<line x1="49.18" y1="223.65" x2="49.18" y2="222.55" stroke="#4a4a4a" stroke-width="0.5"/>
<line x1="56.02" y1="223.65" x2="56.02" y2="222.55" stroke="#4a4a4a" stroke-width="0.5"/>
<line x1="59.44" y1="223.65" x2="59.44" y2="222.55" stroke="#4a4a4a" stroke-width="0.5"/>
<line x1="62.86" y1="223.65" x2="62.86" y2="222.55" stroke="#4a4a4a" stroke-width="0.5"/>
<line x1="66.28" y1="223.65" x2="66.28" y2="222.55" stroke="#4a4a4a" stroke-width="0.5"/>
<line x1="73.12" y1="223.65" x2="73.12" y2="222.55" stroke="#4a4a4a" stroke-width="0.5"/>
<line x1="76.54" y1="223.65" x2="76.54" y2="222.55" stroke="#4a4a4a" stroke-width="0.5"/>
<line x1="79.96" y1="223.65" x2="79.96" y2="222.55" stroke="#4a4a4a" stroke-width="0.5"/>
<line x1="83.38" y1="223.65" x2="83.38" y2="222.55" stroke="#4a4a4a" stroke-width="0.5"/>
<line x1="90.22" y1="223.65" x2="90.22" y2="222.55" stroke="#4a4a4a" stroke-width="0.5"/>
<line x1="93.64" y1="223.65" x2="93.64" y2="222.55" stroke="#4a4a4a" stroke-width="0.5"/>
<line x1="97.06" y1="223.65" x2="97.06" y2="222.55" stroke="#4a4a4a" stroke-width="0.5"/>
<line x1="100.48" y1="223.65" x2="100.48" y2="222.55" stroke="#4a4a4a" stroke-width="0.5"/>
<line x1="107.32" y1="223.65" x2="107.32" y2="222.55" stroke="#4a4a4a" stroke-width="0.5"/>
<line x1="110.74" y1="223.65" x2="110.74" y2="222.55" stroke="#4a4a4a" stroke-width="0.5"/>
<line x1="114.16" y1="223.65" x2="114.16" y2="222.55" stroke="#4a4a4a" stroke-width="0.5"/>
<line x1="117.58" y1="223.65" x2="117.58" y2="222.55" stroke="#4a4a4a" stroke-width="0.5"/>
<line x1="124.42" y1="223.65" x2="124.42" y2="222.55" stroke="#4a4a4a" stroke-width="0.5"/>
<line x1="127.84" y1="223.65" x2="127.84" y2="222.55" stroke="#4a4a4a" stroke-width="0.5"/>
<line x1="131.26" y1="223.65" x2="131.26" y2="222.55" stroke="#4a4a4a" stroke-width="0.5"/>
<line x1="134.68" y1="223.65" x2="134.68" y2="222.55" stroke="#4a4a4a" stroke-width="0.5"/>
<line x1="141.52" y1="223.65" x2="141.52" y2="222.55" stroke="#4a4a4a" stroke-width="0.5"/>
<line x1="144.94" y1="223.65" x2="144.94" y2="222.55" stroke="#4a4a4a" stroke-width="0.5"/>
<line x1="148.36" y1="223.65" x2="148.36" y2="222.55" stroke="#4a4a4a" stroke-width="0.5"/>
<line x1="151.78" y1="223.65" x2="151.78" y2="222.55" stroke="#4a4a4a" stroke-width="0.5"/>
<line x1="52.60" y1="223.65" x2="52.60" y2="222.05" stroke="#4a4a4a" stroke-width="0.55"/>
<text transform="translate(52.60,228.75) scale(1,1.15)" class="xl" text-anchor="middle">1</text>
<line x1="69.70" y1="223.65" x2="69.70" y2="222.05" stroke="#4a4a4a" stroke-width="0.55"/>
<text transform="translate(69.70,228.75) scale(1,1.15)" class="xl" text-anchor="middle">2</text>
<line x1="86.80" y1="223.65" x2="86.80" y2="222.05" stroke="#4a4a4a" stroke-width="0.55"/>
<text transform="translate(86.80,228.75) scale(1,1.15)" class="xl" text-anchor="middle">3</text>
<line x1="103.90" y1="223.65" x2="103.90" y2="222.05" stroke="#4a4a4a" stroke-width="0.55"/>
<text transform="translate(103.90,228.75) scale(1,1.15)" class="xl" text-anchor="middle">4</text>
<line x1="121.00" y1="223.65" x2="121.00" y2="222.05" stroke="#4a4a4a" stroke-width="0.55"/>
<text transform="translate(121.00,228.75) scale(1,1.15)" class="xl" text-anchor="middle">5</text>
<line x1="138.10" y1="223.65" x2="138.10" y2="222.05" stroke="#4a4a4a" stroke-width="0.55"/>
<text transform="translate(138.10,228.75) scale(1,1.15)" class="xl" text-anchor="middle">6</text>
<line x1="155.20" y1="223.65" x2="155.20" y2="222.05" stroke="#4a4a4a" stroke-width="0.55"/>
<text transform="translate(155.20,228.75) scale(1,1.15)" class="xl" text-anchor="middle">7</text>
<rect x="158.80" y="210.55" width="23.10" height="60.70" fill="#ffffff"/>
<g clip-path="url(#lc7)">
<line x1="161.00" y1="218.75" x2="173.40" y2="218.75" stroke="#4a4a4a" stroke-width="0.80"/>
<text x="175.60" y="220.65" class="lg">C</text>
<line x1="161.00" y1="233.47" x2="173.40" y2="233.47" stroke="#ff8c8c" stroke-width="1.10"/>
<text x="175.60" y="235.37" class="lg">Si</text>
<line x1="161.00" y1="248.19" x2="173.40" y2="248.19" stroke="#4aa64a" stroke-width="0.80"/>
<text x="175.60" y="250.09" class="lg">Ge</text>
<line x1="161.00" y1="262.91" x2="173.40" y2="262.91" stroke="#7474ff" stroke-width="0.95"/>
<text x="175.60" y="264.81" class="lg">Sn</text>
</g>
<rect x="158.80" y="210.55" width="23.10" height="60.70" rx="0.9" fill="none" stroke="#8c8c8c" stroke-width="1.0"/>
<text x="27.60" y="207.40" class="tt">&#946;<tspan class="sb" dy="0.25">0</tspan><tspan dy="-0.25" dx="0.70" class="mn">&#8722;</tspan><tspan dx="0.70">&#946;</tspan><tspan class="sb" dy="0.25">D</tspan></text>
<path d="M35.5,240.0 36.2,237.0 37.0,234.1 37.7,231.3 38.5,228.7 39.2,226.5 40.0,224.6 40.7,222.9 41.5,221.5 42.2,220.3 43.0,219.3 43.7,218.6 44.5,218.1 45.2,217.8 46.0,217.7 46.7,217.7 47.5,217.9 48.2,218.4 49.0,218.9 49.7,219.6 50.5,220.4 51.2,221.3 52.0,222.4 52.7,223.5 53.5,224.8 54.2,226.0 55.0,227.3 55.7,228.6 56.5,229.9 57.2,231.2 58.0,232.5 58.7,233.8 59.5,235.2 60.2,236.5 61.0,237.9 61.7,239.3 62.5,240.7 63.2,242.1 64.0,243.5 64.7,245.0 65.5,246.4 66.2,247.9 67.0,249.3 67.7,250.8 68.5,252.3 69.2,253.8 70.0,255.3 70.7,256.8 71.5,258.3 72.2,259.8 73.0,261.3 73.7,262.8 74.5,264.2 75.2,265.4 76.0,266.7 76.7,267.8 77.5,268.9 78.2,269.9 79.0,270.7 79.7,271.5 80.5,272.2 81.2,272.8 82.0,273.3 82.7,273.8 83.5,274.2 84.2,274.6 85.0,274.9 85.7,275.2 86.5,275.5 87.2,275.7 88.0,275.8 88.7,275.9 89.5,276.0 90.2,276.1 91.0,276.2 91.7,276.3 92.5,276.3 93.2,276.4 94.0,276.4 94.7,276.4 95.5,276.4 96.2,276.3 96.9,276.3 97.7,276.2 98.4,276.2 99.2,276.1 99.9,276.0 100.7,275.9 101.4,275.8 102.2,275.7 102.9,275.6 103.7,275.5 104.4,275.4 105.2,275.3 105.9,275.2 106.7,275.1 107.4,275.0 108.2,274.9 108.9,274.8 109.7,274.7 110.4,274.5 111.2,274.4 111.9,274.3 112.7,274.2 113.4,274.2 114.2,274.1 114.9,274.1 115.7,274.1 116.4,274.2 117.2,274.3 117.9,274.4 118.7,274.4 119.4,274.5 120.2,274.6 120.9,274.7 121.7,274.8 122.4,274.9 123.2,275.0 123.9,275.1 124.7,275.2 125.4,275.3 126.2,275.4 126.9,275.5 127.7,275.6 128.4,275.6 129.2,275.6 129.9,275.6 130.7,275.6 131.4,275.5 132.2,275.5 132.9,275.5 133.7,275.4 134.4,275.3 135.2,275.0 135.9,274.7 136.7,274.3 137.4,273.8 138.2,273.3 138.9,272.7 139.7,272.0 140.4,271.2 141.2,270.3 141.9,269.3 142.7,268.2 143.4,266.9 144.2,265.4 144.9,263.7 145.7,261.8 146.4,259.7 147.2,257.1 147.9,254.3 148.7,251.3 149.4,248.3 150.2,245.2 150.9,241.9 151.7,238.5 152.4,234.9 153.2,230.9 153.9,226.6 154.7,222.0 155.4,217.2 155.9,213.9" fill="none" stroke="#000000" stroke-width="1.40" stroke-linejoin="round" stroke-linecap="butt"/>
<path d="M35.5,244.1 36.2,240.0 37.0,236.1 37.7,232.7 38.5,229.8 39.2,227.3 40.0,225.2 40.7,223.3 41.5,221.8 42.2,220.4 43.0,219.4 43.7,218.6 44.5,218.0 45.2,217.7 46.0,217.6 46.7,217.6 47.5,217.8 48.2,218.3 49.0,218.9 49.7,219.5 50.5,220.3 51.2,221.3 52.0,222.3 52.7,223.6 53.5,224.9 54.2,226.2 55.0,227.5 55.7,228.8 56.5,230.2 57.2,231.5 58.0,232.9 58.7,234.4 59.5,235.9 60.2,237.4 61.0,239.0 61.7,240.6 62.5,242.2 63.2,243.9 64.0,245.6 64.7,247.3 65.5,249.1 66.2,250.9 67.0,252.7 67.7,254.6 68.5,256.5 69.2,258.4 70.0,260.3 70.7,262.2 71.5,264.2 72.2,266.2 73.0,268.1 73.7,269.9 74.5,271.5 75.2,272.9 76.0,274.2 76.7,275.4 77.5,276.6 78.2,277.8 79.0,278.9 79.7,280.0 80.5,280.9 81.2,281.6 82.0,282.2 82.7,282.8 83.5,283.3 84.2,283.7 85.0,284.1 85.7,284.4 86.5,284.7 87.2,284.9 88.0,285.1 88.7,285.3 89.5,285.4 90.2,285.5 91.0,285.6 91.7,285.6 92.5,285.6 93.2,285.6 94.0,285.6 94.7,285.6 95.5,285.6 96.2,285.6 96.9,285.6 97.7,285.6 98.4,285.5 99.2,285.4 99.9,285.3 100.7,285.2 101.4,285.1 102.2,285.0 102.9,284.9 103.7,284.8 104.4,284.6 105.2,284.5 105.9,284.3 106.7,284.1 107.4,283.9 108.2,283.7 108.9,283.5 109.7,283.4 110.4,283.2 111.2,283.1 111.9,282.9 112.7,282.8 113.4,282.7 114.2,282.6 114.9,282.6 115.7,282.7 116.4,282.7 117.2,282.8 117.9,282.9 118.7,283.0 119.4,283.2 120.2,283.3 120.9,283.4 121.7,283.5 122.4,283.7 123.2,283.8 123.9,283.9 124.7,284.1 125.4,284.2 126.2,284.3 126.9,284.4 127.7,284.5 128.4,284.5 129.2,284.5 129.9,284.5 130.7,284.4 131.4,284.3 132.2,284.3 132.9,284.2 133.7,284.0 134.4,283.8 135.2,283.5 135.9,283.0 136.7,282.5 137.4,281.8 138.2,281.1 138.9,280.2 139.7,279.3 140.4,278.2 141.2,276.9 141.9,275.6 142.7,274.1 143.4,272.3 144.2,270.4 144.9,268.3 145.7,266.0 146.4,263.3 147.2,260.3 147.9,257.0 148.7,253.6 149.4,250.2 150.2,246.8 150.9,243.3 151.7,239.7 152.4,235.7 153.2,231.5 153.9,226.9 154.7,222.2 155.4,217.3 155.9,214.0" fill="none" stroke="#ff1010" stroke-width="1.40" stroke-linejoin="round" stroke-linecap="butt"/>
<path d="M35.5,245.6 36.2,241.2 37.0,237.1 37.7,233.4 38.5,230.3 39.2,227.7 40.0,225.5 40.7,223.5 41.5,221.9 42.2,220.5 43.0,219.4 43.7,218.6 44.5,218.0 45.2,217.7 46.0,217.5 46.7,217.6 47.5,217.8 48.2,218.3 49.0,218.9 49.7,219.5 50.5,220.3 51.2,221.3 52.0,222.4 52.7,223.6 53.5,225.0 54.2,226.3 55.0,227.7 55.7,229.1 56.5,230.5 57.2,231.9 58.0,233.4 58.7,234.9 59.5,236.4 60.2,238.0 61.0,239.6 61.7,241.3 62.5,242.9 63.2,244.7 64.0,246.4 64.7,248.2 65.5,250.0 66.2,251.8 67.0,253.7 67.7,255.7 68.5,257.6 69.2,259.7 70.0,261.7 70.7,263.8 71.5,265.8 72.2,267.9 73.0,269.8 73.7,271.6 74.5,273.1 75.2,274.6 76.0,276.0 76.7,277.2 77.5,278.4 78.2,279.6 79.0,280.6 79.7,281.6 80.5,282.4 81.2,283.1 82.0,283.7 82.7,284.2 83.5,284.7 84.2,285.1 85.0,285.5 85.7,285.8 86.5,286.1 87.2,286.3 88.0,286.5 88.7,286.7 89.5,286.8 90.2,286.9 91.0,287.0 91.7,287.0 92.5,287.0 93.2,287.0 94.0,287.0 94.7,287.0 95.5,287.0 96.2,287.0 96.9,287.0 97.7,287.0 98.4,286.9 99.2,286.8 99.9,286.8 100.7,286.7 101.4,286.6 102.2,286.5 102.9,286.4 103.7,286.3 104.4,286.1 105.2,286.0 105.9,285.8 106.7,285.7 107.4,285.5 108.2,285.3 108.9,285.2 109.7,285.0 110.4,284.9 111.2,284.8 111.9,284.6 112.7,284.6 113.4,284.5 114.2,284.4 114.9,284.4 115.7,284.5 116.4,284.5 117.2,284.7 117.9,284.8 118.7,284.9 119.4,285.0 120.2,285.2 120.9,285.3 121.7,285.4 122.4,285.5 123.2,285.7 123.9,285.8 124.7,285.9 125.4,286.0 126.2,286.1 126.9,286.2 127.7,286.3 128.4,286.3 129.2,286.3 129.9,286.2 130.7,286.2 131.4,286.1 132.2,286.0 132.9,285.8 133.7,285.6 134.4,285.4 135.2,285.0 135.9,284.6 136.7,284.0 137.4,283.3 138.2,282.6 138.9,281.7 139.7,280.7 140.4,279.5 141.2,278.2 141.9,276.8 142.7,275.2 143.4,273.5 144.2,271.5 144.9,269.4 145.7,267.0 146.4,264.2 147.2,261.2 147.9,257.8 148.7,254.3 149.4,250.8 150.2,247.3 150.9,243.7 151.7,240.0 152.4,236.0 153.2,231.7 153.9,227.1 154.7,222.3 155.4,217.3 155.9,214.0" fill="none" stroke="#108a10" stroke-width="1.40" stroke-linejoin="round" stroke-linecap="butt"/>
<path d="M35.5,247.0 36.3,242.5 37.0,238.2 37.8,234.3 38.5,230.9 39.3,228.0 40.0,225.7 40.8,223.7 41.5,222.0 42.3,220.6 43.0,219.4 43.8,218.5 44.5,217.9 45.3,217.6 46.0,217.4 46.8,217.5 47.5,217.8 48.3,218.2 49.0,218.8 49.8,219.5 50.5,220.3 51.3,221.3 52.0,222.4 52.8,223.7 53.5,225.0 54.3,226.5 55.0,227.9 55.8,229.4 56.5,230.9 57.3,232.4 58.0,234.0 58.8,235.6 59.5,237.2 60.3,238.8 61.0,240.5 61.8,242.2 62.5,243.9 63.3,245.7 64.0,247.5 64.8,249.3 65.5,251.2 66.3,253.1 67.0,255.1 67.8,257.2 68.5,259.3 69.3,261.5 70.0,263.6 70.8,265.8 71.5,267.9 72.3,270.0 73.0,271.8 73.8,273.5 74.5,275.1 75.3,276.6 76.0,278.0 76.8,279.2 77.5,280.4 78.3,281.5 79.0,282.5 79.8,283.4 80.5,284.2 81.3,284.9 82.0,285.4 82.8,286.0 83.5,286.4 84.3,286.8 85.0,287.2 85.8,287.5 86.5,287.8 87.3,288.1 88.0,288.3 88.8,288.6 89.5,288.7 90.3,288.9 91.0,289.0 91.8,289.0 92.5,289.0 93.3,289.0 94.0,289.0 94.8,289.0 95.5,289.0 96.3,289.0 97.1,289.0 97.8,289.0 98.6,288.9 99.3,288.9 100.1,288.8 100.8,288.7 101.6,288.6 102.3,288.5 103.1,288.5 103.8,288.3 104.6,288.2 105.3,288.1 106.1,287.9 106.8,287.8 107.6,287.6 108.3,287.4 109.1,287.2 109.8,287.1 110.6,287.0 111.3,286.8 112.1,286.7 112.8,286.6 113.6,286.6 114.3,286.5 115.1,286.5 115.8,286.6 116.6,286.6 117.3,286.7 118.1,286.8 118.8,287.0 119.6,287.1 120.3,287.2 121.1,287.3 121.8,287.5 122.6,287.6 123.3,287.7 124.1,287.9 124.8,288.0 125.6,288.2 126.3,288.3 127.1,288.4 127.8,288.5 128.6,288.5 129.3,288.5 130.1,288.4 130.8,288.3 131.6,288.2 132.3,288.1 133.1,287.9 133.8,287.7 134.6,287.4 135.3,287.0 136.1,286.4 136.8,285.7 137.6,285.0 138.3,284.2 139.1,283.2 139.8,282.2 140.6,281.0 141.3,279.7 142.1,278.2 142.8,276.6 143.6,274.7 144.3,272.7 145.1,270.4 145.8,267.8 146.6,264.9 147.3,261.6 148.1,258.0 148.8,254.3 149.6,250.7 150.3,247.2 151.1,243.6 151.8,239.7 152.6,235.5 153.3,231.0 154.1,226.3 154.8,221.5 155.6,216.8 156.1,213.6" fill="none" stroke="#1010ff" stroke-width="1.40" stroke-linejoin="round" stroke-linecap="butt"/>
<line x1="217.60" y1="212.80" x2="217.60" y2="291.00" stroke="#747474" stroke-width="0.75"/>
<line x1="217.40" y1="212.80" x2="218.50" y2="212.80" stroke="#4a4a4a" stroke-width="0.5"/>
<line x1="217.40" y1="214.76" x2="218.50" y2="214.76" stroke="#4a4a4a" stroke-width="0.5"/>
<line x1="217.40" y1="216.72" x2="218.50" y2="216.72" stroke="#4a4a4a" stroke-width="0.5"/>
<line x1="217.40" y1="218.68" x2="218.50" y2="218.68" stroke="#4a4a4a" stroke-width="0.5"/>
<line x1="217.40" y1="220.64" x2="218.50" y2="220.64" stroke="#4a4a4a" stroke-width="0.5"/>
<line x1="217.40" y1="222.60" x2="218.50" y2="222.60" stroke="#4a4a4a" stroke-width="0.5"/>
<line x1="217.40" y1="224.56" x2="218.50" y2="224.56" stroke="#4a4a4a" stroke-width="0.5"/>
<line x1="217.40" y1="226.52" x2="218.50" y2="226.52" stroke="#4a4a4a" stroke-width="0.5"/>
<line x1="217.40" y1="228.48" x2="218.50" y2="228.48" stroke="#4a4a4a" stroke-width="0.5"/>
<line x1="217.40" y1="230.44" x2="218.50" y2="230.44" stroke="#4a4a4a" stroke-width="0.5"/>
<line x1="217.40" y1="232.40" x2="218.50" y2="232.40" stroke="#4a4a4a" stroke-width="0.5"/>
<line x1="217.40" y1="234.36" x2="218.50" y2="234.36" stroke="#4a4a4a" stroke-width="0.5"/>
<line x1="217.40" y1="236.32" x2="218.50" y2="236.32" stroke="#4a4a4a" stroke-width="0.5"/>
<line x1="217.40" y1="238.28" x2="218.50" y2="238.28" stroke="#4a4a4a" stroke-width="0.5"/>
<line x1="217.40" y1="240.24" x2="218.50" y2="240.24" stroke="#4a4a4a" stroke-width="0.5"/>
<line x1="217.40" y1="242.20" x2="218.50" y2="242.20" stroke="#4a4a4a" stroke-width="0.5"/>
<line x1="217.40" y1="244.16" x2="218.50" y2="244.16" stroke="#4a4a4a" stroke-width="0.5"/>
<line x1="217.40" y1="246.12" x2="218.50" y2="246.12" stroke="#4a4a4a" stroke-width="0.5"/>
<line x1="217.40" y1="248.08" x2="218.50" y2="248.08" stroke="#4a4a4a" stroke-width="0.5"/>
<line x1="217.40" y1="250.04" x2="218.50" y2="250.04" stroke="#4a4a4a" stroke-width="0.5"/>
<line x1="217.40" y1="252.00" x2="218.50" y2="252.00" stroke="#4a4a4a" stroke-width="0.5"/>
<line x1="217.40" y1="253.96" x2="218.50" y2="253.96" stroke="#4a4a4a" stroke-width="0.5"/>
<line x1="217.40" y1="255.92" x2="218.50" y2="255.92" stroke="#4a4a4a" stroke-width="0.5"/>
<line x1="217.40" y1="257.88" x2="218.50" y2="257.88" stroke="#4a4a4a" stroke-width="0.5"/>
<line x1="217.40" y1="259.84" x2="218.50" y2="259.84" stroke="#4a4a4a" stroke-width="0.5"/>
<line x1="217.40" y1="261.80" x2="218.50" y2="261.80" stroke="#4a4a4a" stroke-width="0.5"/>
<line x1="217.40" y1="263.76" x2="218.50" y2="263.76" stroke="#4a4a4a" stroke-width="0.5"/>
<line x1="217.40" y1="265.72" x2="218.50" y2="265.72" stroke="#4a4a4a" stroke-width="0.5"/>
<line x1="217.40" y1="267.68" x2="218.50" y2="267.68" stroke="#4a4a4a" stroke-width="0.5"/>
<line x1="217.40" y1="269.64" x2="218.50" y2="269.64" stroke="#4a4a4a" stroke-width="0.5"/>
<line x1="217.40" y1="271.60" x2="218.50" y2="271.60" stroke="#4a4a4a" stroke-width="0.5"/>
<line x1="217.40" y1="273.56" x2="218.50" y2="273.56" stroke="#4a4a4a" stroke-width="0.5"/>
<line x1="217.40" y1="275.52" x2="218.50" y2="275.52" stroke="#4a4a4a" stroke-width="0.5"/>
<line x1="217.40" y1="277.48" x2="218.50" y2="277.48" stroke="#4a4a4a" stroke-width="0.5"/>
<line x1="217.40" y1="279.44" x2="218.50" y2="279.44" stroke="#4a4a4a" stroke-width="0.5"/>
<line x1="217.40" y1="281.40" x2="218.50" y2="281.40" stroke="#4a4a4a" stroke-width="0.5"/>
<line x1="217.40" y1="283.36" x2="218.50" y2="283.36" stroke="#4a4a4a" stroke-width="0.5"/>
<line x1="217.40" y1="285.32" x2="218.50" y2="285.32" stroke="#4a4a4a" stroke-width="0.5"/>
<line x1="217.40" y1="287.28" x2="218.50" y2="287.28" stroke="#4a4a4a" stroke-width="0.5"/>
<line x1="217.40" y1="289.24" x2="218.50" y2="289.24" stroke="#4a4a4a" stroke-width="0.5"/>
<line x1="217.40" y1="214.60" x2="219.00" y2="214.60" stroke="#4a4a4a" stroke-width="0.55"/>
<text transform="translate(215.70,216.80) scale(1,1.18)" class="tl" text-anchor="end">2.5&#215;10<tspan dy="-1.4" font-size="2.7">-8</tspan></text>
<line x1="217.40" y1="234.20" x2="219.00" y2="234.20" stroke="#4a4a4a" stroke-width="0.55"/>
<text transform="translate(215.70,236.40) scale(1,1.18)" class="tl" text-anchor="end">-2.5&#215;10<tspan dy="-1.4" font-size="2.7">-8</tspan></text>
<line x1="217.40" y1="243.90" x2="219.00" y2="243.90" stroke="#4a4a4a" stroke-width="0.55"/>
<text transform="translate(215.70,246.10) scale(1,1.18)" class="tl" text-anchor="end">-5&#215;10<tspan dy="-1.4" font-size="2.7">-8</tspan></text>
<line x1="217.40" y1="253.60" x2="219.00" y2="253.60" stroke="#4a4a4a" stroke-width="0.55"/>
<text transform="translate(215.70,255.80) scale(1,1.18)" class="tl" text-anchor="end">-7.5&#215;10<tspan dy="-1.4" font-size="2.7">-8</tspan></text>
<line x1="217.40" y1="263.40" x2="219.00" y2="263.40" stroke="#4a4a4a" stroke-width="0.55"/>
<text transform="translate(215.70,265.60) scale(1,1.18)" class="tl" text-anchor="end">-1&#215;10<tspan dy="-1.4" font-size="2.7">-7</tspan></text>
<line x1="217.40" y1="273.20" x2="219.00" y2="273.20" stroke="#4a4a4a" stroke-width="0.55"/>
<text transform="translate(215.70,275.40) scale(1,1.18)" class="tl" text-anchor="end">-1.25&#215;10<tspan dy="-1.4" font-size="2.7">-7</tspan></text>
<line x1="217.40" y1="283.00" x2="219.00" y2="283.00" stroke="#4a4a4a" stroke-width="0.55"/>
<text transform="translate(215.70,285.20) scale(1,1.18)" class="tl" text-anchor="end">-1.5&#215;10<tspan dy="-1.4" font-size="2.7">-7</tspan></text>
<line x1="214.60" y1="223.90" x2="338.80" y2="223.90" stroke="#747474" stroke-width="0.75"/>
<line x1="221.00" y1="224.10" x2="221.00" y2="223.00" stroke="#4a4a4a" stroke-width="0.5"/>
<line x1="224.40" y1="224.10" x2="224.40" y2="223.00" stroke="#4a4a4a" stroke-width="0.5"/>
<line x1="227.80" y1="224.10" x2="227.80" y2="223.00" stroke="#4a4a4a" stroke-width="0.5"/>
<line x1="231.20" y1="224.10" x2="231.20" y2="223.00" stroke="#4a4a4a" stroke-width="0.5"/>
<line x1="238.00" y1="224.10" x2="238.00" y2="223.00" stroke="#4a4a4a" stroke-width="0.5"/>
<line x1="241.40" y1="224.10" x2="241.40" y2="223.00" stroke="#4a4a4a" stroke-width="0.5"/>
<line x1="244.80" y1="224.10" x2="244.80" y2="223.00" stroke="#4a4a4a" stroke-width="0.5"/>
<line x1="248.20" y1="224.10" x2="248.20" y2="223.00" stroke="#4a4a4a" stroke-width="0.5"/>
<line x1="255.00" y1="224.10" x2="255.00" y2="223.00" stroke="#4a4a4a" stroke-width="0.5"/>
<line x1="258.40" y1="224.10" x2="258.40" y2="223.00" stroke="#4a4a4a" stroke-width="0.5"/>
<line x1="261.80" y1="224.10" x2="261.80" y2="223.00" stroke="#4a4a4a" stroke-width="0.5"/>
<line x1="265.20" y1="224.10" x2="265.20" y2="223.00" stroke="#4a4a4a" stroke-width="0.5"/>
<line x1="272.00" y1="224.10" x2="272.00" y2="223.00" stroke="#4a4a4a" stroke-width="0.5"/>
<line x1="275.40" y1="224.10" x2="275.40" y2="223.00" stroke="#4a4a4a" stroke-width="0.5"/>
<line x1="278.80" y1="224.10" x2="278.80" y2="223.00" stroke="#4a4a4a" stroke-width="0.5"/>
<line x1="282.20" y1="224.10" x2="282.20" y2="223.00" stroke="#4a4a4a" stroke-width="0.5"/>
<line x1="289.00" y1="224.10" x2="289.00" y2="223.00" stroke="#4a4a4a" stroke-width="0.5"/>
<line x1="292.40" y1="224.10" x2="292.40" y2="223.00" stroke="#4a4a4a" stroke-width="0.5"/>
<line x1="295.80" y1="224.10" x2="295.80" y2="223.00" stroke="#4a4a4a" stroke-width="0.5"/>
<line x1="299.20" y1="224.10" x2="299.20" y2="223.00" stroke="#4a4a4a" stroke-width="0.5"/>
<line x1="306.00" y1="224.10" x2="306.00" y2="223.00" stroke="#4a4a4a" stroke-width="0.5"/>
<line x1="309.40" y1="224.10" x2="309.40" y2="223.00" stroke="#4a4a4a" stroke-width="0.5"/>
<line x1="312.80" y1="224.10" x2="312.80" y2="223.00" stroke="#4a4a4a" stroke-width="0.5"/>
<line x1="316.20" y1="224.10" x2="316.20" y2="223.00" stroke="#4a4a4a" stroke-width="0.5"/>
<line x1="323.00" y1="224.10" x2="323.00" y2="223.00" stroke="#4a4a4a" stroke-width="0.5"/>
<line x1="326.40" y1="224.10" x2="326.40" y2="223.00" stroke="#4a4a4a" stroke-width="0.5"/>
<line x1="329.80" y1="224.10" x2="329.80" y2="223.00" stroke="#4a4a4a" stroke-width="0.5"/>
<line x1="333.20" y1="224.10" x2="333.20" y2="223.00" stroke="#4a4a4a" stroke-width="0.5"/>
<line x1="234.60" y1="224.10" x2="234.60" y2="222.50" stroke="#4a4a4a" stroke-width="0.55"/>
<text transform="translate(234.60,229.20) scale(1,1.15)" class="xl" text-anchor="middle">1</text>
<line x1="251.60" y1="224.10" x2="251.60" y2="222.50" stroke="#4a4a4a" stroke-width="0.55"/>
<text transform="translate(251.60,229.20) scale(1,1.15)" class="xl" text-anchor="middle">2</text>
<line x1="268.60" y1="224.10" x2="268.60" y2="222.50" stroke="#4a4a4a" stroke-width="0.55"/>
<text transform="translate(268.60,229.20) scale(1,1.15)" class="xl" text-anchor="middle">3</text>
<line x1="285.60" y1="224.10" x2="285.60" y2="222.50" stroke="#4a4a4a" stroke-width="0.55"/>
<text transform="translate(285.60,229.20) scale(1,1.15)" class="xl" text-anchor="middle">4</text>
<line x1="302.60" y1="224.10" x2="302.60" y2="222.50" stroke="#4a4a4a" stroke-width="0.55"/>
<text transform="translate(302.60,229.20) scale(1,1.15)" class="xl" text-anchor="middle">5</text>
<line x1="319.60" y1="224.10" x2="319.60" y2="222.50" stroke="#4a4a4a" stroke-width="0.55"/>
<text transform="translate(319.60,229.20) scale(1,1.15)" class="xl" text-anchor="middle">6</text>
<line x1="336.60" y1="224.10" x2="336.60" y2="222.50" stroke="#4a4a4a" stroke-width="0.55"/>
<text transform="translate(336.60,229.20) scale(1,1.15)" class="xl" text-anchor="middle">7</text>
<rect x="338.80" y="210.55" width="23.10" height="60.70" fill="#ffffff"/>
<g clip-path="url(#lc8)">
<line x1="341.00" y1="218.75" x2="353.40" y2="218.75" stroke="#4a4a4a" stroke-width="0.80"/>
<text x="355.60" y="220.65" class="lg">C</text>
<line x1="341.00" y1="233.47" x2="353.40" y2="233.47" stroke="#ff8c8c" stroke-width="1.10"/>
<text x="355.60" y="235.37" class="lg">Si</text>
<line x1="341.00" y1="248.19" x2="353.40" y2="248.19" stroke="#4aa64a" stroke-width="0.80"/>
<text x="355.60" y="250.09" class="lg">Ge</text>
<line x1="341.00" y1="262.91" x2="353.40" y2="262.91" stroke="#7474ff" stroke-width="0.95"/>
<text x="355.60" y="264.81" class="lg">Sn</text>
</g>
<rect x="338.80" y="210.55" width="23.10" height="60.70" rx="0.9" fill="none" stroke="#8c8c8c" stroke-width="1.0"/>
<text x="205.80" y="208.10" class="tt">&#946;<tspan class="sb" dy="0.25">CRIT</tspan><tspan dy="-0.25" dx="1.10" class="mn">&#8722;</tspan><tspan dx="1.10">&#946;</tspan><tspan class="sb" dy="0.25">0</tspan></text>
<path d="M217.6,239.8 218.3,236.8 219.1,233.8 219.8,231.0 220.6,228.5 221.3,226.3 222.1,224.4 222.8,222.7 223.6,221.2 224.3,220.0 225.1,219.1 225.8,218.4 226.6,217.9 227.3,217.6 228.1,217.4 228.8,217.5 229.6,217.8 230.3,218.2 231.1,218.8 231.8,219.5 232.6,220.3 233.3,221.3 234.1,222.3 234.8,223.5 235.6,224.8 236.3,226.0 237.1,227.3 237.8,228.6 238.6,229.9 239.3,231.2 240.1,232.5 240.8,233.9 241.6,235.2 242.3,236.6 243.1,238.0 243.8,239.4 244.6,240.8 245.3,242.2 246.1,243.6 246.8,245.0 247.6,246.4 248.3,247.7 249.1,249.1 249.8,250.4 250.6,251.8 251.3,253.1 252.1,254.4 252.8,255.7 253.6,257.0 254.3,258.3 255.1,259.6 255.8,260.8 256.6,262.0 257.3,263.2 258.1,264.4 258.8,265.5 259.6,266.6 260.3,267.7 261.1,268.7 261.8,269.7 262.6,270.6 263.3,271.5 264.1,272.3 264.8,273.0 265.6,273.6 266.3,274.1 267.1,274.5 267.8,274.9 268.6,275.2 269.3,275.5 270.1,275.6 270.8,275.8 271.6,275.9 272.3,276.0 273.1,276.0 273.8,276.1 274.6,276.1 275.3,276.2 276.1,276.2 276.8,276.2 277.6,276.2 278.3,276.1 279.1,276.1 279.8,276.0 280.6,275.9 281.3,275.8 282.1,275.8 282.8,275.7 283.6,275.6 284.3,275.5 285.1,275.4 285.8,275.3 286.6,275.2 287.3,275.1 288.1,275.0 288.8,274.8 289.6,274.7 290.3,274.6 291.1,274.5 291.8,274.4 292.6,274.3 293.3,274.1 294.1,274.0 294.8,274.0 295.6,273.9 296.3,273.9 297.1,273.9 297.8,274.0 298.6,274.0 299.3,274.1 300.1,274.2 300.8,274.3 301.6,274.4 302.3,274.5 303.1,274.6 303.8,274.7 304.6,274.8 305.3,274.9 306.1,275.0 306.8,275.1 307.6,275.2 308.3,275.3 309.1,275.4 309.8,275.4 310.6,275.4 311.3,275.4 312.1,275.4 312.8,275.3 313.6,275.3 314.3,275.3 315.1,275.2 315.8,275.1 316.6,274.9 317.3,274.6 318.1,274.1 318.8,273.7 319.6,273.1 320.3,272.5 321.1,271.9 321.8,271.1 322.6,270.2 323.3,269.3 324.1,268.1 324.8,266.9 325.6,265.4 326.3,263.7 327.1,261.8 327.8,259.6 328.5,257.1 329.3,254.3 330.0,251.3 330.8,248.2 331.5,245.1 332.3,241.9 333.0,238.5 333.8,234.8 334.5,230.8 335.3,226.4 336.0,221.9 336.8,217.1 337.3,213.7" fill="none" stroke="#000000" stroke-width="1.40" stroke-linejoin="round" stroke-linecap="butt"/>
<path d="M217.6,243.9 218.3,239.8 219.1,235.9 219.8,232.5 220.6,229.5 221.3,227.0 222.1,224.9 222.8,223.1 223.6,221.5 224.3,220.2 225.1,219.1 225.8,218.3 226.6,217.8 227.3,217.5 228.1,217.3 228.8,217.4 229.6,217.7 230.3,218.2 231.1,218.8 231.8,219.4 232.6,220.2 233.3,221.2 234.1,222.3 234.8,223.5 235.6,224.9 236.3,226.2 237.1,227.5 237.8,228.9 238.6,230.2 239.3,231.6 240.1,233.0 240.8,234.5 241.6,236.0 242.3,237.5 243.1,239.1 243.8,240.8 244.6,242.4 245.3,244.1 246.1,245.8 246.8,247.6 247.6,249.4 248.3,251.2 249.1,253.0 249.8,254.9 250.6,256.8 251.3,258.7 252.1,260.7 252.8,262.6 253.6,264.6 254.3,266.6 255.1,268.5 255.8,270.2 256.6,271.8 257.3,273.1 258.1,274.4 258.8,275.7 259.6,276.8 260.3,278.0 261.1,279.1 261.8,280.1 262.6,281.0 263.3,281.7 264.1,282.3 264.8,282.8 265.6,283.3 266.3,283.7 267.1,284.0 267.8,284.3 268.6,284.6 269.3,284.8 270.1,285.0 270.8,285.1 271.6,285.2 272.3,285.3 273.1,285.4 273.8,285.4 274.6,285.4 275.3,285.4 276.1,285.4 276.8,285.4 277.6,285.4 278.3,285.4 279.1,285.4 279.8,285.3 280.6,285.3 281.3,285.2 282.1,285.1 282.8,285.0 283.6,284.9 284.3,284.7 285.1,284.6 285.8,284.5 286.6,284.3 287.3,284.2 288.1,284.0 288.8,283.8 289.6,283.6 290.3,283.4 291.1,283.2 291.8,283.1 292.6,282.9 293.3,282.8 294.1,282.6 294.8,282.5 295.6,282.5 296.3,282.4 297.1,282.4 297.8,282.5 298.6,282.6 299.3,282.7 300.1,282.8 300.8,282.9 301.6,283.1 302.3,283.2 303.1,283.3 303.8,283.4 304.6,283.5 305.3,283.7 306.1,283.8 306.8,284.0 307.6,284.1 308.3,284.2 309.1,284.2 309.8,284.3 310.6,284.3 311.3,284.3 312.1,284.2 312.8,284.2 313.6,284.1 314.3,284.0 315.1,283.8 315.8,283.7 316.6,283.4 317.3,282.9 318.1,282.4 318.8,281.7 319.6,281.0 320.3,280.2 321.1,279.2 321.8,278.1 322.6,276.9 323.3,275.5 324.1,274.0 324.8,272.3 325.6,270.4 326.3,268.3 327.1,266.0 327.8,263.3 328.5,260.3 329.3,257.0 330.0,253.6 330.8,250.2 331.5,246.8 332.3,243.3 333.0,239.6 333.8,235.6 334.5,231.4 335.3,226.8 336.0,222.0 336.8,217.1 337.3,213.8" fill="none" stroke="#ff1010" stroke-width="1.40" stroke-linejoin="round" stroke-linecap="butt"/>
<path d="M217.6,245.4 218.3,240.9 219.1,236.8 219.8,233.2 220.6,230.1 221.3,227.4 222.1,225.2 222.8,223.3 223.6,221.6 224.3,220.2 225.1,219.1 225.8,218.3 226.6,217.8 227.3,217.5 228.1,217.3 228.8,217.4 229.6,217.7 230.3,218.2 231.1,218.7 231.8,219.4 232.6,220.2 233.3,221.2 234.1,222.3 234.8,223.6 235.6,225.0 236.3,226.3 237.1,227.7 237.8,229.1 238.6,230.5 239.3,232.0 240.1,233.5 240.8,235.0 241.6,236.5 242.3,238.1 243.1,239.8 243.8,241.4 244.6,243.1 245.3,244.9 246.1,246.6 246.8,248.4 247.6,250.3 248.3,252.1 249.1,254.0 249.8,256.0 250.6,258.0 251.3,260.0 252.1,262.1 252.8,264.2 253.6,266.3 254.3,268.3 255.1,270.2 255.8,271.9 256.6,273.4 257.3,274.9 258.1,276.2 258.8,277.5 259.6,278.6 260.3,279.7 261.1,280.8 261.8,281.7 262.6,282.5 263.3,283.1 264.1,283.7 264.8,284.2 265.6,284.7 266.3,285.1 267.1,285.4 267.8,285.7 268.6,286.0 269.3,286.2 270.1,286.4 270.8,286.5 271.6,286.6 272.3,286.7 273.1,286.8 273.8,286.8 274.6,286.8 275.3,286.8 276.1,286.8 276.8,286.8 277.6,286.8 278.3,286.8 279.1,286.8 279.8,286.7 280.6,286.7 281.3,286.6 282.1,286.5 282.8,286.4 283.6,286.3 284.3,286.2 285.1,286.1 285.8,286.0 286.6,285.9 287.3,285.7 288.1,285.5 288.8,285.4 289.6,285.2 290.3,285.0 291.1,284.9 291.8,284.7 292.6,284.6 293.3,284.5 294.1,284.4 294.8,284.3 295.6,284.2 296.3,284.2 297.1,284.3 297.8,284.3 298.6,284.4 299.3,284.5 300.1,284.7 300.8,284.8 301.6,284.9 302.3,285.1 303.1,285.2 303.8,285.3 304.6,285.4 305.3,285.6 306.1,285.7 306.8,285.8 307.6,285.9 308.3,286.0 309.1,286.0 309.8,286.1 310.6,286.1 311.3,286.0 312.1,286.0 312.8,285.9 313.6,285.8 314.3,285.6 315.1,285.5 315.8,285.2 316.6,284.9 317.3,284.5 318.1,283.9 318.8,283.2 319.6,282.5 320.3,281.6 321.1,280.6 321.8,279.5 322.6,278.2 323.3,276.8 324.1,275.2 324.8,273.5 325.6,271.5 326.3,269.4 327.1,267.0 327.8,264.3 328.5,261.2 329.3,257.8 330.0,254.3 330.8,250.8 331.5,247.3 332.3,243.7 333.0,239.9 333.8,235.9 334.5,231.6 335.3,226.9 336.0,222.1 336.8,217.1 337.3,213.8" fill="none" stroke="#108a10" stroke-width="1.40" stroke-linejoin="round" stroke-linecap="butt"/>
<path d="M217.6,246.8 218.3,242.3 219.1,238.0 219.8,234.0 220.6,230.6 221.3,227.8 222.1,225.4 222.8,223.4 223.6,221.7 224.3,220.3 225.1,219.1 225.8,218.3 226.6,217.7 227.3,217.4 228.1,217.2 228.8,217.3 229.6,217.6 230.3,218.1 231.1,218.7 231.8,219.4 232.6,220.2 233.3,221.2 234.1,222.3 234.8,223.6 235.6,225.0 236.3,226.4 237.1,227.9 237.8,229.4 238.6,230.9 239.3,232.4 240.1,234.0 240.8,235.6 241.6,237.2 242.3,238.8 243.1,240.5 243.8,242.2 244.6,244.0 245.3,245.7 246.1,247.6 246.8,249.4 247.6,251.3 248.3,253.3 249.1,255.3 249.8,257.4 250.6,259.5 251.3,261.7 252.1,263.9 252.8,266.0 253.6,268.2 254.3,270.2 255.1,272.0 255.8,273.7 256.6,275.3 257.3,276.7 258.1,278.1 258.8,279.3 259.6,280.5 260.3,281.6 261.1,282.5 261.8,283.4 262.6,284.2 263.3,284.8 264.1,285.4 264.8,285.9 265.6,286.3 266.3,286.7 267.1,287.1 267.8,287.4 268.6,287.7 269.3,288.0 270.1,288.2 270.8,288.4 271.6,288.6 272.3,288.7 273.1,288.8 273.8,288.8 274.5,288.8 275.3,288.8 276.0,288.8 276.8,288.8 277.5,288.8 278.3,288.8 279.0,288.8 279.8,288.8 280.5,288.7 281.3,288.6 282.0,288.6 282.8,288.5 283.5,288.4 284.3,288.3 285.0,288.2 285.8,288.1 286.5,288.0 287.3,287.8 288.0,287.7 288.8,287.5 289.5,287.3 290.3,287.1 291.0,287.0 291.8,286.8 292.5,286.7 293.3,286.6 294.0,286.5 294.8,286.4 295.5,286.3 296.3,286.3 297.0,286.3 297.8,286.4 298.5,286.5 299.3,286.6 300.0,286.7 300.8,286.8 301.5,286.9 302.3,287.1 303.0,287.2 303.8,287.3 304.5,287.5 305.3,287.6 306.0,287.8 306.8,287.9 307.5,288.0 308.3,288.2 309.0,288.2 309.8,288.3 310.5,288.3 311.3,288.2 312.0,288.2 312.8,288.1 313.5,287.9 314.3,287.8 315.0,287.6 315.8,287.3 316.5,287.0 317.3,286.5 318.0,285.8 318.8,285.1 319.5,284.3 320.3,283.5 321.0,282.5 321.8,281.3 322.5,280.0 323.3,278.6 324.0,277.1 324.8,275.3 325.5,273.3 326.3,271.1 327.0,268.7 327.8,265.9 328.5,262.7 329.3,259.2 330.0,255.5 330.8,251.9 331.5,248.3 332.2,244.7 333.0,240.9 333.7,236.9 334.5,232.4 335.2,227.7 336.0,223.0 336.7,218.2 337.5,213.4" fill="none" stroke="#1010ff" stroke-width="1.40" stroke-linejoin="round" stroke-linecap="butt"/>
<line x1="397.70" y1="212.80" x2="397.70" y2="291.00" stroke="#747474" stroke-width="0.75"/>
<line x1="397.50" y1="212.80" x2="398.60" y2="212.80" stroke="#4a4a4a" stroke-width="0.5"/>
<line x1="397.50" y1="214.76" x2="398.60" y2="214.76" stroke="#4a4a4a" stroke-width="0.5"/>
<line x1="397.50" y1="216.72" x2="398.60" y2="216.72" stroke="#4a4a4a" stroke-width="0.5"/>
<line x1="397.50" y1="218.68" x2="398.60" y2="218.68" stroke="#4a4a4a" stroke-width="0.5"/>
<line x1="397.50" y1="220.64" x2="398.60" y2="220.64" stroke="#4a4a4a" stroke-width="0.5"/>
<line x1="397.50" y1="222.60" x2="398.60" y2="222.60" stroke="#4a4a4a" stroke-width="0.5"/>
<line x1="397.50" y1="224.56" x2="398.60" y2="224.56" stroke="#4a4a4a" stroke-width="0.5"/>
<line x1="397.50" y1="226.52" x2="398.60" y2="226.52" stroke="#4a4a4a" stroke-width="0.5"/>
<line x1="397.50" y1="228.48" x2="398.60" y2="228.48" stroke="#4a4a4a" stroke-width="0.5"/>
<line x1="397.50" y1="230.44" x2="398.60" y2="230.44" stroke="#4a4a4a" stroke-width="0.5"/>
<line x1="397.50" y1="232.40" x2="398.60" y2="232.40" stroke="#4a4a4a" stroke-width="0.5"/>
<line x1="397.50" y1="234.36" x2="398.60" y2="234.36" stroke="#4a4a4a" stroke-width="0.5"/>
<line x1="397.50" y1="236.32" x2="398.60" y2="236.32" stroke="#4a4a4a" stroke-width="0.5"/>
<line x1="397.50" y1="238.28" x2="398.60" y2="238.28" stroke="#4a4a4a" stroke-width="0.5"/>
<line x1="397.50" y1="240.24" x2="398.60" y2="240.24" stroke="#4a4a4a" stroke-width="0.5"/>
<line x1="397.50" y1="242.20" x2="398.60" y2="242.20" stroke="#4a4a4a" stroke-width="0.5"/>
<line x1="397.50" y1="244.16" x2="398.60" y2="244.16" stroke="#4a4a4a" stroke-width="0.5"/>
<line x1="397.50" y1="246.12" x2="398.60" y2="246.12" stroke="#4a4a4a" stroke-width="0.5"/>
<line x1="397.50" y1="248.08" x2="398.60" y2="248.08" stroke="#4a4a4a" stroke-width="0.5"/>
<line x1="397.50" y1="250.04" x2="398.60" y2="250.04" stroke="#4a4a4a" stroke-width="0.5"/>
<line x1="397.50" y1="252.00" x2="398.60" y2="252.00" stroke="#4a4a4a" stroke-width="0.5"/>
<line x1="397.50" y1="253.96" x2="398.60" y2="253.96" stroke="#4a4a4a" stroke-width="0.5"/>
<line x1="397.50" y1="255.92" x2="398.60" y2="255.92" stroke="#4a4a4a" stroke-width="0.5"/>
<line x1="397.50" y1="257.88" x2="398.60" y2="257.88" stroke="#4a4a4a" stroke-width="0.5"/>
<line x1="397.50" y1="259.84" x2="398.60" y2="259.84" stroke="#4a4a4a" stroke-width="0.5"/>
<line x1="397.50" y1="261.80" x2="398.60" y2="261.80" stroke="#4a4a4a" stroke-width="0.5"/>
<line x1="397.50" y1="263.76" x2="398.60" y2="263.76" stroke="#4a4a4a" stroke-width="0.5"/>
<line x1="397.50" y1="265.72" x2="398.60" y2="265.72" stroke="#4a4a4a" stroke-width="0.5"/>
<line x1="397.50" y1="267.68" x2="398.60" y2="267.68" stroke="#4a4a4a" stroke-width="0.5"/>
<line x1="397.50" y1="269.64" x2="398.60" y2="269.64" stroke="#4a4a4a" stroke-width="0.5"/>
<line x1="397.50" y1="271.60" x2="398.60" y2="271.60" stroke="#4a4a4a" stroke-width="0.5"/>
<line x1="397.50" y1="273.56" x2="398.60" y2="273.56" stroke="#4a4a4a" stroke-width="0.5"/>
<line x1="397.50" y1="275.52" x2="398.60" y2="275.52" stroke="#4a4a4a" stroke-width="0.5"/>
<line x1="397.50" y1="277.48" x2="398.60" y2="277.48" stroke="#4a4a4a" stroke-width="0.5"/>
<line x1="397.50" y1="279.44" x2="398.60" y2="279.44" stroke="#4a4a4a" stroke-width="0.5"/>
<line x1="397.50" y1="281.40" x2="398.60" y2="281.40" stroke="#4a4a4a" stroke-width="0.5"/>
<line x1="397.50" y1="283.36" x2="398.60" y2="283.36" stroke="#4a4a4a" stroke-width="0.5"/>
<line x1="397.50" y1="285.32" x2="398.60" y2="285.32" stroke="#4a4a4a" stroke-width="0.5"/>
<line x1="397.50" y1="287.28" x2="398.60" y2="287.28" stroke="#4a4a4a" stroke-width="0.5"/>
<line x1="397.50" y1="289.24" x2="398.60" y2="289.24" stroke="#4a4a4a" stroke-width="0.5"/>
<line x1="397.50" y1="214.60" x2="399.10" y2="214.60" stroke="#4a4a4a" stroke-width="0.55"/>
<text transform="translate(395.80,216.80) scale(1,1.18)" class="tl" text-anchor="end">2.5&#215;10<tspan dy="-1.4" font-size="2.7">-8</tspan></text>
<line x1="397.50" y1="234.20" x2="399.10" y2="234.20" stroke="#4a4a4a" stroke-width="0.55"/>
<text transform="translate(395.80,236.40) scale(1,1.18)" class="tl" text-anchor="end">-2.5&#215;10<tspan dy="-1.4" font-size="2.7">-8</tspan></text>
<line x1="397.50" y1="243.90" x2="399.10" y2="243.90" stroke="#4a4a4a" stroke-width="0.55"/>
<text transform="translate(395.80,246.10) scale(1,1.18)" class="tl" text-anchor="end">-5&#215;10<tspan dy="-1.4" font-size="2.7">-8</tspan></text>
<line x1="397.50" y1="253.60" x2="399.10" y2="253.60" stroke="#4a4a4a" stroke-width="0.55"/>
<text transform="translate(395.80,255.80) scale(1,1.18)" class="tl" text-anchor="end">-7.5&#215;10<tspan dy="-1.4" font-size="2.7">-8</tspan></text>
<line x1="397.50" y1="263.40" x2="399.10" y2="263.40" stroke="#4a4a4a" stroke-width="0.55"/>
<text transform="translate(395.80,265.60) scale(1,1.18)" class="tl" text-anchor="end">-1&#215;10<tspan dy="-1.4" font-size="2.7">-7</tspan></text>
<line x1="397.50" y1="273.20" x2="399.10" y2="273.20" stroke="#4a4a4a" stroke-width="0.55"/>
<text transform="translate(395.80,275.40) scale(1,1.18)" class="tl" text-anchor="end">-1.25&#215;10<tspan dy="-1.4" font-size="2.7">-7</tspan></text>
<line x1="397.50" y1="283.00" x2="399.10" y2="283.00" stroke="#4a4a4a" stroke-width="0.55"/>
<text transform="translate(395.80,285.20) scale(1,1.18)" class="tl" text-anchor="end">-1.5&#215;10<tspan dy="-1.4" font-size="2.7">-7</tspan></text>
<line x1="394.70" y1="223.90" x2="518.80" y2="223.90" stroke="#747474" stroke-width="0.75"/>
<line x1="401.10" y1="224.10" x2="401.10" y2="223.00" stroke="#4a4a4a" stroke-width="0.5"/>
<line x1="404.50" y1="224.10" x2="404.50" y2="223.00" stroke="#4a4a4a" stroke-width="0.5"/>
<line x1="407.90" y1="224.10" x2="407.90" y2="223.00" stroke="#4a4a4a" stroke-width="0.5"/>
<line x1="411.30" y1="224.10" x2="411.30" y2="223.00" stroke="#4a4a4a" stroke-width="0.5"/>
<line x1="418.10" y1="224.10" x2="418.10" y2="223.00" stroke="#4a4a4a" stroke-width="0.5"/>
<line x1="421.50" y1="224.10" x2="421.50" y2="223.00" stroke="#4a4a4a" stroke-width="0.5"/>
<line x1="424.90" y1="224.10" x2="424.90" y2="223.00" stroke="#4a4a4a" stroke-width="0.5"/>
<line x1="428.30" y1="224.10" x2="428.30" y2="223.00" stroke="#4a4a4a" stroke-width="0.5"/>
<line x1="435.10" y1="224.10" x2="435.10" y2="223.00" stroke="#4a4a4a" stroke-width="0.5"/>
<line x1="438.50" y1="224.10" x2="438.50" y2="223.00" stroke="#4a4a4a" stroke-width="0.5"/>
<line x1="441.90" y1="224.10" x2="441.90" y2="223.00" stroke="#4a4a4a" stroke-width="0.5"/>
<line x1="445.30" y1="224.10" x2="445.30" y2="223.00" stroke="#4a4a4a" stroke-width="0.5"/>
<line x1="452.10" y1="224.10" x2="452.10" y2="223.00" stroke="#4a4a4a" stroke-width="0.5"/>
<line x1="455.50" y1="224.10" x2="455.50" y2="223.00" stroke="#4a4a4a" stroke-width="0.5"/>
<line x1="458.90" y1="224.10" x2="458.90" y2="223.00" stroke="#4a4a4a" stroke-width="0.5"/>
<line x1="462.30" y1="224.10" x2="462.30" y2="223.00" stroke="#4a4a4a" stroke-width="0.5"/>
<line x1="469.10" y1="224.10" x2="469.10" y2="223.00" stroke="#4a4a4a" stroke-width="0.5"/>
<line x1="472.50" y1="224.10" x2="472.50" y2="223.00" stroke="#4a4a4a" stroke-width="0.5"/>
<line x1="475.90" y1="224.10" x2="475.90" y2="223.00" stroke="#4a4a4a" stroke-width="0.5"/>
<line x1="479.30" y1="224.10" x2="479.30" y2="223.00" stroke="#4a4a4a" stroke-width="0.5"/>
<line x1="486.10" y1="224.10" x2="486.10" y2="223.00" stroke="#4a4a4a" stroke-width="0.5"/>
<line x1="489.50" y1="224.10" x2="489.50" y2="223.00" stroke="#4a4a4a" stroke-width="0.5"/>
<line x1="492.90" y1="224.10" x2="492.90" y2="223.00" stroke="#4a4a4a" stroke-width="0.5"/>
<line x1="496.30" y1="224.10" x2="496.30" y2="223.00" stroke="#4a4a4a" stroke-width="0.5"/>
<line x1="503.10" y1="224.10" x2="503.10" y2="223.00" stroke="#4a4a4a" stroke-width="0.5"/>
<line x1="506.50" y1="224.10" x2="506.50" y2="223.00" stroke="#4a4a4a" stroke-width="0.5"/>
<line x1="509.90" y1="224.10" x2="509.90" y2="223.00" stroke="#4a4a4a" stroke-width="0.5"/>
<line x1="513.30" y1="224.10" x2="513.30" y2="223.00" stroke="#4a4a4a" stroke-width="0.5"/>
<line x1="414.70" y1="224.10" x2="414.70" y2="222.50" stroke="#4a4a4a" stroke-width="0.55"/>
<text transform="translate(414.70,229.20) scale(1,1.15)" class="xl" text-anchor="middle">1</text>
<line x1="431.70" y1="224.10" x2="431.70" y2="222.50" stroke="#4a4a4a" stroke-width="0.55"/>
<text transform="translate(431.70,229.20) scale(1,1.15)" class="xl" text-anchor="middle">2</text>
<line x1="448.70" y1="224.10" x2="448.70" y2="222.50" stroke="#4a4a4a" stroke-width="0.55"/>
<text transform="translate(448.70,229.20) scale(1,1.15)" class="xl" text-anchor="middle">3</text>
<line x1="465.70" y1="224.10" x2="465.70" y2="222.50" stroke="#4a4a4a" stroke-width="0.55"/>
<text transform="translate(465.70,229.20) scale(1,1.15)" class="xl" text-anchor="middle">4</text>
<line x1="482.70" y1="224.10" x2="482.70" y2="222.50" stroke="#4a4a4a" stroke-width="0.55"/>
<text transform="translate(482.70,229.20) scale(1,1.15)" class="xl" text-anchor="middle">5</text>
<line x1="499.70" y1="224.10" x2="499.70" y2="222.50" stroke="#4a4a4a" stroke-width="0.55"/>
<text transform="translate(499.70,229.20) scale(1,1.15)" class="xl" text-anchor="middle">6</text>
<line x1="516.70" y1="224.10" x2="516.70" y2="222.50" stroke="#4a4a4a" stroke-width="0.55"/>
<text transform="translate(516.70,229.20) scale(1,1.15)" class="xl" text-anchor="middle">7</text>
<rect x="518.80" y="210.55" width="23.10" height="60.70" fill="#ffffff"/>
<g clip-path="url(#lc9)">
<line x1="521.00" y1="218.75" x2="533.40" y2="218.75" stroke="#4a4a4a" stroke-width="0.80"/>
<text x="535.60" y="220.65" class="lg">C</text>
<line x1="521.00" y1="233.47" x2="533.40" y2="233.47" stroke="#ff8c8c" stroke-width="1.10"/>
<text x="535.60" y="235.37" class="lg">Si</text>
<line x1="521.00" y1="248.19" x2="533.40" y2="248.19" stroke="#4aa64a" stroke-width="0.80"/>
<text x="535.60" y="250.09" class="lg">Ge</text>
<line x1="521.00" y1="262.91" x2="533.40" y2="262.91" stroke="#7474ff" stroke-width="0.95"/>
<text x="535.60" y="264.81" class="lg">Sn</text>
</g>
<rect x="518.80" y="210.55" width="23.10" height="60.70" rx="0.9" fill="none" stroke="#8c8c8c" stroke-width="1.0"/>
<text x="385.80" y="208.10" class="tt">&#946;<tspan class="sb" dy="0.25">CRIT</tspan><tspan dy="-0.25" dx="1.10" class="mn">&#8722;</tspan><tspan dx="1.10">&#946;</tspan><tspan class="sb" dy="0.25">D</tspan></text>
<path d="M397.7,239.8 398.4,236.8 399.2,233.8 399.9,231.0 400.7,228.5 401.4,226.3 402.2,224.4 402.9,222.7 403.7,221.2 404.4,220.0 405.2,219.1 405.9,218.4 406.7,217.9 407.4,217.6 408.2,217.4 408.9,217.5 409.7,217.8 410.4,218.2 411.2,218.8 411.9,219.5 412.7,220.3 413.4,221.3 414.2,222.3 414.9,223.5 415.7,224.8 416.4,226.0 417.2,227.3 417.9,228.6 418.7,229.9 419.4,231.2 420.2,232.5 420.9,233.9 421.7,235.2 422.4,236.6 423.2,238.0 423.9,239.4 424.7,240.8 425.4,242.2 426.2,243.6 426.9,245.0 427.7,246.4 428.4,247.7 429.2,249.1 429.9,250.4 430.7,251.8 431.4,253.1 432.2,254.4 432.9,255.7 433.7,257.0 434.4,258.3 435.2,259.6 435.9,260.8 436.7,262.0 437.4,263.2 438.2,264.4 438.9,265.5 439.7,266.6 440.4,267.7 441.2,268.7 441.9,269.7 442.7,270.6 443.4,271.5 444.2,272.3 444.9,273.0 445.7,273.6 446.4,274.1 447.2,274.5 447.9,274.9 448.7,275.2 449.4,275.5 450.2,275.6 450.9,275.8 451.7,275.9 452.4,276.0 453.2,276.0 453.9,276.1 454.7,276.1 455.4,276.2 456.2,276.2 456.9,276.2 457.7,276.2 458.4,276.1 459.2,276.1 459.9,276.0 460.7,275.9 461.4,275.8 462.2,275.8 462.9,275.7 463.7,275.6 464.4,275.5 465.2,275.4 465.9,275.3 466.7,275.2 467.4,275.1 468.2,275.0 468.9,274.8 469.7,274.7 470.4,274.6 471.2,274.5 471.9,274.4 472.7,274.3 473.4,274.1 474.2,274.0 474.9,274.0 475.7,273.9 476.4,273.9 477.2,273.9 477.9,274.0 478.7,274.0 479.4,274.1 480.2,274.2 480.9,274.3 481.7,274.4 482.4,274.5 483.2,274.6 483.9,274.7 484.7,274.8 485.4,274.9 486.2,275.0 486.9,275.1 487.7,275.2 488.4,275.3 489.2,275.4 489.9,275.4 490.7,275.4 491.4,275.4 492.2,275.4 492.9,275.3 493.7,275.3 494.4,275.3 495.2,275.2 495.9,275.1 496.7,274.9 497.4,274.6 498.2,274.1 498.9,273.7 499.7,273.1 500.4,272.5 501.2,271.9 501.9,271.1 502.7,270.2 503.4,269.3 504.2,268.1 504.9,266.9 505.7,265.4 506.4,263.7 507.2,261.8 507.9,259.6 508.6,257.1 509.4,254.3 510.1,251.3 510.9,248.2 511.6,245.1 512.4,241.9 513.1,238.5 513.9,234.8 514.6,230.8 515.4,226.4 516.1,221.9 516.9,217.1 517.4,213.7" fill="none" stroke="#000000" stroke-width="1.40" stroke-linejoin="round" stroke-linecap="butt"/>
<path d="M397.7,243.9 398.4,239.8 399.2,235.9 399.9,232.5 400.7,229.5 401.4,227.0 402.2,224.9 402.9,223.1 403.7,221.5 404.4,220.2 405.2,219.1 405.9,218.3 406.7,217.8 407.4,217.5 408.2,217.3 408.9,217.4 409.7,217.7 410.4,218.2 411.2,218.8 411.9,219.4 412.7,220.2 413.4,221.2 414.2,222.3 414.9,223.5 415.7,224.9 416.4,226.2 417.2,227.5 417.9,228.9 418.7,230.2 419.4,231.6 420.2,233.0 420.9,234.5 421.7,236.0 422.4,237.5 423.2,239.1 423.9,240.8 424.7,242.4 425.4,244.1 426.2,245.8 426.9,247.6 427.7,249.4 428.4,251.2 429.2,253.0 429.9,254.9 430.7,256.8 431.4,258.7 432.2,260.7 432.9,262.6 433.7,264.6 434.4,266.6 435.2,268.5 435.9,270.2 436.7,271.8 437.4,273.1 438.2,274.4 438.9,275.7 439.7,276.8 440.4,278.0 441.2,279.1 441.9,280.1 442.7,281.0 443.4,281.7 444.2,282.3 444.9,282.8 445.7,283.3 446.4,283.7 447.2,284.0 447.9,284.3 448.7,284.6 449.4,284.8 450.2,285.0 450.9,285.1 451.7,285.2 452.4,285.3 453.2,285.4 453.9,285.4 454.7,285.4 455.4,285.4 456.2,285.4 456.9,285.4 457.7,285.4 458.4,285.4 459.2,285.4 459.9,285.3 460.7,285.3 461.4,285.2 462.2,285.1 462.9,285.0 463.7,284.9 464.4,284.7 465.2,284.6 465.9,284.5 466.7,284.3 467.4,284.2 468.2,284.0 468.9,283.8 469.7,283.6 470.4,283.4 471.2,283.2 471.9,283.1 472.7,282.9 473.4,282.8 474.2,282.6 474.9,282.5 475.7,282.5 476.4,282.4 477.2,282.4 477.9,282.5 478.7,282.6 479.4,282.7 480.2,282.8 480.9,282.9 481.7,283.1 482.4,283.2 483.2,283.3 483.9,283.4 484.7,283.5 485.4,283.7 486.2,283.8 486.9,284.0 487.7,284.1 488.4,284.2 489.2,284.2 489.9,284.3 490.7,284.3 491.4,284.3 492.2,284.2 492.9,284.2 493.7,284.1 494.4,284.0 495.2,283.8 495.9,283.7 496.7,283.4 497.4,282.9 498.2,282.4 498.9,281.7 499.7,281.0 500.4,280.2 501.2,279.2 501.9,278.1 502.7,276.9 503.4,275.5 504.2,274.0 504.9,272.3 505.7,270.4 506.4,268.3 507.2,266.0 507.9,263.3 508.6,260.3 509.4,257.0 510.1,253.6 510.9,250.2 511.6,246.8 512.4,243.3 513.1,239.6 513.9,235.6 514.6,231.4 515.4,226.8 516.1,222.0 516.9,217.1 517.4,213.8" fill="none" stroke="#ff1010" stroke-width="1.40" stroke-linejoin="round" stroke-linecap="butt"/>
<path d="M397.7,245.4 398.4,240.9 399.2,236.8 399.9,233.2 400.7,230.1 401.4,227.4 402.2,225.2 402.9,223.3 403.7,221.6 404.4,220.2 405.2,219.1 405.9,218.3 406.7,217.8 407.4,217.5 408.2,217.3 408.9,217.4 409.7,217.7 410.4,218.2 411.2,218.7 411.9,219.4 412.7,220.2 413.4,221.2 414.2,222.3 414.9,223.6 415.7,225.0 416.4,226.3 417.2,227.7 417.9,229.1 418.7,230.5 419.4,232.0 420.2,233.5 420.9,235.0 421.7,236.5 422.4,238.1 423.2,239.8 423.9,241.4 424.7,243.1 425.4,244.9 426.2,246.6 426.9,248.4 427.7,250.3 428.4,252.1 429.2,254.0 429.9,256.0 430.7,258.0 431.4,260.0 432.2,262.1 432.9,264.2 433.7,266.3 434.4,268.3 435.2,270.2 435.9,271.9 436.7,273.4 437.4,274.9 438.2,276.2 438.9,277.5 439.7,278.6 440.4,279.7 441.2,280.8 441.9,281.7 442.7,282.5 443.4,283.1 444.2,283.7 444.9,284.2 445.7,284.7 446.4,285.1 447.2,285.4 447.9,285.7 448.7,286.0 449.4,286.2 450.2,286.4 450.9,286.5 451.7,286.6 452.4,286.7 453.2,286.8 453.9,286.8 454.7,286.8 455.4,286.8 456.2,286.8 456.9,286.8 457.7,286.8 458.4,286.8 459.2,286.8 459.9,286.7 460.7,286.7 461.4,286.6 462.2,286.5 462.9,286.4 463.7,286.3 464.4,286.2 465.2,286.1 465.9,286.0 466.7,285.9 467.4,285.7 468.2,285.5 468.9,285.4 469.7,285.2 470.4,285.0 471.2,284.9 471.9,284.7 472.7,284.6 473.4,284.5 474.2,284.4 474.9,284.3 475.7,284.2 476.4,284.2 477.2,284.3 477.9,284.3 478.7,284.4 479.4,284.5 480.2,284.7 480.9,284.8 481.7,284.9 482.4,285.1 483.2,285.2 483.9,285.3 484.7,285.4 485.4,285.6 486.2,285.7 486.9,285.8 487.7,285.9 488.4,286.0 489.2,286.0 489.9,286.1 490.7,286.1 491.4,286.0 492.2,286.0 492.9,285.9 493.7,285.8 494.4,285.6 495.2,285.5 495.9,285.2 496.7,284.9 497.4,284.5 498.2,283.9 498.9,283.2 499.7,282.5 500.4,281.6 501.2,280.6 501.9,279.5 502.7,278.2 503.4,276.8 504.2,275.2 504.9,273.5 505.7,271.5 506.4,269.4 507.2,267.0 507.9,264.3 508.6,261.2 509.4,257.8 510.1,254.3 510.9,250.8 511.6,247.3 512.4,243.7 513.1,239.9 513.9,235.9 514.6,231.6 515.4,226.9 516.1,222.1 516.9,217.1 517.4,213.8" fill="none" stroke="#108a10" stroke-width="1.40" stroke-linejoin="round" stroke-linecap="butt"/>
<path d="M397.7,246.8 398.4,242.3 399.2,238.0 399.9,234.0 400.7,230.6 401.4,227.8 402.2,225.4 402.9,223.4 403.7,221.7 404.4,220.3 405.2,219.1 405.9,218.3 406.7,217.7 407.4,217.4 408.2,217.2 408.9,217.3 409.7,217.6 410.4,218.1 411.2,218.7 411.9,219.4 412.7,220.2 413.4,221.2 414.2,222.3 414.9,223.6 415.7,225.0 416.4,226.4 417.2,227.9 417.9,229.4 418.7,230.9 419.4,232.4 420.2,234.0 420.9,235.6 421.7,237.2 422.4,238.8 423.2,240.5 423.9,242.2 424.7,244.0 425.4,245.7 426.2,247.6 426.9,249.4 427.7,251.3 428.4,253.3 429.2,255.3 429.9,257.4 430.7,259.5 431.4,261.7 432.2,263.9 432.9,266.0 433.7,268.2 434.4,270.2 435.2,272.0 435.9,273.7 436.7,275.3 437.4,276.7 438.2,278.1 438.9,279.3 439.7,280.5 440.4,281.6 441.2,282.5 441.9,283.4 442.7,284.2 443.4,284.8 444.2,285.4 444.9,285.9 445.7,286.3 446.4,286.7 447.2,287.1 447.9,287.4 448.7,287.7 449.4,288.0 450.2,288.2 450.9,288.4 451.7,288.6 452.4,288.7 453.2,288.8 453.9,288.8 454.6,288.8 455.4,288.8 456.1,288.8 456.9,288.8 457.6,288.8 458.4,288.8 459.1,288.8 459.9,288.8 460.6,288.7 461.4,288.6 462.1,288.6 462.9,288.5 463.6,288.4 464.4,288.3 465.1,288.2 465.9,288.1 466.6,288.0 467.4,287.8 468.1,287.7 468.9,287.5 469.6,287.3 470.4,287.1 471.1,287.0 471.9,286.8 472.6,286.7 473.4,286.6 474.1,286.5 474.9,286.4 475.6,286.3 476.4,286.3 477.1,286.3 477.9,286.4 478.6,286.5 479.4,286.6 480.1,286.7 480.9,286.8 481.6,286.9 482.4,287.1 483.1,287.2 483.9,287.3 484.6,287.5 485.4,287.6 486.1,287.8 486.9,287.9 487.6,288.0 488.4,288.2 489.1,288.2 489.9,288.3 490.6,288.3 491.4,288.2 492.1,288.2 492.9,288.1 493.6,287.9 494.4,287.8 495.1,287.6 495.9,287.3 496.6,287.0 497.4,286.5 498.1,285.8 498.9,285.1 499.6,284.3 500.4,283.5 501.1,282.5 501.9,281.3 502.6,280.0 503.4,278.6 504.1,277.1 504.9,275.3 505.6,273.3 506.4,271.1 507.1,268.7 507.9,265.9 508.6,262.7 509.4,259.2 510.1,255.5 510.9,251.9 511.6,248.3 512.3,244.7 513.1,240.9 513.8,236.9 514.6,232.4 515.3,227.7 516.1,223.0 516.8,218.2 517.6,213.4" fill="none" stroke="#1010ff" stroke-width="1.40" stroke-linejoin="round" stroke-linecap="butt"/>
<line x1="32.30" y1="308.00" x2="32.30" y2="388.10" stroke="#747474" stroke-width="0.75"/>
<line x1="32.10" y1="308.20" x2="33.20" y2="308.20" stroke="#4a4a4a" stroke-width="0.5"/>
<line x1="32.10" y1="310.44" x2="33.20" y2="310.44" stroke="#4a4a4a" stroke-width="0.5"/>
<line x1="32.10" y1="312.68" x2="33.20" y2="312.68" stroke="#4a4a4a" stroke-width="0.5"/>
<line x1="32.10" y1="314.92" x2="33.20" y2="314.92" stroke="#4a4a4a" stroke-width="0.5"/>
<line x1="32.10" y1="317.16" x2="33.20" y2="317.16" stroke="#4a4a4a" stroke-width="0.5"/>
<line x1="32.10" y1="319.40" x2="33.20" y2="319.40" stroke="#4a4a4a" stroke-width="0.5"/>
<line x1="32.10" y1="321.64" x2="33.20" y2="321.64" stroke="#4a4a4a" stroke-width="0.5"/>
<line x1="32.10" y1="323.88" x2="33.20" y2="323.88" stroke="#4a4a4a" stroke-width="0.5"/>
<line x1="32.10" y1="326.12" x2="33.20" y2="326.12" stroke="#4a4a4a" stroke-width="0.5"/>
<line x1="32.10" y1="328.36" x2="33.20" y2="328.36" stroke="#4a4a4a" stroke-width="0.5"/>
<line x1="32.10" y1="330.60" x2="33.20" y2="330.60" stroke="#4a4a4a" stroke-width="0.5"/>
<line x1="32.10" y1="332.84" x2="33.20" y2="332.84" stroke="#4a4a4a" stroke-width="0.5"/>
<line x1="32.10" y1="335.08" x2="33.20" y2="335.08" stroke="#4a4a4a" stroke-width="0.5"/>
<line x1="32.10" y1="337.32" x2="33.20" y2="337.32" stroke="#4a4a4a" stroke-width="0.5"/>
<line x1="32.10" y1="339.56" x2="33.20" y2="339.56" stroke="#4a4a4a" stroke-width="0.5"/>
<line x1="32.10" y1="341.80" x2="33.20" y2="341.80" stroke="#4a4a4a" stroke-width="0.5"/>
<line x1="32.10" y1="344.04" x2="33.20" y2="344.04" stroke="#4a4a4a" stroke-width="0.5"/>
<line x1="32.10" y1="346.28" x2="33.20" y2="346.28" stroke="#4a4a4a" stroke-width="0.5"/>
<line x1="32.10" y1="348.52" x2="33.20" y2="348.52" stroke="#4a4a4a" stroke-width="0.5"/>
<line x1="32.10" y1="350.76" x2="33.20" y2="350.76" stroke="#4a4a4a" stroke-width="0.5"/>
<line x1="32.10" y1="353.00" x2="33.20" y2="353.00" stroke="#4a4a4a" stroke-width="0.5"/>
<line x1="32.10" y1="355.24" x2="33.20" y2="355.24" stroke="#4a4a4a" stroke-width="0.5"/>
<line x1="32.10" y1="357.48" x2="33.20" y2="357.48" stroke="#4a4a4a" stroke-width="0.5"/>
<line x1="32.10" y1="359.72" x2="33.20" y2="359.72" stroke="#4a4a4a" stroke-width="0.5"/>
<line x1="32.10" y1="361.96" x2="33.20" y2="361.96" stroke="#4a4a4a" stroke-width="0.5"/>
<line x1="32.10" y1="364.20" x2="33.20" y2="364.20" stroke="#4a4a4a" stroke-width="0.5"/>
<line x1="32.10" y1="366.44" x2="33.20" y2="366.44" stroke="#4a4a4a" stroke-width="0.5"/>
<line x1="32.10" y1="368.68" x2="33.20" y2="368.68" stroke="#4a4a4a" stroke-width="0.5"/>
<line x1="32.10" y1="370.92" x2="33.20" y2="370.92" stroke="#4a4a4a" stroke-width="0.5"/>
<line x1="32.10" y1="373.16" x2="33.20" y2="373.16" stroke="#4a4a4a" stroke-width="0.5"/>
<line x1="32.10" y1="375.40" x2="33.20" y2="375.40" stroke="#4a4a4a" stroke-width="0.5"/>
<line x1="32.10" y1="377.64" x2="33.20" y2="377.64" stroke="#4a4a4a" stroke-width="0.5"/>
<line x1="32.10" y1="379.88" x2="33.20" y2="379.88" stroke="#4a4a4a" stroke-width="0.5"/>
<line x1="32.10" y1="382.12" x2="33.20" y2="382.12" stroke="#4a4a4a" stroke-width="0.5"/>
<line x1="32.10" y1="384.36" x2="33.20" y2="384.36" stroke="#4a4a4a" stroke-width="0.5"/>
<line x1="32.10" y1="386.60" x2="33.20" y2="386.60" stroke="#4a4a4a" stroke-width="0.5"/>
<line x1="32.10" y1="308.20" x2="33.70" y2="308.20" stroke="#4a4a4a" stroke-width="0.55"/>
<text transform="translate(30.40,310.40) scale(1,1.18)" class="tl" text-anchor="end">0.00007</text>
<line x1="32.10" y1="319.40" x2="33.70" y2="319.40" stroke="#4a4a4a" stroke-width="0.55"/>
<text transform="translate(30.40,321.60) scale(1,1.18)" class="tl" text-anchor="end">0.00006</text>
<line x1="32.10" y1="330.60" x2="33.70" y2="330.60" stroke="#4a4a4a" stroke-width="0.55"/>
<text transform="translate(30.40,332.80) scale(1,1.18)" class="tl" text-anchor="end">0.00005</text>
<line x1="32.10" y1="341.80" x2="33.70" y2="341.80" stroke="#4a4a4a" stroke-width="0.55"/>
<text transform="translate(30.40,344.00) scale(1,1.18)" class="tl" text-anchor="end">0.00004</text>
<line x1="32.10" y1="353.00" x2="33.70" y2="353.00" stroke="#4a4a4a" stroke-width="0.55"/>
<text transform="translate(30.40,355.20) scale(1,1.18)" class="tl" text-anchor="end">0.00003</text>
<line x1="32.10" y1="364.20" x2="33.70" y2="364.20" stroke="#4a4a4a" stroke-width="0.55"/>
<text transform="translate(30.40,366.40) scale(1,1.18)" class="tl" text-anchor="end">0.00002</text>
<line x1="32.10" y1="375.40" x2="33.70" y2="375.40" stroke="#4a4a4a" stroke-width="0.55"/>
<text transform="translate(30.40,377.60) scale(1,1.18)" class="tl" text-anchor="end">0.00001</text>
<line x1="30.80" y1="386.60" x2="158.30" y2="386.60" stroke="#747474" stroke-width="0.75"/>
<line x1="37.25" y1="386.80" x2="37.25" y2="385.70" stroke="#4a4a4a" stroke-width="0.5"/>
<line x1="42.20" y1="386.80" x2="42.20" y2="385.70" stroke="#4a4a4a" stroke-width="0.5"/>
<line x1="47.14" y1="386.80" x2="47.14" y2="385.70" stroke="#4a4a4a" stroke-width="0.5"/>
<line x1="52.09" y1="386.80" x2="52.09" y2="385.70" stroke="#4a4a4a" stroke-width="0.5"/>
<line x1="61.99" y1="386.80" x2="61.99" y2="385.70" stroke="#4a4a4a" stroke-width="0.5"/>
<line x1="66.94" y1="386.80" x2="66.94" y2="385.70" stroke="#4a4a4a" stroke-width="0.5"/>
<line x1="71.88" y1="386.80" x2="71.88" y2="385.70" stroke="#4a4a4a" stroke-width="0.5"/>
<line x1="76.83" y1="386.80" x2="76.83" y2="385.70" stroke="#4a4a4a" stroke-width="0.5"/>
<line x1="86.73" y1="386.80" x2="86.73" y2="385.70" stroke="#4a4a4a" stroke-width="0.5"/>
<line x1="91.68" y1="386.80" x2="91.68" y2="385.70" stroke="#4a4a4a" stroke-width="0.5"/>
<line x1="96.62" y1="386.80" x2="96.62" y2="385.70" stroke="#4a4a4a" stroke-width="0.5"/>
<line x1="101.57" y1="386.80" x2="101.57" y2="385.70" stroke="#4a4a4a" stroke-width="0.5"/>
<line x1="111.47" y1="386.80" x2="111.47" y2="385.70" stroke="#4a4a4a" stroke-width="0.5"/>
<line x1="116.42" y1="386.80" x2="116.42" y2="385.70" stroke="#4a4a4a" stroke-width="0.5"/>
<line x1="121.36" y1="386.80" x2="121.36" y2="385.70" stroke="#4a4a4a" stroke-width="0.5"/>
<line x1="126.31" y1="386.80" x2="126.31" y2="385.70" stroke="#4a4a4a" stroke-width="0.5"/>
<line x1="136.21" y1="386.80" x2="136.21" y2="385.70" stroke="#4a4a4a" stroke-width="0.5"/>
<line x1="141.16" y1="386.80" x2="141.16" y2="385.70" stroke="#4a4a4a" stroke-width="0.5"/>
<line x1="146.10" y1="386.80" x2="146.10" y2="385.70" stroke="#4a4a4a" stroke-width="0.5"/>
<line x1="151.05" y1="386.80" x2="151.05" y2="385.70" stroke="#4a4a4a" stroke-width="0.5"/>
<line x1="57.04" y1="386.80" x2="57.04" y2="385.20" stroke="#4a4a4a" stroke-width="0.55"/>
<text transform="translate(57.04,391.90) scale(1,1.15)" class="xl" text-anchor="middle">10</text>
<line x1="81.78" y1="386.80" x2="81.78" y2="385.20" stroke="#4a4a4a" stroke-width="0.55"/>
<text transform="translate(81.78,391.90) scale(1,1.15)" class="xl" text-anchor="middle">20</text>
<line x1="106.52" y1="386.80" x2="106.52" y2="385.20" stroke="#4a4a4a" stroke-width="0.55"/>
<text transform="translate(106.52,391.90) scale(1,1.15)" class="xl" text-anchor="middle">30</text>
<line x1="131.26" y1="386.80" x2="131.26" y2="385.20" stroke="#4a4a4a" stroke-width="0.55"/>
<text transform="translate(131.26,391.90) scale(1,1.15)" class="xl" text-anchor="middle">40</text>
<line x1="156.00" y1="386.80" x2="156.00" y2="385.20" stroke="#4a4a4a" stroke-width="0.55"/>
<text transform="translate(156.00,391.90) scale(1,1.15)" class="xl" text-anchor="middle">50</text>
<text x="162.70" y="388.80" class="tau">&#964;</text>
<rect x="158.80" y="309.45" width="23.10" height="60.00" fill="#ffffff"/>
<g clip-path="url(#lc10)">
<line x1="161.00" y1="317.70" x2="173.40" y2="317.70" stroke="#4a4a4a" stroke-width="0.80"/>
<text x="175.60" y="319.60" class="lg">C</text>
<line x1="161.00" y1="332.23" x2="173.40" y2="332.23" stroke="#ff8c8c" stroke-width="1.10"/>
<text x="175.60" y="334.13" class="lg">Si</text>
<line x1="161.00" y1="346.76" x2="173.40" y2="346.76" stroke="#4aa64a" stroke-width="0.80"/>
<text x="175.60" y="348.66" class="lg">Ge</text>
<line x1="161.00" y1="361.29" x2="173.40" y2="361.29" stroke="#7474ff" stroke-width="0.95"/>
<text x="175.60" y="363.19" class="lg">Sn</text>
</g>
<rect x="158.80" y="309.45" width="23.10" height="60.00" rx="0.9" fill="none" stroke="#8c8c8c" stroke-width="1.0"/>
<text x="24.10" y="303.90" class="tt">&#946;<tspan class="sb" dy="0.25">0</tspan><tspan dy="-0.25" dx="0.70" class="mn">&#8722;</tspan><tspan dx="0.70">&#946;</tspan><tspan class="sb" dy="0.25">D</tspan></text>
<path d="M45.0,386.2 45.8,386.2 46.5,386.2 47.2,386.1 48.0,386.1 48.8,386.0 49.5,385.8 50.2,385.6 51.0,385.2 51.8,384.6 52.5,383.7 53.2,382.5 54.0,381.0 54.8,379.2 55.5,377.1 56.2,374.8 57.0,372.1 57.8,369.2 58.5,366.0 59.2,362.6 60.0,359.0 60.8,355.4 61.5,352.0 62.2,348.9 63.0,346.2 63.8,343.8 64.5,341.7 65.2,339.7 66.0,338.0 66.8,336.4 67.5,334.9 68.2,333.7 69.0,332.6 69.8,331.7 70.5,330.9 71.2,330.3 72.0,329.7 72.8,329.1 73.5,328.7 74.2,328.2 75.0,327.9 75.8,327.5 76.5,327.2 77.2,326.9 78.0,326.7 78.8,326.5 79.5,326.3 80.2,326.2 81.0,326.0 81.8,325.9 82.5,325.9 83.2,325.8 84.0,325.7 84.8,325.7 85.5,325.6 86.2,325.6 87.0,325.6 87.8,325.5 88.5,325.5 89.2,325.5 90.0,325.5 90.8,325.5 91.5,325.5 92.2,325.5 93.0,325.4 93.8,325.4 94.5,325.4 95.2,325.4 96.0,325.4 96.8,325.3 97.5,325.3 98.2,325.3 99.0,325.3 99.8,325.2 100.5,325.2 101.2,325.2 102.0,325.2 102.8,325.1 103.5,325.1 104.2,325.1 105.0,325.1 105.8,325.0 106.5,325.0 107.2,325.0 108.0,325.0 108.8,325.0 109.5,325.0 110.2,325.0 111.0,325.1 111.8,325.1 112.5,325.2 113.2,325.3 114.0,325.3 114.8,325.4 115.5,325.5 116.2,325.6 117.0,325.8 117.8,325.9 118.5,326.0 119.2,326.1 120.0,326.3 120.8,326.4 121.5,326.5 122.2,326.7 123.0,326.8 123.8,327.0 124.5,327.2 125.2,327.3 126.0,327.5 126.8,327.8 127.5,328.0 128.2,328.2 129.0,328.5 129.8,328.8 130.5,329.0 131.2,329.3 132.0,329.6 132.8,329.9 133.5,330.3 134.2,330.6 135.0,331.0 135.8,331.4 136.5,331.9 137.2,332.4 138.0,332.9 138.8,333.4 139.5,333.9 140.2,334.5 141.0,335.0 141.8,335.5 142.5,336.1 143.2,336.6 144.0,337.1 144.8,337.6 145.5,338.1 146.2,338.6 147.0,339.1 147.8,339.6 148.5,340.2 149.2,340.7 150.0,341.3 150.8,341.9 151.5,342.5 152.2,343.1 153.0,343.7 153.8,344.4 154.5,345.0 155.2,345.7 156.0,346.4" fill="none" stroke="#000000" stroke-width="1.40" stroke-linejoin="round" stroke-linecap="butt"/>
<path d="M45.0,386.2 45.8,386.2 46.5,386.2 47.2,386.1 48.0,386.1 48.8,386.0 49.5,385.8 50.2,385.5 51.0,385.0 51.8,384.2 52.5,383.1 53.2,381.6 54.0,379.8 54.8,377.5 55.5,374.8 56.2,371.8 57.0,368.5 57.8,365.0 58.5,361.5 59.2,358.2 60.0,355.0 60.8,351.8 61.5,348.7 62.2,345.6 63.0,342.5 63.8,339.5 64.5,336.6 65.2,334.0 66.0,331.6 66.8,329.5 67.5,327.8 68.2,326.2 69.0,324.8 69.8,323.6 70.5,322.6 71.2,321.7 72.0,321.0 72.8,320.3 73.5,319.7 74.2,319.2 75.0,318.8 75.8,318.4 76.5,318.1 77.2,317.8 78.0,317.5 78.8,317.3 79.5,317.1 80.2,316.9 81.0,316.7 81.8,316.5 82.5,316.3 83.2,316.1 84.0,316.0 84.8,315.8 85.5,315.6 86.2,315.5 87.0,315.3 87.8,315.1 88.5,314.9 89.2,314.8 90.0,314.6 90.8,314.5 91.5,314.4 92.2,314.3 93.0,314.2 93.8,314.2 94.5,314.1 95.2,314.1 96.0,314.1 96.8,314.1 97.5,314.1 98.2,314.1 99.0,314.1 99.8,314.1 100.5,314.2 101.2,314.2 102.0,314.2 102.8,314.2 103.5,314.2 104.2,314.2 105.0,314.3 105.8,314.3 106.5,314.3 107.2,314.3 108.0,314.4 108.8,314.4 109.5,314.4 110.2,314.5 111.0,314.6 111.8,314.6 112.5,314.7 113.2,314.8 114.0,314.9 114.8,315.0 115.5,315.2 116.2,315.3 117.0,315.5 117.8,315.6 118.5,315.8 119.2,315.9 120.0,316.1 120.8,316.3 121.5,316.5 122.2,316.7 123.0,316.9 123.8,317.1 124.5,317.4 125.2,317.7 126.0,318.0 126.8,318.4 127.5,318.8 128.2,319.2 129.0,319.6 129.8,320.0 130.5,320.5 131.2,320.9 132.0,321.4 132.8,321.8 133.5,322.3 134.2,322.8 135.0,323.3 135.8,323.8 136.5,324.3 137.2,324.9 138.0,325.5 138.8,326.1 139.5,326.7 140.2,327.3 141.0,327.9 141.8,328.5 142.5,329.1 143.2,329.7 144.0,330.3 144.8,330.8 145.5,331.4 146.2,332.0 147.0,332.6 147.8,333.2 148.5,333.7 149.2,334.3 150.0,334.9 150.8,335.4 151.5,336.0 152.2,336.6 153.0,337.1 153.8,337.7 154.5,338.3 155.2,338.8 156.0,339.4" fill="none" stroke="#ff1010" stroke-width="1.40" stroke-linejoin="round" stroke-linecap="butt"/>
<path d="M45.0,386.2 45.8,386.2 46.5,386.2 47.2,386.1 48.0,386.1 48.8,386.0 49.5,385.8 50.2,385.5 51.0,384.9 51.8,384.1 52.5,383.0 53.2,381.4 54.0,379.4 54.8,377.0 55.5,374.2 56.2,371.0 57.0,367.6 57.8,364.1 58.5,360.6 59.2,357.3 60.0,354.1 60.8,351.0 61.5,347.8 62.2,344.5 63.0,341.3 63.8,338.3 64.5,335.4 65.2,332.8 66.0,330.4 66.8,328.4 67.5,326.5 68.2,324.8 69.0,323.3 69.8,322.0 70.5,320.9 71.2,319.9 72.0,319.1 72.8,318.3 73.5,317.6 74.2,317.1 75.0,316.6 75.8,316.3 76.5,316.0 77.2,315.8 78.0,315.5 78.8,315.3 79.5,315.1 80.2,315.0 81.0,314.8 81.8,314.7 82.5,314.5 83.2,314.4 84.0,314.3 84.8,314.2 85.5,314.0 86.2,313.9 87.0,313.8 87.8,313.7 88.5,313.6 89.2,313.5 90.0,313.4 90.8,313.3 91.5,313.2 92.2,313.1 93.0,313.1 93.8,313.0 94.5,313.0 95.2,313.0 96.0,313.0 96.8,313.0 97.5,313.0 98.2,313.0 99.0,313.0 99.8,313.0 100.5,313.1 101.2,313.1 102.0,313.1 102.8,313.1 103.5,313.1 104.2,313.1 105.0,313.2 105.8,313.2 106.5,313.2 107.2,313.2 108.0,313.3 108.8,313.3 109.5,313.3 110.2,313.4 111.0,313.5 111.8,313.6 112.5,313.6 113.2,313.8 114.0,313.9 114.8,314.0 115.5,314.1 116.2,314.3 117.0,314.5 117.8,314.6 118.5,314.8 119.2,315.0 120.0,315.2 120.8,315.4 121.5,315.6 122.2,315.8 123.0,316.0 123.8,316.2 124.5,316.5 125.2,316.8 126.0,317.2 126.8,317.5 127.5,317.9 128.2,318.3 129.0,318.7 129.8,319.1 130.5,319.5 131.2,320.0 132.0,320.4 132.8,320.9 133.5,321.4 134.2,321.9 135.0,322.4 135.8,322.9 136.5,323.5 137.2,324.1 138.0,324.7 138.8,325.3 139.5,325.9 140.2,326.5 141.0,327.2 141.8,327.8 142.5,328.4 143.2,329.0 144.0,329.6 144.8,330.2 145.5,330.8 146.2,331.4 147.0,332.0 147.8,332.6 148.5,333.2 149.2,333.8 150.0,334.4 150.8,334.9 151.5,335.5 152.2,336.0 153.0,336.6 153.8,337.1 154.5,337.7 155.2,338.2 156.0,338.7" fill="none" stroke="#108a10" stroke-width="1.40" stroke-linejoin="round" stroke-linecap="butt"/>
<path d="M32.3,386.2 33.0,386.2 33.8,386.2 34.5,386.2 35.3,386.2 36.0,386.2 36.8,386.2 37.5,386.2 38.3,386.2 39.0,386.2 39.8,386.2 40.5,386.2 41.3,386.2 42.0,386.2 42.8,386.2 43.5,386.2 44.3,386.2 45.0,386.2 45.8,386.2 46.5,386.2 47.3,386.1 48.0,386.0 48.8,385.9 49.5,385.8 50.3,385.4 51.0,384.8 51.8,383.9 52.5,382.6 53.3,380.9 54.0,378.7 54.8,376.1 55.5,373.2 56.3,369.9 57.0,366.5 57.8,363.0 58.5,359.5 59.3,356.1 60.0,352.8 60.8,349.6 61.5,346.3 62.3,343.1 63.0,339.9 63.8,336.8 64.5,333.9 65.3,331.2 66.0,328.6 66.8,326.2 67.5,324.0 68.3,322.0 69.0,320.3 69.8,319.1 70.5,318.0 71.3,317.1 72.0,316.3 72.8,315.6 73.5,315.1 74.3,314.6 75.0,314.2 75.8,313.8 76.5,313.5 77.3,313.2 78.0,313.0 78.8,312.7 79.5,312.5 80.3,312.3 81.0,312.1 81.8,312.0 82.5,311.8 83.3,311.7 84.0,311.6 84.8,311.5 85.5,311.4 86.3,311.3 87.0,311.2 87.8,311.1 88.5,311.1 89.3,311.0 90.0,310.9 90.8,310.9 91.5,310.8 92.3,310.8 93.0,310.7 93.8,310.7 94.5,310.7 95.3,310.7 96.0,310.7 96.8,310.7 97.5,310.7 98.3,310.7 99.0,310.7 99.8,310.7 100.5,310.7 101.3,310.7 102.0,310.7 102.8,310.7 103.5,310.7 104.3,310.7 105.0,310.7 105.8,310.7 106.5,310.7 107.3,310.7 108.0,310.7 108.8,310.7 109.5,310.7 110.3,310.8 111.0,310.8 111.8,310.9 112.5,311.0 113.3,311.2 114.0,311.3 114.8,311.5 115.5,311.7 116.3,311.9 117.0,312.1 117.8,312.3 118.5,312.5 119.3,312.7 120.0,313.0 120.8,313.2 121.5,313.4 122.3,313.7 123.0,313.9 123.8,314.2 124.5,314.5 125.3,314.8 126.0,315.1 126.8,315.5 127.5,315.8 128.3,316.2 129.0,316.6 129.8,317.0 130.5,317.5 131.3,317.9 132.0,318.4 132.8,318.8 133.5,319.3 134.3,319.8 135.0,320.3 135.8,320.8 136.5,321.4 137.3,321.9 138.0,322.5 138.8,323.1 139.5,323.8 140.3,324.4 141.0,325.0 141.8,325.6 142.5,326.3 143.3,326.9 144.0,327.6 144.8,328.2 145.5,328.9 146.3,329.6 147.0,330.3 147.8,331.0 148.5,331.7 149.3,332.3 150.0,333.0 150.8,333.6 151.5,334.2 152.3,334.8 153.0,335.4 153.8,336.0 154.5,336.6 155.3,337.1 156.0,337.7" fill="none" stroke="#1010ff" stroke-width="1.40" stroke-linejoin="round" stroke-linecap="butt"/>
<line x1="212.30" y1="309.50" x2="212.30" y2="388.00" stroke="#747474" stroke-width="0.75"/>
<line x1="212.10" y1="309.50" x2="213.20" y2="309.50" stroke="#4a4a4a" stroke-width="0.5"/>
<line x1="212.10" y1="311.74" x2="213.20" y2="311.74" stroke="#4a4a4a" stroke-width="0.5"/>
<line x1="212.10" y1="313.98" x2="213.20" y2="313.98" stroke="#4a4a4a" stroke-width="0.5"/>
<line x1="212.10" y1="316.22" x2="213.20" y2="316.22" stroke="#4a4a4a" stroke-width="0.5"/>
<line x1="212.10" y1="318.46" x2="213.20" y2="318.46" stroke="#4a4a4a" stroke-width="0.5"/>
<line x1="212.10" y1="320.70" x2="213.20" y2="320.70" stroke="#4a4a4a" stroke-width="0.5"/>
<line x1="212.10" y1="322.94" x2="213.20" y2="322.94" stroke="#4a4a4a" stroke-width="0.5"/>
<line x1="212.10" y1="325.18" x2="213.20" y2="325.18" stroke="#4a4a4a" stroke-width="0.5"/>
<line x1="212.10" y1="327.42" x2="213.20" y2="327.42" stroke="#4a4a4a" stroke-width="0.5"/>
<line x1="212.10" y1="329.66" x2="213.20" y2="329.66" stroke="#4a4a4a" stroke-width="0.5"/>
<line x1="212.10" y1="331.90" x2="213.20" y2="331.90" stroke="#4a4a4a" stroke-width="0.5"/>
<line x1="212.10" y1="334.14" x2="213.20" y2="334.14" stroke="#4a4a4a" stroke-width="0.5"/>
<line x1="212.10" y1="336.38" x2="213.20" y2="336.38" stroke="#4a4a4a" stroke-width="0.5"/>
<line x1="212.10" y1="338.62" x2="213.20" y2="338.62" stroke="#4a4a4a" stroke-width="0.5"/>
<line x1="212.10" y1="340.86" x2="213.20" y2="340.86" stroke="#4a4a4a" stroke-width="0.5"/>
<line x1="212.10" y1="343.10" x2="213.20" y2="343.10" stroke="#4a4a4a" stroke-width="0.5"/>
<line x1="212.10" y1="345.34" x2="213.20" y2="345.34" stroke="#4a4a4a" stroke-width="0.5"/>
<line x1="212.10" y1="347.58" x2="213.20" y2="347.58" stroke="#4a4a4a" stroke-width="0.5"/>
<line x1="212.10" y1="349.82" x2="213.20" y2="349.82" stroke="#4a4a4a" stroke-width="0.5"/>
<line x1="212.10" y1="352.06" x2="213.20" y2="352.06" stroke="#4a4a4a" stroke-width="0.5"/>
<line x1="212.10" y1="354.30" x2="213.20" y2="354.30" stroke="#4a4a4a" stroke-width="0.5"/>
<line x1="212.10" y1="356.54" x2="213.20" y2="356.54" stroke="#4a4a4a" stroke-width="0.5"/>
<line x1="212.10" y1="358.78" x2="213.20" y2="358.78" stroke="#4a4a4a" stroke-width="0.5"/>
<line x1="212.10" y1="361.02" x2="213.20" y2="361.02" stroke="#4a4a4a" stroke-width="0.5"/>
<line x1="212.10" y1="363.26" x2="213.20" y2="363.26" stroke="#4a4a4a" stroke-width="0.5"/>
<line x1="212.10" y1="365.50" x2="213.20" y2="365.50" stroke="#4a4a4a" stroke-width="0.5"/>
<line x1="212.10" y1="367.74" x2="213.20" y2="367.74" stroke="#4a4a4a" stroke-width="0.5"/>
<line x1="212.10" y1="369.98" x2="213.20" y2="369.98" stroke="#4a4a4a" stroke-width="0.5"/>
<line x1="212.10" y1="372.22" x2="213.20" y2="372.22" stroke="#4a4a4a" stroke-width="0.5"/>
<line x1="212.10" y1="374.46" x2="213.20" y2="374.46" stroke="#4a4a4a" stroke-width="0.5"/>
<line x1="212.10" y1="376.70" x2="213.20" y2="376.70" stroke="#4a4a4a" stroke-width="0.5"/>
<line x1="212.10" y1="378.94" x2="213.20" y2="378.94" stroke="#4a4a4a" stroke-width="0.5"/>
<line x1="212.10" y1="381.18" x2="213.20" y2="381.18" stroke="#4a4a4a" stroke-width="0.5"/>
<line x1="212.10" y1="383.42" x2="213.20" y2="383.42" stroke="#4a4a4a" stroke-width="0.5"/>
<line x1="212.10" y1="385.66" x2="213.20" y2="385.66" stroke="#4a4a4a" stroke-width="0.5"/>
<line x1="212.10" y1="319.30" x2="213.70" y2="319.30" stroke="#4a4a4a" stroke-width="0.55"/>
<text transform="translate(210.40,321.50) scale(1,1.18)" class="tl" text-anchor="end">0.00006</text>
<line x1="212.10" y1="330.50" x2="213.70" y2="330.50" stroke="#4a4a4a" stroke-width="0.55"/>
<text transform="translate(210.40,332.70) scale(1,1.18)" class="tl" text-anchor="end">0.00005</text>
<line x1="212.10" y1="341.70" x2="213.70" y2="341.70" stroke="#4a4a4a" stroke-width="0.55"/>
<text transform="translate(210.40,343.90) scale(1,1.18)" class="tl" text-anchor="end">0.00004</text>
<line x1="212.10" y1="352.90" x2="213.70" y2="352.90" stroke="#4a4a4a" stroke-width="0.55"/>
<text transform="translate(210.40,355.10) scale(1,1.18)" class="tl" text-anchor="end">0.00003</text>
<line x1="212.10" y1="364.10" x2="213.70" y2="364.10" stroke="#4a4a4a" stroke-width="0.55"/>
<text transform="translate(210.40,366.30) scale(1,1.18)" class="tl" text-anchor="end">0.00002</text>
<line x1="212.10" y1="375.30" x2="213.70" y2="375.30" stroke="#4a4a4a" stroke-width="0.55"/>
<text transform="translate(210.40,377.50) scale(1,1.18)" class="tl" text-anchor="end">0.00001</text>
<line x1="210.80" y1="386.50" x2="338.30" y2="386.50" stroke="#747474" stroke-width="0.75"/>
<line x1="217.25" y1="386.70" x2="217.25" y2="385.60" stroke="#4a4a4a" stroke-width="0.5"/>
<line x1="222.20" y1="386.70" x2="222.20" y2="385.60" stroke="#4a4a4a" stroke-width="0.5"/>
<line x1="227.14" y1="386.70" x2="227.14" y2="385.60" stroke="#4a4a4a" stroke-width="0.5"/>
<line x1="232.09" y1="386.70" x2="232.09" y2="385.60" stroke="#4a4a4a" stroke-width="0.5"/>
<line x1="241.99" y1="386.70" x2="241.99" y2="385.60" stroke="#4a4a4a" stroke-width="0.5"/>
<line x1="246.94" y1="386.70" x2="246.94" y2="385.60" stroke="#4a4a4a" stroke-width="0.5"/>
<line x1="251.88" y1="386.70" x2="251.88" y2="385.60" stroke="#4a4a4a" stroke-width="0.5"/>
<line x1="256.83" y1="386.70" x2="256.83" y2="385.60" stroke="#4a4a4a" stroke-width="0.5"/>
<line x1="266.73" y1="386.70" x2="266.73" y2="385.60" stroke="#4a4a4a" stroke-width="0.5"/>
<line x1="271.68" y1="386.70" x2="271.68" y2="385.60" stroke="#4a4a4a" stroke-width="0.5"/>
<line x1="276.62" y1="386.70" x2="276.62" y2="385.60" stroke="#4a4a4a" stroke-width="0.5"/>
<line x1="281.57" y1="386.70" x2="281.57" y2="385.60" stroke="#4a4a4a" stroke-width="0.5"/>
<line x1="291.47" y1="386.70" x2="291.47" y2="385.60" stroke="#4a4a4a" stroke-width="0.5"/>
<line x1="296.42" y1="386.70" x2="296.42" y2="385.60" stroke="#4a4a4a" stroke-width="0.5"/>
<line x1="301.36" y1="386.70" x2="301.36" y2="385.60" stroke="#4a4a4a" stroke-width="0.5"/>
<line x1="306.31" y1="386.70" x2="306.31" y2="385.60" stroke="#4a4a4a" stroke-width="0.5"/>
<line x1="316.21" y1="386.70" x2="316.21" y2="385.60" stroke="#4a4a4a" stroke-width="0.5"/>
<line x1="321.16" y1="386.70" x2="321.16" y2="385.60" stroke="#4a4a4a" stroke-width="0.5"/>
<line x1="326.10" y1="386.70" x2="326.10" y2="385.60" stroke="#4a4a4a" stroke-width="0.5"/>
<line x1="331.05" y1="386.70" x2="331.05" y2="385.60" stroke="#4a4a4a" stroke-width="0.5"/>
<line x1="237.04" y1="386.70" x2="237.04" y2="385.10" stroke="#4a4a4a" stroke-width="0.55"/>
<text transform="translate(237.04,391.80) scale(1,1.15)" class="xl" text-anchor="middle">10</text>
<line x1="261.78" y1="386.70" x2="261.78" y2="385.10" stroke="#4a4a4a" stroke-width="0.55"/>
<text transform="translate(261.78,391.80) scale(1,1.15)" class="xl" text-anchor="middle">20</text>
<line x1="286.52" y1="386.70" x2="286.52" y2="385.10" stroke="#4a4a4a" stroke-width="0.55"/>
<text transform="translate(286.52,391.80) scale(1,1.15)" class="xl" text-anchor="middle">30</text>
<line x1="311.26" y1="386.70" x2="311.26" y2="385.10" stroke="#4a4a4a" stroke-width="0.55"/>
<text transform="translate(311.26,391.80) scale(1,1.15)" class="xl" text-anchor="middle">40</text>
<line x1="336.00" y1="386.70" x2="336.00" y2="385.10" stroke="#4a4a4a" stroke-width="0.55"/>
<text transform="translate(336.00,391.80) scale(1,1.15)" class="xl" text-anchor="middle">50</text>
<text x="342.70" y="388.70" class="tau">&#964;</text>
<rect x="338.80" y="309.45" width="23.10" height="60.00" fill="#ffffff"/>
<g clip-path="url(#lc11)">
<line x1="341.00" y1="317.70" x2="353.40" y2="317.70" stroke="#4a4a4a" stroke-width="0.80"/>
<text x="355.60" y="319.60" class="lg">C</text>
<line x1="341.00" y1="332.23" x2="353.40" y2="332.23" stroke="#ff8c8c" stroke-width="1.10"/>
<text x="355.60" y="334.13" class="lg">Si</text>
<line x1="341.00" y1="346.76" x2="353.40" y2="346.76" stroke="#4aa64a" stroke-width="0.80"/>
<text x="355.60" y="348.66" class="lg">Ge</text>
<line x1="341.00" y1="361.29" x2="353.40" y2="361.29" stroke="#7474ff" stroke-width="0.95"/>
<text x="355.60" y="363.19" class="lg">Sn</text>
</g>
<rect x="338.80" y="309.45" width="23.10" height="60.00" rx="0.9" fill="none" stroke="#8c8c8c" stroke-width="1.0"/>
<text x="200.60" y="304.00" class="tt">&#946;<tspan class="sb" dy="0.25">CRIT</tspan><tspan dy="-0.25" dx="1.10" class="mn">&#8722;</tspan><tspan dx="1.10">&#946;</tspan><tspan class="sb" dy="0.25">0</tspan></text>
<path d="M226.0,386.2 226.8,386.2 227.5,386.2 228.2,386.1 229.0,386.1 229.8,386.0 230.5,385.9 231.2,385.7 232.0,385.4 232.8,384.9 233.5,384.3 234.2,383.2 235.0,381.7 235.8,379.9 236.5,377.9 237.2,375.7 238.0,373.4 238.8,370.8 239.5,368.1 240.2,365.2 241.0,362.3 241.8,359.5 242.5,356.7 243.2,354.1 244.0,351.6 244.8,349.4 245.5,347.3 246.2,345.4 247.0,343.6 247.8,341.9 248.5,340.5 249.2,339.1 250.0,337.9 250.8,336.8 251.5,335.8 252.2,334.9 253.0,334.0 253.8,333.3 254.5,332.5 255.2,331.8 256.0,331.2 256.8,330.7 257.5,330.2 258.2,329.7 259.0,329.3 259.8,328.9 260.5,328.5 261.2,328.2 262.0,327.8 262.8,327.6 263.5,327.3 264.2,327.1 265.0,326.9 265.8,326.7 266.5,326.5 267.2,326.4 268.0,326.2 268.8,326.1 269.5,325.9 270.2,325.8 271.0,325.7 271.8,325.7 272.5,325.6 273.2,325.5 274.0,325.5 274.8,325.4 275.5,325.4 276.2,325.4 277.0,325.3 277.8,325.3 278.5,325.3 279.2,325.2 280.0,325.2 280.8,325.2 281.5,325.2 282.2,325.1 283.0,325.1 283.8,325.1 284.5,325.1 285.2,325.0 286.0,325.0 286.8,325.0 287.5,325.0 288.2,325.0 289.0,325.0 289.8,325.0 290.5,325.1 291.2,325.1 292.0,325.1 292.8,325.2 293.5,325.3 294.2,325.4 295.0,325.5 295.8,325.6 296.5,325.7 297.2,325.8 298.0,325.9 298.8,326.0 299.5,326.2 300.2,326.3 301.0,326.4 301.8,326.6 302.5,326.7 303.2,326.9 304.0,327.0 304.8,327.2 305.5,327.4 306.2,327.6 307.0,327.8 307.8,328.1 308.5,328.3 309.2,328.6 310.0,328.8 310.8,329.1 311.5,329.4 312.2,329.7 313.0,330.0 313.8,330.4 314.5,330.7 315.2,331.1 316.0,331.6 316.8,332.1 317.5,332.5 318.2,333.1 319.0,333.6 319.8,334.1 320.5,334.6 321.2,335.2 322.0,335.7 322.8,336.2 323.5,336.7 324.2,337.2 325.0,337.7 325.8,338.2 326.5,338.8 327.2,339.3 328.0,339.8 328.8,340.3 329.5,340.9 330.2,341.5 331.0,342.1 331.8,342.7 332.5,343.3 333.2,343.9 334.0,344.6 334.8,345.3 335.5,345.9 336.0,346.4" fill="none" stroke="#000000" stroke-width="1.40" stroke-linejoin="round" stroke-linecap="butt"/>
<path d="M226.0,386.2 226.8,386.2 227.5,386.2 228.2,386.1 229.0,386.0 229.8,385.9 230.5,385.7 231.2,385.3 232.0,384.7 232.8,383.8 233.5,382.7 234.2,381.3 235.0,379.6 235.8,377.6 236.5,375.2 237.2,372.7 238.0,369.8 238.8,366.7 239.5,363.5 240.2,360.4 241.0,357.5 241.8,354.7 242.5,352.1 243.2,349.5 244.0,346.8 244.8,344.1 245.5,341.4 246.2,338.5 247.0,335.5 247.8,332.7 248.5,330.4 249.2,328.5 250.0,327.1 250.8,325.9 251.5,324.8 252.2,323.8 253.0,322.8 253.8,322.0 254.5,321.2 255.2,320.5 256.0,319.9 256.8,319.3 257.5,318.8 258.2,318.3 259.0,317.9 259.8,317.5 260.5,317.2 261.2,316.9 262.0,316.6 262.8,316.4 263.5,316.2 264.2,316.0 265.0,315.8 265.8,315.7 266.5,315.5 267.2,315.4 268.0,315.3 268.8,315.2 269.5,315.1 270.2,315.0 271.0,314.9 271.8,314.8 272.5,314.7 273.2,314.7 274.0,314.6 274.8,314.6 275.5,314.6 276.2,314.6 277.0,314.5 277.8,314.5 278.5,314.5 279.2,314.5 280.0,314.5 280.8,314.5 281.5,314.5 282.2,314.4 283.0,314.4 283.8,314.4 284.5,314.4 285.2,314.4 286.0,314.4 286.8,314.4 287.5,314.4 288.2,314.4 289.0,314.4 289.8,314.4 290.5,314.5 291.2,314.5 292.0,314.6 292.8,314.7 293.5,314.8 294.2,314.9 295.0,315.0 295.8,315.2 296.5,315.3 297.2,315.5 298.0,315.6 298.8,315.8 299.5,316.0 300.2,316.2 301.0,316.3 301.8,316.5 302.5,316.7 303.2,317.0 304.0,317.2 304.8,317.5 305.5,317.8 306.2,318.1 307.0,318.5 307.8,318.9 308.5,319.3 309.2,319.7 310.0,320.2 310.8,320.6 311.5,321.0 312.2,321.5 313.0,322.0 313.8,322.4 314.5,322.9 315.2,323.4 316.0,324.0 316.8,324.5 317.5,325.1 318.2,325.7 319.0,326.3 319.8,326.9 320.5,327.5 321.2,328.1 322.0,328.7 322.8,329.3 323.5,329.9 324.2,330.5 325.0,331.0 325.8,331.6 326.5,332.2 327.2,332.8 328.0,333.3 328.8,333.9 329.5,334.5 330.2,335.1 331.0,335.6 331.8,336.2 332.5,336.8 333.2,337.3 334.0,337.9 334.8,338.5 335.5,339.0 336.0,339.4" fill="none" stroke="#ff1010" stroke-width="1.40" stroke-linejoin="round" stroke-linecap="butt"/>
<path d="M226.0,386.2 226.8,386.2 227.5,386.2 228.2,386.1 229.0,386.0 229.8,385.9 230.5,385.7 231.2,385.3 232.0,384.6 232.8,383.7 233.5,382.5 234.2,381.1 235.0,379.3 235.8,377.2 236.5,374.7 237.2,372.0 238.0,369.0 238.8,365.9 239.5,362.7 240.2,359.6 241.0,356.7 241.8,354.0 242.5,351.4 243.2,348.7 244.0,346.0 244.8,343.2 245.5,340.3 246.2,337.3 247.0,334.4 247.8,331.7 248.5,329.6 249.2,327.9 250.0,326.5 250.8,325.3 251.5,324.1 252.2,322.9 253.0,321.8 253.8,320.9 254.5,320.0 255.2,319.3 256.0,318.6 256.8,317.9 257.5,317.4 258.2,316.9 259.0,316.5 259.8,316.1 260.5,315.8 261.2,315.5 262.0,315.2 262.8,315.0 263.5,314.8 264.2,314.6 265.0,314.4 265.8,314.3 266.5,314.2 267.2,314.1 268.0,314.0 268.8,313.9 269.5,313.9 270.2,313.8 271.0,313.7 271.8,313.7 272.5,313.6 273.2,313.6 274.0,313.5 274.8,313.5 275.5,313.5 276.2,313.5 277.0,313.5 277.8,313.4 278.5,313.4 279.2,313.4 280.0,313.4 280.8,313.4 281.5,313.4 282.2,313.3 283.0,313.3 283.8,313.3 284.5,313.3 285.2,313.3 286.0,313.3 286.8,313.3 287.5,313.3 288.2,313.3 289.0,313.3 289.8,313.3 290.5,313.4 291.2,313.4 292.0,313.5 292.8,313.6 293.5,313.7 294.2,313.8 295.0,314.0 295.8,314.1 296.5,314.3 297.2,314.5 298.0,314.6 298.8,314.8 299.5,315.0 300.2,315.2 301.0,315.4 301.8,315.6 302.5,315.8 303.2,316.1 304.0,316.3 304.8,316.6 305.5,316.9 306.2,317.3 307.0,317.6 307.8,318.0 308.5,318.4 309.2,318.8 310.0,319.3 310.8,319.7 311.5,320.1 312.2,320.6 313.0,321.1 313.8,321.5 314.5,322.0 315.2,322.6 316.0,323.1 316.8,323.7 317.5,324.3 318.2,324.9 319.0,325.5 319.8,326.1 320.5,326.8 321.2,327.4 322.0,328.0 322.8,328.6 323.5,329.2 324.2,329.8 325.0,330.4 325.8,331.0 326.5,331.6 327.2,332.2 328.0,332.8 328.8,333.4 329.5,334.0 330.2,334.6 331.0,335.1 331.8,335.7 332.5,336.2 333.2,336.8 334.0,337.3 334.8,337.8 335.5,338.4 336.0,338.7" fill="none" stroke="#108a10" stroke-width="1.40" stroke-linejoin="round" stroke-linecap="butt"/>
<path d="M212.3,386.2 213.0,386.2 213.8,386.2 214.5,386.2 215.3,386.2 216.0,386.2 216.8,386.2 217.5,386.2 218.3,386.2 219.0,386.2 219.8,386.2 220.5,386.2 221.3,386.2 222.0,386.2 222.8,386.2 223.5,386.2 224.3,386.2 225.0,386.2 225.8,386.2 226.5,386.2 227.3,386.2 228.0,386.1 228.8,386.1 229.5,385.9 230.3,385.7 231.0,385.3 231.8,384.7 232.5,383.8 233.3,382.6 234.0,381.1 234.8,379.3 235.5,377.2 236.3,374.7 237.0,372.0 237.8,369.0 238.5,365.8 239.3,362.4 240.0,359.2 240.8,356.3 241.5,353.5 242.3,350.7 243.0,347.9 243.8,345.1 244.5,342.1 245.3,339.1 246.0,336.0 246.8,333.1 247.5,330.6 248.3,328.6 249.0,327.1 249.8,325.7 250.5,324.4 251.3,323.1 252.0,321.9 252.8,320.8 253.5,319.7 254.3,318.7 255.0,317.7 255.8,316.8 256.5,316.1 257.3,315.4 258.0,314.8 258.8,314.3 259.5,313.9 260.3,313.5 261.0,313.2 261.8,312.8 262.5,312.6 263.3,312.3 264.0,312.1 264.8,312.0 265.5,311.8 266.3,311.7 267.0,311.6 267.8,311.4 268.5,311.3 269.3,311.2 270.0,311.1 270.8,311.1 271.5,311.0 272.3,310.9 273.0,310.9 273.8,310.8 274.5,310.8 275.3,310.8 276.0,310.8 276.8,310.8 277.5,310.8 278.3,310.8 279.0,310.8 279.8,310.7 280.5,310.7 281.3,310.7 282.0,310.7 282.8,310.7 283.5,310.7 284.3,310.7 285.0,310.7 285.8,310.7 286.5,310.7 287.3,310.7 288.0,310.7 288.8,310.7 289.5,310.7 290.3,310.8 291.0,310.8 291.8,310.9 292.5,311.0 293.3,311.2 294.0,311.3 294.8,311.5 295.5,311.7 296.3,311.9 297.0,312.1 297.8,312.3 298.5,312.5 299.3,312.7 300.0,313.0 300.8,313.2 301.5,313.4 302.3,313.7 303.0,313.9 303.8,314.2 304.5,314.5 305.3,314.8 306.0,315.1 306.8,315.5 307.5,315.8 308.3,316.2 309.0,316.6 309.8,317.0 310.5,317.5 311.3,317.9 312.0,318.4 312.8,318.8 313.5,319.3 314.3,319.8 315.0,320.3 315.8,320.8 316.5,321.4 317.3,321.9 318.0,322.5 318.8,323.1 319.5,323.8 320.3,324.4 321.0,325.0 321.8,325.6 322.5,326.3 323.3,326.9 324.0,327.6 324.8,328.2 325.5,328.9 326.3,329.6 327.0,330.3 327.8,331.0 328.5,331.7 329.3,332.3 330.0,333.0 330.8,333.6 331.5,334.2 332.3,334.8 333.0,335.4 333.8,336.0 334.5,336.6 335.3,337.1 336.0,337.7" fill="none" stroke="#1010ff" stroke-width="1.40" stroke-linejoin="round" stroke-linecap="butt"/>
<line x1="394.00" y1="309.00" x2="394.00" y2="387.30" stroke="#747474" stroke-width="0.75"/>
<line x1="393.80" y1="309.70" x2="394.90" y2="309.70" stroke="#4a4a4a" stroke-width="0.5"/>
<line x1="393.80" y1="311.96" x2="394.90" y2="311.96" stroke="#4a4a4a" stroke-width="0.5"/>
<line x1="393.80" y1="314.22" x2="394.90" y2="314.22" stroke="#4a4a4a" stroke-width="0.5"/>
<line x1="393.80" y1="316.48" x2="394.90" y2="316.48" stroke="#4a4a4a" stroke-width="0.5"/>
<line x1="393.80" y1="318.74" x2="394.90" y2="318.74" stroke="#4a4a4a" stroke-width="0.5"/>
<line x1="393.80" y1="321.00" x2="394.90" y2="321.00" stroke="#4a4a4a" stroke-width="0.5"/>
<line x1="393.80" y1="323.26" x2="394.90" y2="323.26" stroke="#4a4a4a" stroke-width="0.5"/>
<line x1="393.80" y1="325.52" x2="394.90" y2="325.52" stroke="#4a4a4a" stroke-width="0.5"/>
<line x1="393.80" y1="327.78" x2="394.90" y2="327.78" stroke="#4a4a4a" stroke-width="0.5"/>
<line x1="393.80" y1="330.04" x2="394.90" y2="330.04" stroke="#4a4a4a" stroke-width="0.5"/>
<line x1="393.80" y1="332.30" x2="394.90" y2="332.30" stroke="#4a4a4a" stroke-width="0.5"/>
<line x1="393.80" y1="334.56" x2="394.90" y2="334.56" stroke="#4a4a4a" stroke-width="0.5"/>
<line x1="393.80" y1="336.82" x2="394.90" y2="336.82" stroke="#4a4a4a" stroke-width="0.5"/>
<line x1="393.80" y1="339.08" x2="394.90" y2="339.08" stroke="#4a4a4a" stroke-width="0.5"/>
<line x1="393.80" y1="341.34" x2="394.90" y2="341.34" stroke="#4a4a4a" stroke-width="0.5"/>
<line x1="393.80" y1="343.60" x2="394.90" y2="343.60" stroke="#4a4a4a" stroke-width="0.5"/>
<line x1="393.80" y1="345.86" x2="394.90" y2="345.86" stroke="#4a4a4a" stroke-width="0.5"/>
<line x1="393.80" y1="348.12" x2="394.90" y2="348.12" stroke="#4a4a4a" stroke-width="0.5"/>
<line x1="393.80" y1="350.38" x2="394.90" y2="350.38" stroke="#4a4a4a" stroke-width="0.5"/>
<line x1="393.80" y1="352.64" x2="394.90" y2="352.64" stroke="#4a4a4a" stroke-width="0.5"/>
<line x1="393.80" y1="354.90" x2="394.90" y2="354.90" stroke="#4a4a4a" stroke-width="0.5"/>
<line x1="393.80" y1="357.16" x2="394.90" y2="357.16" stroke="#4a4a4a" stroke-width="0.5"/>
<line x1="393.80" y1="359.42" x2="394.90" y2="359.42" stroke="#4a4a4a" stroke-width="0.5"/>
<line x1="393.80" y1="361.68" x2="394.90" y2="361.68" stroke="#4a4a4a" stroke-width="0.5"/>
<line x1="393.80" y1="363.94" x2="394.90" y2="363.94" stroke="#4a4a4a" stroke-width="0.5"/>
<line x1="393.80" y1="366.20" x2="394.90" y2="366.20" stroke="#4a4a4a" stroke-width="0.5"/>
<line x1="393.80" y1="368.46" x2="394.90" y2="368.46" stroke="#4a4a4a" stroke-width="0.5"/>
<line x1="393.80" y1="370.72" x2="394.90" y2="370.72" stroke="#4a4a4a" stroke-width="0.5"/>
<line x1="393.80" y1="372.98" x2="394.90" y2="372.98" stroke="#4a4a4a" stroke-width="0.5"/>
<line x1="393.80" y1="375.24" x2="394.90" y2="375.24" stroke="#4a4a4a" stroke-width="0.5"/>
<line x1="393.80" y1="377.50" x2="394.90" y2="377.50" stroke="#4a4a4a" stroke-width="0.5"/>
<line x1="393.80" y1="379.76" x2="394.90" y2="379.76" stroke="#4a4a4a" stroke-width="0.5"/>
<line x1="393.80" y1="382.02" x2="394.90" y2="382.02" stroke="#4a4a4a" stroke-width="0.5"/>
<line x1="393.80" y1="384.28" x2="394.90" y2="384.28" stroke="#4a4a4a" stroke-width="0.5"/>
<line x1="393.80" y1="318.00" x2="395.40" y2="318.00" stroke="#4a4a4a" stroke-width="0.55"/>
<text transform="translate(392.10,320.20) scale(1,1.18)" class="tl" text-anchor="end">0.000012</text>
<line x1="393.80" y1="329.20" x2="395.40" y2="329.20" stroke="#4a4a4a" stroke-width="0.55"/>
<text transform="translate(392.10,331.40) scale(1,1.18)" class="tl" text-anchor="end">0.00001</text>
<line x1="393.80" y1="340.50" x2="395.40" y2="340.50" stroke="#4a4a4a" stroke-width="0.55"/>
<text transform="translate(392.10,342.70) scale(1,1.18)" class="tl" text-anchor="end">8&#215;10<tspan dy="-1.4" font-size="2.7">-6</tspan></text>
<line x1="393.80" y1="351.80" x2="395.40" y2="351.80" stroke="#4a4a4a" stroke-width="0.55"/>
<text transform="translate(392.10,354.00) scale(1,1.18)" class="tl" text-anchor="end">6&#215;10<tspan dy="-1.4" font-size="2.7">-6</tspan></text>
<line x1="393.80" y1="363.10" x2="395.40" y2="363.10" stroke="#4a4a4a" stroke-width="0.55"/>
<text transform="translate(392.10,365.30) scale(1,1.18)" class="tl" text-anchor="end">4&#215;10<tspan dy="-1.4" font-size="2.7">-6</tspan></text>
<line x1="393.80" y1="374.40" x2="395.40" y2="374.40" stroke="#4a4a4a" stroke-width="0.55"/>
<text transform="translate(392.10,376.60) scale(1,1.18)" class="tl" text-anchor="end">2&#215;10<tspan dy="-1.4" font-size="2.7">-6</tspan></text>
<line x1="392.50" y1="385.80" x2="518.30" y2="385.80" stroke="#747474" stroke-width="0.75"/>
<line x1="398.88" y1="386.00" x2="398.88" y2="384.90" stroke="#4a4a4a" stroke-width="0.5"/>
<line x1="403.76" y1="386.00" x2="403.76" y2="384.90" stroke="#4a4a4a" stroke-width="0.5"/>
<line x1="408.64" y1="386.00" x2="408.64" y2="384.90" stroke="#4a4a4a" stroke-width="0.5"/>
<line x1="413.52" y1="386.00" x2="413.52" y2="384.90" stroke="#4a4a4a" stroke-width="0.5"/>
<line x1="423.28" y1="386.00" x2="423.28" y2="384.90" stroke="#4a4a4a" stroke-width="0.5"/>
<line x1="428.16" y1="386.00" x2="428.16" y2="384.90" stroke="#4a4a4a" stroke-width="0.5"/>
<line x1="433.04" y1="386.00" x2="433.04" y2="384.90" stroke="#4a4a4a" stroke-width="0.5"/>
<line x1="437.92" y1="386.00" x2="437.92" y2="384.90" stroke="#4a4a4a" stroke-width="0.5"/>
<line x1="447.68" y1="386.00" x2="447.68" y2="384.90" stroke="#4a4a4a" stroke-width="0.5"/>
<line x1="452.56" y1="386.00" x2="452.56" y2="384.90" stroke="#4a4a4a" stroke-width="0.5"/>
<line x1="457.44" y1="386.00" x2="457.44" y2="384.90" stroke="#4a4a4a" stroke-width="0.5"/>
<line x1="462.32" y1="386.00" x2="462.32" y2="384.90" stroke="#4a4a4a" stroke-width="0.5"/>
<line x1="472.08" y1="386.00" x2="472.08" y2="384.90" stroke="#4a4a4a" stroke-width="0.5"/>
<line x1="476.96" y1="386.00" x2="476.96" y2="384.90" stroke="#4a4a4a" stroke-width="0.5"/>
<line x1="481.84" y1="386.00" x2="481.84" y2="384.90" stroke="#4a4a4a" stroke-width="0.5"/>
<line x1="486.72" y1="386.00" x2="486.72" y2="384.90" stroke="#4a4a4a" stroke-width="0.5"/>
<line x1="496.48" y1="386.00" x2="496.48" y2="384.90" stroke="#4a4a4a" stroke-width="0.5"/>
<line x1="501.36" y1="386.00" x2="501.36" y2="384.90" stroke="#4a4a4a" stroke-width="0.5"/>
<line x1="506.24" y1="386.00" x2="506.24" y2="384.90" stroke="#4a4a4a" stroke-width="0.5"/>
<line x1="511.12" y1="386.00" x2="511.12" y2="384.90" stroke="#4a4a4a" stroke-width="0.5"/>
<line x1="418.40" y1="386.00" x2="418.40" y2="384.40" stroke="#4a4a4a" stroke-width="0.55"/>
<text transform="translate(418.40,391.10) scale(1,1.15)" class="xl" text-anchor="middle">10</text>
<line x1="442.80" y1="386.00" x2="442.80" y2="384.40" stroke="#4a4a4a" stroke-width="0.55"/>
<text transform="translate(442.80,391.10) scale(1,1.15)" class="xl" text-anchor="middle">20</text>
<line x1="467.20" y1="386.00" x2="467.20" y2="384.40" stroke="#4a4a4a" stroke-width="0.55"/>
<text transform="translate(467.20,391.10) scale(1,1.15)" class="xl" text-anchor="middle">30</text>
<line x1="491.60" y1="386.00" x2="491.60" y2="384.40" stroke="#4a4a4a" stroke-width="0.55"/>
<text transform="translate(491.60,391.10) scale(1,1.15)" class="xl" text-anchor="middle">40</text>
<line x1="516.00" y1="386.00" x2="516.00" y2="384.40" stroke="#4a4a4a" stroke-width="0.55"/>
<text transform="translate(516.00,391.10) scale(1,1.15)" class="xl" text-anchor="middle">50</text>
<text x="522.70" y="388.00" class="tau">&#964;</text>
<rect x="518.80" y="309.45" width="23.10" height="60.00" fill="#ffffff"/>
<g clip-path="url(#lc12)">
<line x1="521.00" y1="317.70" x2="533.40" y2="317.70" stroke="#4a4a4a" stroke-width="0.80"/>
<text x="535.60" y="319.60" class="lg">C</text>
<line x1="521.00" y1="332.23" x2="533.40" y2="332.23" stroke="#ff8c8c" stroke-width="1.10"/>
<text x="535.60" y="334.13" class="lg">Si</text>
<line x1="521.00" y1="346.76" x2="533.40" y2="346.76" stroke="#4aa64a" stroke-width="0.80"/>
<text x="535.60" y="348.66" class="lg">Ge</text>
<line x1="521.00" y1="361.29" x2="533.40" y2="361.29" stroke="#7474ff" stroke-width="0.95"/>
<text x="535.60" y="363.19" class="lg">Sn</text>
</g>
<rect x="518.80" y="309.45" width="23.10" height="60.00" rx="0.9" fill="none" stroke="#8c8c8c" stroke-width="1.0"/>
<text x="381.90" y="304.50" class="tt">&#946;<tspan class="sb" dy="0.25">CRIT</tspan><tspan dy="-0.25" dx="1.10" class="mn">&#8722;</tspan><tspan dx="1.10">&#946;</tspan><tspan class="sb" dy="0.25">D</tspan></text>
<path d="M407.0,385.5 407.8,385.5 408.5,385.4 409.2,385.3 410.0,385.1 410.8,384.8 411.5,384.3 412.2,383.5 413.0,382.5 413.8,380.5 414.5,377.3 415.2,373.1 416.0,367.7 416.8,361.7 417.5,355.9 418.2,350.4 419.0,344.8 419.8,339.0 420.5,333.8 421.2,330.5 422.0,328.6 422.8,327.3 423.5,326.3 424.2,325.9 425.0,326.1 425.8,326.7 426.5,327.8 427.2,329.4 428.0,331.4 428.8,333.6 429.5,335.8 430.2,338.3 431.0,340.9 431.8,343.4 432.5,345.9 433.2,348.3 434.0,350.6 434.8,352.9 435.5,355.0 436.2,356.9 437.0,358.8 437.8,360.5 438.5,362.2 439.2,363.7 440.0,365.1 440.8,366.3 441.5,367.5 442.2,368.6 443.0,369.6 443.8,370.6 444.5,371.5 445.2,372.3 446.0,373.0 446.8,373.7 447.5,374.4 448.2,375.0 449.0,375.5 449.8,376.1 450.5,376.6 451.2,377.1 452.0,377.6 452.8,378.0 453.5,378.5 454.2,378.9 455.0,379.3 455.8,379.7 456.5,380.0 457.2,380.4 458.0,380.8 458.8,381.1 459.5,381.4 460.2,381.7 461.0,382.0 461.8,382.2 462.5,382.4 463.2,382.6 464.0,382.8 464.8,382.9 465.5,383.1 466.2,383.3 467.0,383.4 467.8,383.6 468.5,383.7 469.2,383.9 470.0,384.0 470.8,384.1 471.5,384.2 472.2,384.3 473.0,384.3 473.8,384.4 474.5,384.4 475.0,384.4" fill="none" stroke="#000000" stroke-width="1.40" stroke-linejoin="round" stroke-linecap="butt"/>
<path d="M407.0,385.5 407.8,385.5 408.5,385.4 409.2,385.3 410.0,385.1 410.8,384.7 411.5,384.1 412.2,383.2 413.0,382.0 413.8,380.1 414.5,377.1 415.2,373.0 416.0,367.5 416.8,361.0 417.5,354.4 418.2,347.8 419.0,340.9 419.8,333.7 420.5,327.0 421.2,322.1 422.0,318.5 422.8,316.0 423.5,314.6 424.2,314.1 425.0,314.5 425.8,315.5 426.5,317.3 427.2,319.9 428.0,322.8 428.8,325.8 429.5,328.8 430.2,332.0 431.0,335.3 431.8,338.4 432.5,341.5 433.2,344.4 434.0,347.2 434.8,349.8 435.5,352.3 436.2,354.6 437.0,356.8 437.8,358.9 438.5,360.9 439.2,362.7 440.0,364.3 440.8,365.7 441.5,367.0 442.2,368.2 443.0,369.4 443.8,370.4 444.5,371.4 445.2,372.3 446.0,373.0 446.8,373.7 447.5,374.3 448.2,374.9 449.0,375.5 449.8,376.0 450.5,376.5 451.2,377.0 452.0,377.4 452.8,377.8 453.5,378.3 454.2,378.7 455.0,379.1 455.8,379.5 456.5,379.9 457.2,380.3 458.0,380.7 458.8,381.0 459.5,381.4 460.2,381.7 461.0,381.9 461.8,382.2 462.5,382.4 463.2,382.6 464.0,382.8 464.8,382.9 465.5,383.1 466.2,383.3 467.0,383.4 467.8,383.6 468.5,383.7 469.2,383.9 470.0,384.0 470.8,384.1 471.5,384.2 472.2,384.3 473.0,384.3 473.8,384.4 474.5,384.4 475.0,384.4" fill="none" stroke="#ff1010" stroke-width="1.40" stroke-linejoin="round" stroke-linecap="butt"/>
<path d="M407.0,385.5 407.8,385.5 408.5,385.4 409.2,385.3 410.0,385.1 410.8,384.7 411.5,384.1 412.2,383.2 413.0,382.0 413.8,380.1 414.5,377.1 415.2,373.0 416.0,367.5 416.8,360.9 417.5,354.3 418.2,347.5 419.0,340.6 419.8,333.2 420.5,326.3 421.2,321.2 422.0,317.6 422.8,315.0 423.5,313.6 424.2,313.2 425.0,313.8 425.8,314.9 426.5,316.8 427.2,319.4 428.0,322.3 428.8,325.2 429.5,328.2 430.2,331.4 431.0,334.7 431.8,337.9 432.5,341.0 433.2,343.9 434.0,346.8 434.8,349.5 435.5,352.0 436.2,354.3 437.0,356.6 437.8,358.7 438.5,360.7 439.2,362.5 440.0,364.1 440.8,365.5 441.5,366.9 442.2,368.1 443.0,369.3 443.8,370.4 444.5,371.4 445.2,372.2 446.0,373.0 446.8,373.7 447.5,374.3 448.2,374.9 449.0,375.5 449.8,376.0 450.5,376.4 451.2,376.9 452.0,377.3 452.8,377.7 453.5,378.2 454.2,378.6 455.0,379.0 455.8,379.4 456.5,379.8 457.2,380.2 458.0,380.6 458.8,381.0 459.5,381.3 460.2,381.6 461.0,381.9 461.8,382.2 462.5,382.4 463.2,382.6 464.0,382.8 464.8,382.9 465.5,383.1 466.2,383.3 467.0,383.4 467.8,383.6 468.5,383.7 469.2,383.9 470.0,384.0 470.8,384.1 471.5,384.2 472.2,384.3 473.0,384.3 473.8,384.4 474.5,384.4 475.0,384.4" fill="none" stroke="#108a10" stroke-width="1.40" stroke-linejoin="round" stroke-linecap="butt"/>
<path d="M394.0,385.5 394.8,385.5 395.5,385.5 396.2,385.5 397.0,385.5 397.8,385.5 398.5,385.5 399.2,385.5 400.0,385.5 400.8,385.5 401.5,385.5 402.2,385.5 403.0,385.5 403.8,385.5 404.5,385.5 405.2,385.5 406.0,385.5 406.8,385.5 407.5,385.5 408.2,385.4 409.0,385.3 409.8,385.2 410.5,384.8 411.2,384.3 412.0,383.4 412.8,382.4 413.5,380.8 414.2,378.2 415.0,374.5 415.8,369.5 416.5,363.1 417.2,356.4 418.0,349.6 418.8,342.7 419.5,335.4 420.2,328.0 421.0,322.0 421.8,317.5 422.5,314.2 423.2,312.2 424.0,311.5 424.8,312.0 425.5,313.1 426.2,314.9 427.0,317.4 427.8,320.4 428.5,323.5 429.2,326.5 430.0,329.7 430.8,333.1 431.5,336.3 432.2,339.5 433.0,342.5 433.8,345.4 434.5,348.2 435.2,350.7 436.0,353.2 436.8,355.5 437.5,357.7 438.2,359.8 439.0,361.8 439.8,363.5 440.5,365.0 441.2,366.4 442.0,367.7 442.8,368.9 443.5,370.0 444.2,371.1 445.0,372.0 445.8,372.8 446.5,373.5 447.2,374.1 448.0,374.7 448.8,375.2 449.5,375.7 450.2,376.2 451.0,376.7 451.8,377.1 452.5,377.5 453.2,377.9 454.0,378.3 454.8,378.7 455.5,379.2 456.2,379.6 457.0,380.0 457.8,380.4 458.5,380.8 459.2,381.2 460.0,381.5 460.8,381.8 461.5,382.1 462.2,382.3 463.0,382.5 463.8,382.7 464.5,382.9 465.2,383.0 466.0,383.2 466.8,383.3 467.5,383.5 468.2,383.6 469.0,383.7 469.8,383.8 470.5,383.9 471.2,384.0 472.0,384.1 472.8,384.2 473.5,384.3 474.2,384.3 475.0,384.4 475.8,384.5 476.5,384.5 477.2,384.6 478.0,384.6 478.8,384.7 479.5,384.7 480.2,384.8 481.0,384.8 481.8,384.9 482.5,384.9 483.2,385.0 484.0,385.0 484.8,385.0 485.5,385.1 486.2,385.1 487.0,385.1 487.8,385.1 488.5,385.2 489.2,385.2 490.0,385.2 490.8,385.2 491.5,385.2 492.2,385.2 493.0,385.3 493.8,385.3 494.5,385.3 495.2,385.3 496.0,385.3 496.8,385.3 497.5,385.3 498.2,385.3 499.0,385.4 499.8,385.4 500.5,385.4 501.2,385.4 502.0,385.4 502.8,385.4 503.5,385.4 504.2,385.4 505.0,385.4 505.8,385.4 506.5,385.5 507.2,385.5 508.0,385.5 508.8,385.5 509.5,385.5 510.2,385.5 511.0,385.5 511.8,385.5 512.5,385.5 513.2,385.5 514.0,385.5 514.8,385.5 515.5,385.5 516.0,385.5" fill="none" stroke="#1010ff" stroke-width="1.40" stroke-linejoin="round" stroke-linecap="butt"/></svg>
</body></html>
